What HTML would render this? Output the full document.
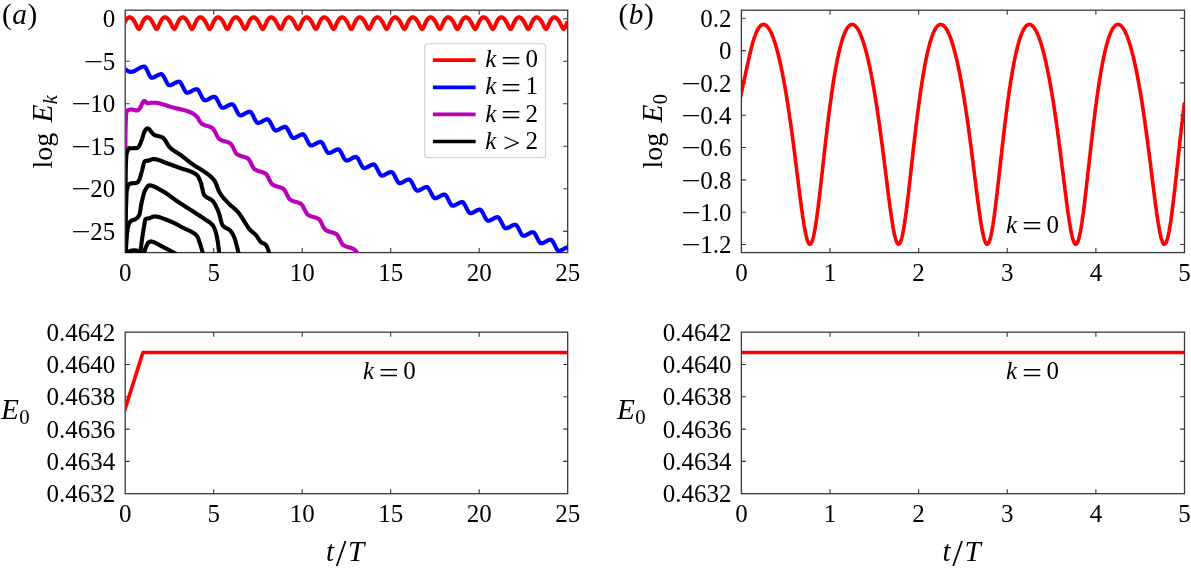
<!DOCTYPE html>
<html lang="en">
<head>
<meta charset="utf-8">
<title>Figure</title>
<style>html,body{margin:0;padding:0;background:#fff;}svg{display:block;}</style>
</head>
<body>
<svg width="1191" height="569" viewBox="0 0 1191 569" font-family="'Liberation Serif', 'Times New Roman', serif" fill="#000" style="will-change:transform">
<rect width="1191" height="569" fill="#fff"/>
<defs>
<clipPath id="cA"><rect x="125.75" y="10.20" width="441.95" height="242.70"/></clipPath>
<clipPath id="cB"><rect x="741.95" y="10.20" width="442.55" height="242.70"/></clipPath>
<clipPath id="cC"><rect x="125.75" y="332.15" width="441.95" height="161.85"/></clipPath>
<clipPath id="cD"><rect x="741.95" y="332.15" width="442.55" height="161.85"/></clipPath>
</defs>
<rect x="125.20" y="10.20" width="442.50" height="242.40" fill="none" stroke="#383838" stroke-width="1.30"/>
<path d="M213.70 252.60v-4.50M213.70 10.20v4.50M302.20 252.60v-4.50M302.20 10.20v4.50M390.70 252.60v-4.50M390.70 10.20v4.50M479.20 252.60v-4.50M479.20 10.20v4.50M125.20 18.71h4.50M567.70 18.71h-4.50M125.20 61.23h4.50M567.70 61.23h-4.50M125.20 103.76h4.50M567.70 103.76h-4.50M125.20 146.28h4.50M567.70 146.28h-4.50M125.20 188.81h4.50M567.70 188.81h-4.50M125.20 231.34h4.50M567.70 231.34h-4.50" fill="none" stroke="#383838" stroke-width="1.10"/>
<text x="125.2" y="280.9" text-anchor="middle" font-size="25.0">0</text>
<text x="213.7" y="280.9" text-anchor="middle" font-size="25.0">5</text>
<text x="302.2" y="280.9" text-anchor="middle" font-size="25.0">10</text>
<text x="390.7" y="280.9" text-anchor="middle" font-size="25.0">15</text>
<text x="479.2" y="280.9" text-anchor="middle" font-size="25.0">20</text>
<text x="567.7" y="280.9" text-anchor="middle" font-size="25.0">25</text>
<text x="115.3" y="27.3" text-anchor="end" font-size="25.0">0</text>
<g><text transform="translate(103.2 69.8) scale(1.38 1)" text-anchor="end" font-size="25.0">−</text><text x="115.3" y="69.8" text-anchor="end" font-size="25.0">5</text></g>
<g><text transform="translate(90.7 112.4) scale(1.38 1)" text-anchor="end" font-size="25.0">−</text><text x="115.3" y="112.4" text-anchor="end" font-size="25.0">10</text></g>
<g><text transform="translate(90.7 154.9) scale(1.38 1)" text-anchor="end" font-size="25.0">−</text><text x="115.3" y="154.9" text-anchor="end" font-size="25.0">15</text></g>
<g><text transform="translate(90.7 197.4) scale(1.38 1)" text-anchor="end" font-size="25.0">−</text><text x="115.3" y="197.4" text-anchor="end" font-size="25.0">20</text></g>
<g><text transform="translate(90.7 239.9) scale(1.38 1)" text-anchor="end" font-size="25.0">−</text><text x="115.3" y="239.9" text-anchor="end" font-size="25.0">25</text></g>
<polyline clip-path="url(#cA)" fill="none" stroke="#ff0000" stroke-width="4.10" stroke-linejoin="round" stroke-linecap="butt" points="123.4,25.6 123.6,25.2 123.8,24.8 123.9,24.4 124.1,24.0 124.3,23.6 124.5,23.2 124.6,22.8 124.8,22.4 125.0,22.1 125.1,21.7 125.3,21.4 125.5,21.1 125.7,20.7 125.8,20.4 126.0,20.2 126.2,19.9 126.3,19.6 126.5,19.4 126.7,19.2 126.8,18.9 127.0,18.7 127.2,18.6 127.4,18.4 127.5,18.2 127.7,18.1 127.9,18.0 128.0,17.8 128.2,17.7 128.4,17.6 128.6,17.6 128.7,17.5 128.9,17.4 129.1,17.4 129.2,17.4 129.4,17.3 129.6,17.3 129.8,17.3 129.9,17.3 130.1,17.4 130.3,17.4 130.4,17.5 130.6,17.5 130.8,17.6 131.0,17.7 131.1,17.8 131.3,17.9 131.5,18.0 131.6,18.1 131.8,18.2 132.0,18.4 132.1,18.5 132.3,18.7 132.5,18.8 132.7,19.0 132.8,19.2 133.0,19.4 133.2,19.6 133.3,19.8 133.5,20.1 133.7,20.3 133.9,20.6 134.0,20.8 134.2,21.1 134.4,21.4 134.5,21.7 134.7,22.0 134.9,22.3 135.1,22.6 135.2,22.9 135.4,23.2 135.6,23.6 135.7,23.9 135.9,24.3 136.1,24.6 136.3,25.0 136.4,25.4 136.6,25.7 136.8,26.1 136.9,26.4 137.1,26.8 137.3,27.1 137.4,27.4 137.6,27.7 137.8,28.0 138.0,28.2 138.1,28.4 138.3,28.6 138.5,28.8 138.6,28.8 138.8,28.9 139.0,28.9 139.2,28.8 139.3,28.7 139.5,28.6 139.7,28.4 139.8,28.2 140.0,27.9 140.2,27.6 140.4,27.3 140.5,27.0 140.7,26.6 140.9,26.2 141.0,25.8 141.2,25.4 141.4,25.0 141.5,24.6 141.7,24.2 141.9,23.8 142.1,23.4 142.2,23.0 142.4,22.6 142.6,22.3 142.7,21.9 142.9,21.6 143.1,21.2 143.3,20.9 143.4,20.6 143.6,20.3 143.8,20.0 143.9,19.8 144.1,19.5 144.3,19.3 144.5,19.1 144.6,18.9 144.8,18.7 145.0,18.5 145.1,18.3 145.3,18.2 145.5,18.0 145.7,17.9 145.8,17.8 146.0,17.7 146.2,17.6 146.3,17.5 146.5,17.5 146.7,17.4 146.8,17.4 147.0,17.3 147.2,17.3 147.4,17.3 147.5,17.3 147.7,17.4 147.9,17.4 148.0,17.4 148.2,17.5 148.4,17.5 148.6,17.6 148.7,17.7 148.9,17.8 149.1,17.9 149.2,18.0 149.4,18.1 149.6,18.3 149.8,18.4 149.9,18.6 150.1,18.7 150.3,18.9 150.4,19.1 150.6,19.3 150.8,19.5 151.0,19.7 151.1,19.9 151.3,20.2 151.5,20.4 151.6,20.7 151.8,20.9 152.0,21.2 152.1,21.5 152.3,21.8 152.5,22.1 152.7,22.4 152.8,22.7 153.0,23.1 153.2,23.4 153.3,23.7 153.5,24.1 153.7,24.5 153.9,24.8 154.0,25.2 154.2,25.5 154.4,25.9 154.5,26.2 154.7,26.6 154.9,26.9 155.1,27.3 155.2,27.6 155.4,27.9 155.6,28.1 155.7,28.3 155.9,28.5 156.1,28.7 156.3,28.8 156.4,28.9 156.6,28.9 156.8,28.9 156.9,28.8 157.1,28.7 157.3,28.5 157.4,28.3 157.6,28.1 157.8,27.8 158.0,27.5 158.1,27.1 158.3,26.8 158.5,26.4 158.6,26.0 158.8,25.6 159.0,25.2 159.2,24.8 159.3,24.4 159.5,24.0 159.7,23.6 159.8,23.2 160.0,22.8 160.2,22.5 160.4,22.1 160.5,21.8 160.7,21.4 160.9,21.1 161.0,20.8 161.2,20.5 161.4,20.2 161.5,19.9 161.7,19.7 161.9,19.4 162.1,19.2 162.2,19.0 162.4,18.8 162.6,18.6 162.7,18.4 162.9,18.2 163.1,18.1 163.3,18.0 163.4,17.8 163.6,17.7 163.8,17.6 163.9,17.6 164.1,17.5 164.3,17.4 164.5,17.4 164.6,17.4 164.8,17.3 165.0,17.3 165.1,17.3 165.3,17.3 165.5,17.4 165.7,17.4 165.8,17.5 166.0,17.5 166.2,17.6 166.3,17.7 166.5,17.7 166.7,17.8 166.8,18.0 167.0,18.1 167.2,18.2 167.4,18.3 167.5,18.5 167.7,18.7 167.9,18.8 168.0,19.0 168.2,19.2 168.4,19.4 168.6,19.6 168.7,19.8 168.9,20.1 169.1,20.3 169.2,20.5 169.4,20.8 169.6,21.1 169.8,21.3 169.9,21.6 170.1,21.9 170.3,22.2 170.4,22.6 170.6,22.9 170.8,23.2 171.0,23.6 171.1,23.9 171.3,24.3 171.5,24.6 171.6,25.0 171.8,25.3 172.0,25.7 172.1,26.1 172.3,26.4 172.5,26.8 172.7,27.1 172.8,27.4 173.0,27.7 173.2,28.0 173.3,28.2 173.5,28.4 173.7,28.6 173.9,28.7 174.0,28.8 174.2,28.9 174.4,28.9 174.5,28.8 174.7,28.8 174.9,28.6 175.1,28.4 175.2,28.2 175.4,27.9 175.6,27.7 175.7,27.3 175.9,27.0 176.1,26.6 176.3,26.2 176.4,25.8 176.6,25.4 176.8,25.0 176.9,24.6 177.1,24.2 177.3,23.8 177.4,23.4 177.6,23.1 177.8,22.7 178.0,22.3 178.1,21.9 178.3,21.6 178.5,21.3 178.6,20.9 178.8,20.6 179.0,20.3 179.2,20.1 179.3,19.8 179.5,19.5 179.7,19.3 179.8,19.1 180.0,18.9 180.2,18.7 180.4,18.5 180.5,18.3 180.7,18.2 180.9,18.0 181.0,17.9 181.2,17.8 181.4,17.7 181.5,17.6 181.7,17.5 181.9,17.5 182.1,17.4 182.2,17.4 182.4,17.3 182.6,17.3 182.7,17.3 182.9,17.3 183.1,17.4 183.3,17.4 183.4,17.4 183.6,17.5 183.8,17.5 183.9,17.6 184.1,17.7 184.3,17.8 184.5,17.9 184.6,18.0 184.8,18.1 185.0,18.3 185.1,18.4 185.3,18.6 185.5,18.7 185.7,18.9 185.8,19.1 186.0,19.3 186.2,19.5 186.3,19.7 186.5,19.9 186.7,20.2 186.8,20.4 187.0,20.7 187.2,20.9 187.4,21.2 187.5,21.5 187.7,21.8 187.9,22.1 188.0,22.4 188.2,22.7 188.4,23.0 188.6,23.4 188.7,23.7 188.9,24.1 189.1,24.4 189.2,24.8 189.4,25.1 189.6,25.5 189.8,25.9 189.9,26.2 190.1,26.6 190.3,26.9 190.4,27.2 190.6,27.5 190.8,27.8 191.0,28.1 191.1,28.3 191.3,28.5 191.5,28.7 191.6,28.8 191.8,28.9 192.0,28.9 192.1,28.9 192.3,28.8 192.5,28.7 192.7,28.5 192.8,28.3 193.0,28.1 193.2,27.8 193.3,27.5 193.5,27.2 193.7,26.8 193.9,26.4 194.0,26.1 194.2,25.7 194.4,25.3 194.5,24.9 194.7,24.5 194.9,24.1 195.1,23.7 195.2,23.3 195.4,22.9 195.6,22.5 195.7,22.1 195.9,21.8 196.1,21.4 196.2,21.1 196.4,20.8 196.6,20.5 196.8,20.2 196.9,19.9 197.1,19.7 197.3,19.4 197.4,19.2 197.6,19.0 197.8,18.8 198.0,18.6 198.1,18.4 198.3,18.3 198.5,18.1 198.6,18.0 198.8,17.9 199.0,17.7 199.2,17.7 199.3,17.6 199.5,17.5 199.7,17.4 199.8,17.4 200.0,17.4 200.2,17.3 200.4,17.3 200.5,17.3 200.7,17.3 200.9,17.4 201.0,17.4 201.2,17.4 201.4,17.5 201.5,17.6 201.7,17.7 201.9,17.7 202.1,17.8 202.2,17.9 202.4,18.1 202.6,18.2 202.7,18.3 202.9,18.5 203.1,18.6 203.3,18.8 203.4,19.0 203.6,19.2 203.8,19.4 203.9,19.6 204.1,19.8 204.3,20.0 204.5,20.3 204.6,20.5 204.8,20.8 205.0,21.0 205.1,21.3 205.3,21.6 205.5,21.9 205.7,22.2 205.8,22.5 206.0,22.9 206.2,23.2 206.3,23.5 206.5,23.9 206.7,24.2 206.8,24.6 207.0,24.9 207.2,25.3 207.4,25.7 207.5,26.0 207.7,26.4 207.9,26.7 208.0,27.1 208.2,27.4 208.4,27.7 208.6,27.9 208.7,28.2 208.9,28.4 209.1,28.6 209.2,28.7 209.4,28.8 209.6,28.9 209.8,28.9 209.9,28.9 210.1,28.8 210.3,28.6 210.4,28.4 210.6,28.2 210.8,28.0 211.0,27.7 211.1,27.4 211.3,27.0 211.5,26.7 211.6,26.3 211.8,25.9 212.0,25.5 212.1,25.1 212.3,24.7 212.5,24.3 212.7,23.9 212.8,23.5 213.0,23.1 213.2,22.7 213.3,22.3 213.5,22.0 213.7,21.6 213.9,21.3 214.0,21.0 214.2,20.7 214.4,20.4 214.5,20.1 214.7,19.8 214.9,19.6 215.1,19.3 215.2,19.1 215.4,18.9 215.6,18.7 215.7,18.5 215.9,18.3 216.1,18.2 216.2,18.0 216.4,17.9 216.6,17.8 216.8,17.7 216.9,17.6 217.1,17.5 217.3,17.5 217.4,17.4 217.6,17.4 217.8,17.3 218.0,17.3 218.1,17.3 218.3,17.3 218.5,17.4 218.6,17.4 218.8,17.4 219.0,17.5 219.2,17.5 219.3,17.6 219.5,17.7 219.7,17.8 219.8,17.9 220.0,18.0 220.2,18.1 220.4,18.3 220.5,18.4 220.7,18.6 220.9,18.7 221.0,18.9 221.2,19.1 221.4,19.3 221.5,19.5 221.7,19.7 221.9,19.9 222.1,20.1 222.2,20.4 222.4,20.6 222.6,20.9 222.7,21.2 222.9,21.5 223.1,21.7 223.3,22.0 223.4,22.4 223.6,22.7 223.8,23.0 223.9,23.3 224.1,23.7 224.3,24.0 224.5,24.4 224.6,24.7 224.8,25.1 225.0,25.5 225.1,25.8 225.3,26.2 225.5,26.5 225.7,26.9 225.8,27.2 226.0,27.5 226.2,27.8 226.3,28.1 226.5,28.3 226.7,28.5 226.8,28.7 227.0,28.8 227.2,28.9 227.4,28.9 227.5,28.9 227.7,28.8 227.9,28.7 228.0,28.6 228.2,28.4 228.4,28.1 228.6,27.8 228.7,27.5 228.9,27.2 229.1,26.9 229.2,26.5 229.4,26.1 229.6,25.7 229.8,25.3 229.9,24.9 230.1,24.5 230.3,24.1 230.4,23.7 230.6,23.3 230.8,22.9 231.0,22.5 231.1,22.2 231.3,21.8 231.5,21.5 231.6,21.1 231.8,20.8 232.0,20.5 232.1,20.2 232.3,20.0 232.5,19.7 232.7,19.5 232.8,19.2 233.0,19.0 233.2,18.8 233.3,18.6 233.5,18.4 233.7,18.3 233.9,18.1 234.0,18.0 234.2,17.9 234.4,17.8 234.5,17.7 234.7,17.6 234.9,17.5 235.1,17.4 235.2,17.4 235.4,17.4 235.6,17.3 235.7,17.3 235.9,17.3 236.1,17.3 236.2,17.4 236.4,17.4 236.6,17.4 236.8,17.5 236.9,17.6 237.1,17.6 237.3,17.7 237.4,17.8 237.6,17.9 237.8,18.1 238.0,18.2 238.1,18.3 238.3,18.5 238.5,18.6 238.6,18.8 238.8,19.0 239.0,19.2 239.2,19.4 239.3,19.6 239.5,19.8 239.7,20.0 239.8,20.2 240.0,20.5 240.2,20.8 240.4,21.0 240.5,21.3 240.7,21.6 240.9,21.9 241.0,22.2 241.2,22.5 241.4,22.8 241.5,23.2 241.7,23.5 241.9,23.8 242.1,24.2 242.2,24.5 242.4,24.9 242.6,25.3 242.7,25.6 242.9,26.0 243.1,26.3 243.3,26.7 243.4,27.0 243.6,27.3 243.8,27.6 243.9,27.9 244.1,28.2 244.3,28.4 244.5,28.6 244.6,28.7 244.8,28.8 245.0,28.9 245.1,28.9 245.3,28.9 245.5,28.8 245.7,28.6 245.8,28.5 246.0,28.3 246.2,28.0 246.3,27.7 246.5,27.4 246.7,27.0 246.8,26.7 247.0,26.3 247.2,25.9 247.4,25.5 247.5,25.1 247.7,24.7 247.9,24.3 248.0,23.9 248.2,23.5 248.4,23.1 248.6,22.7 248.7,22.4 248.9,22.0 249.1,21.7 249.2,21.3 249.4,21.0 249.6,20.7 249.8,20.4 249.9,20.1 250.1,19.8 250.3,19.6 250.4,19.4 250.6,19.1 250.8,18.9 251.0,18.7 251.1,18.5 251.3,18.4 251.5,18.2 251.6,18.1 251.8,17.9 252.0,17.8 252.1,17.7 252.3,17.6 252.5,17.5 252.7,17.5 252.8,17.4 253.0,17.4 253.2,17.4 253.3,17.3 253.5,17.3 253.7,17.3 253.9,17.4 254.0,17.4 254.2,17.4 254.4,17.5 254.5,17.5 254.7,17.6 254.9,17.7 255.1,17.8 255.2,17.9 255.4,18.0 255.6,18.1 255.7,18.2 255.9,18.4 256.1,18.5 256.2,18.7 256.4,18.9 256.6,19.1 256.8,19.2 256.9,19.5 257.1,19.7 257.3,19.9 257.4,20.1 257.6,20.4 257.8,20.6 258.0,20.9 258.1,21.1 258.3,21.4 258.5,21.7 258.6,22.0 258.8,22.3 259.0,22.6 259.2,23.0 259.3,23.3 259.5,23.6 259.7,24.0 259.8,24.4 260.0,24.7 260.2,25.1 260.4,25.4 260.5,25.8 260.7,26.2 260.9,26.5 261.0,26.8 261.2,27.2 261.4,27.5 261.5,27.8 261.7,28.0 261.9,28.3 262.1,28.5 262.2,28.7 262.4,28.8 262.6,28.9 262.7,28.9 262.9,28.9 263.1,28.8 263.3,28.7 263.4,28.6 263.6,28.4 263.8,28.1 263.9,27.9 264.1,27.6 264.3,27.2 264.5,26.9 264.6,26.5 264.8,26.1 265.0,25.7 265.1,25.3 265.3,24.9 265.5,24.5 265.7,24.1 265.8,23.7 266.0,23.3 266.2,22.9 266.3,22.6 266.5,22.2 266.7,21.9 266.8,21.5 267.0,21.2 267.2,20.9 267.4,20.6 267.5,20.3 267.7,20.0 267.9,19.7 268.0,19.5 268.2,19.2 268.4,19.0 268.6,18.8 268.7,18.6 268.9,18.5 269.1,18.3 269.2,18.1 269.4,18.0 269.6,17.9 269.8,17.8 269.9,17.7 270.1,17.6 270.3,17.5 270.4,17.4 270.6,17.4 270.8,17.4 271.0,17.3 271.1,17.3 271.3,17.3 271.5,17.3 271.6,17.4 271.8,17.4 272.0,17.4 272.1,17.5 272.3,17.6 272.5,17.6 272.7,17.7 272.8,17.8 273.0,17.9 273.2,18.0 273.3,18.2 273.5,18.3 273.7,18.5 273.9,18.6 274.0,18.8 274.2,19.0 274.4,19.1 274.5,19.3 274.7,19.5 274.9,19.8 275.1,20.0 275.2,20.2 275.4,20.5 275.6,20.7 275.7,21.0 275.9,21.3 276.1,21.6 276.2,21.9 276.4,22.2 276.6,22.5 276.8,22.8 276.9,23.1 277.1,23.5 277.3,23.8 277.4,24.2 277.6,24.5 277.8,24.9 278.0,25.2 278.1,25.6 278.3,26.0 278.5,26.3 278.6,26.7 278.8,27.0 279.0,27.3 279.2,27.6 279.3,27.9 279.5,28.2 279.7,28.4 279.8,28.6 280.0,28.7 280.2,28.8 280.4,28.9 280.5,28.9 280.7,28.9 280.9,28.8 281.0,28.7 281.2,28.5 281.4,28.3 281.5,28.0 281.7,27.7 281.9,27.4 282.1,27.1 282.2,26.7 282.4,26.3 282.6,26.0 282.7,25.6 282.9,25.2 283.1,24.7 283.3,24.3 283.4,23.9 283.6,23.5 283.8,23.2 283.9,22.8 284.1,22.4 284.3,22.0 284.5,21.7 284.6,21.4 284.8,21.0 285.0,20.7 285.1,20.4 285.3,20.1 285.5,19.9 285.7,19.6 285.8,19.4 286.0,19.1 286.2,18.9 286.3,18.7 286.5,18.5 286.7,18.4 286.8,18.2 287.0,18.1 287.2,17.9 287.4,17.8 287.5,17.7 287.7,17.6 287.9,17.5 288.0,17.5 288.2,17.4 288.4,17.4 288.6,17.4 288.7,17.3 288.9,17.3 289.1,17.3 289.2,17.3 289.4,17.4 289.6,17.4 289.8,17.5 289.9,17.5 290.1,17.6 290.3,17.7 290.4,17.8 290.6,17.9 290.8,18.0 291.0,18.1 291.1,18.2 291.3,18.4 291.5,18.5 291.6,18.7 291.8,18.9 292.0,19.0 292.1,19.2 292.3,19.4 292.5,19.6 292.7,19.9 292.8,20.1 293.0,20.3 293.2,20.6 293.3,20.8 293.5,21.1 293.7,21.4 293.9,21.7 294.0,22.0 294.2,22.3 294.4,22.6 294.5,22.9 294.7,23.3 294.9,23.6 295.1,24.0 295.2,24.3 295.4,24.7 295.6,25.0 295.7,25.4 295.9,25.8 296.1,26.1 296.2,26.5 296.4,26.8 296.6,27.1 296.8,27.5 296.9,27.7 297.1,28.0 297.3,28.3 297.4,28.5 297.6,28.6 297.8,28.8 298.0,28.9 298.1,28.9 298.3,28.9 298.5,28.8 298.6,28.7 298.8,28.6 299.0,28.4 299.2,28.2 299.3,27.9 299.5,27.6 299.7,27.3 299.8,26.9 300.0,26.6 300.2,26.2 300.4,25.8 300.5,25.4 300.7,25.0 300.9,24.6 301.0,24.2 301.2,23.8 301.4,23.4 301.5,23.0 301.7,22.6 301.9,22.2 302.1,21.9 302.2,21.5 302.4,21.2 302.6,20.9 302.7,20.6 302.9,20.3 303.1,20.0 303.3,19.8 303.4,19.5 303.6,19.3 303.8,19.0 303.9,18.8 304.1,18.6 304.3,18.5 304.5,18.3 304.6,18.1 304.8,18.0 305.0,17.9 305.1,17.8 305.3,17.7 305.5,17.6 305.7,17.5 305.8,17.5 306.0,17.4 306.2,17.4 306.3,17.3 306.5,17.3 306.7,17.3 306.8,17.3 307.0,17.4 307.2,17.4 307.4,17.4 307.5,17.5 307.7,17.6 307.9,17.6 308.0,17.7 308.2,17.8 308.4,17.9 308.6,18.0 308.7,18.2 308.9,18.3 309.1,18.4 309.2,18.6 309.4,18.8 309.6,18.9 309.8,19.1 309.9,19.3 310.1,19.5 310.3,19.7 310.4,20.0 310.6,20.2 310.8,20.4 310.9,20.7 311.1,21.0 311.3,21.2 311.5,21.5 311.6,21.8 311.8,22.1 312.0,22.4 312.1,22.8 312.3,23.1 312.5,23.4 312.7,23.8 312.8,24.1 313.0,24.5 313.2,24.8 313.3,25.2 313.5,25.6 313.7,25.9 313.9,26.3 314.0,26.6 314.2,27.0 314.4,27.3 314.5,27.6 314.7,27.9 314.9,28.1 315.1,28.4 315.2,28.5 315.4,28.7 315.6,28.8 315.7,28.9 315.9,28.9 316.1,28.9 316.2,28.8 316.4,28.7 316.6,28.5 316.8,28.3 316.9,28.0 317.1,27.8 317.3,27.5 317.4,27.1 317.6,26.8 317.8,26.4 318.0,26.0 318.1,25.6 318.3,25.2 318.5,24.8 318.6,24.4 318.8,24.0 319.0,23.6 319.2,23.2 319.3,22.8 319.5,22.4 319.7,22.1 319.8,21.7 320.0,21.4 320.2,21.1 320.4,20.7 320.5,20.4 320.7,20.2 320.9,19.9 321.0,19.6 321.2,19.4 321.4,19.2 321.5,18.9 321.7,18.7 321.9,18.6 322.1,18.4 322.2,18.2 322.4,18.1 322.6,18.0 322.7,17.8 322.9,17.7 323.1,17.6 323.3,17.6 323.4,17.5 323.6,17.4 323.8,17.4 323.9,17.4 324.1,17.3 324.3,17.3 324.5,17.3 324.6,17.3 324.8,17.4 325.0,17.4 325.1,17.5 325.3,17.5 325.5,17.6 325.7,17.7 325.8,17.8 326.0,17.9 326.2,18.0 326.3,18.1 326.5,18.2 326.7,18.4 326.8,18.5 327.0,18.7 327.2,18.8 327.4,19.0 327.5,19.2 327.7,19.4 327.9,19.6 328.0,19.8 328.2,20.1 328.4,20.3 328.6,20.6 328.7,20.8 328.9,21.1 329.1,21.4 329.2,21.7 329.4,22.0 329.6,22.3 329.8,22.6 329.9,22.9 330.1,23.2 330.3,23.6 330.4,23.9 330.6,24.3 330.8,24.6 330.9,25.0 331.1,25.4 331.3,25.7 331.5,26.1 331.6,26.4 331.8,26.8 332.0,27.1 332.1,27.4 332.3,27.7 332.5,28.0 332.7,28.2 332.8,28.4 333.0,28.6 333.2,28.8 333.3,28.8 333.5,28.9 333.7,28.9 333.9,28.8 334.0,28.7 334.2,28.6 334.4,28.4 334.5,28.2 334.7,27.9 334.9,27.6 335.1,27.3 335.2,27.0 335.4,26.6 335.6,26.2 335.7,25.8 335.9,25.4 336.1,25.0 336.2,24.6 336.4,24.2 336.6,23.8 336.8,23.4 336.9,23.0 337.1,22.6 337.3,22.3 337.4,21.9 337.6,21.6 337.8,21.2 338.0,20.9 338.1,20.6 338.3,20.3 338.5,20.0 338.6,19.8 338.8,19.5 339.0,19.3 339.2,19.1 339.3,18.9 339.5,18.7 339.7,18.5 339.8,18.3 340.0,18.2 340.2,18.0 340.4,17.9 340.5,17.8 340.7,17.7 340.9,17.6 341.0,17.5 341.2,17.5 341.4,17.4 341.5,17.4 341.7,17.3 341.9,17.3 342.1,17.3 342.2,17.3 342.4,17.4 342.6,17.4 342.7,17.4 342.9,17.5 343.1,17.5 343.3,17.6 343.4,17.7 343.6,17.8 343.8,17.9 343.9,18.0 344.1,18.1 344.3,18.3 344.5,18.4 344.6,18.6 344.8,18.7 345.0,18.9 345.1,19.1 345.3,19.3 345.5,19.5 345.7,19.7 345.8,19.9 346.0,20.2 346.2,20.4 346.3,20.7 346.5,20.9 346.7,21.2 346.8,21.5 347.0,21.8 347.2,22.1 347.4,22.4 347.5,22.7 347.7,23.1 347.9,23.4 348.0,23.7 348.2,24.1 348.4,24.4 348.6,24.8 348.7,25.2 348.9,25.5 349.1,25.9 349.2,26.2 349.4,26.6 349.6,26.9 349.8,27.3 349.9,27.6 350.1,27.8 350.3,28.1 350.4,28.3 350.6,28.5 350.8,28.7 350.9,28.8 351.1,28.9 351.3,28.9 351.5,28.9 351.6,28.8 351.8,28.7 352.0,28.5 352.1,28.3 352.3,28.1 352.5,27.8 352.7,27.5 352.8,27.1 353.0,26.8 353.2,26.4 353.3,26.0 353.5,25.6 353.7,25.2 353.9,24.8 354.0,24.4 354.2,24.0 354.4,23.6 354.5,23.2 354.7,22.8 354.9,22.5 355.1,22.1 355.2,21.8 355.4,21.4 355.6,21.1 355.7,20.8 355.9,20.5 356.1,20.2 356.2,19.9 356.4,19.7 356.6,19.4 356.8,19.2 356.9,19.0 357.1,18.8 357.3,18.6 357.4,18.4 357.6,18.2 357.8,18.1 358.0,18.0 358.1,17.8 358.3,17.7 358.5,17.6 358.6,17.6 358.8,17.5 359.0,17.4 359.2,17.4 359.3,17.4 359.5,17.3 359.7,17.3 359.8,17.3 360.0,17.3 360.2,17.4 360.4,17.4 360.5,17.5 360.7,17.5 360.9,17.6 361.0,17.7 361.2,17.7 361.4,17.8 361.5,18.0 361.7,18.1 361.9,18.2 362.1,18.3 362.2,18.5 362.4,18.7 362.6,18.8 362.7,19.0 362.9,19.2 363.1,19.4 363.3,19.6 363.4,19.8 363.6,20.1 363.8,20.3 363.9,20.5 364.1,20.8 364.3,21.1 364.5,21.3 364.6,21.6 364.8,21.9 365.0,22.2 365.1,22.6 365.3,22.9 365.5,23.2 365.7,23.6 365.8,23.9 366.0,24.3 366.2,24.6 366.3,25.0 366.5,25.3 366.7,25.7 366.8,26.1 367.0,26.4 367.2,26.8 367.4,27.1 367.5,27.4 367.7,27.7 367.9,28.0 368.0,28.2 368.2,28.4 368.4,28.6 368.6,28.7 368.7,28.8 368.9,28.9 369.1,28.9 369.2,28.8 369.4,28.8 369.6,28.6 369.8,28.4 369.9,28.2 370.1,27.9 370.3,27.7 370.4,27.3 370.6,27.0 370.8,26.6 370.9,26.2 371.1,25.8 371.3,25.4 371.5,25.0 371.6,24.6 371.8,24.2 372.0,23.8 372.1,23.4 372.3,23.1 372.5,22.7 372.7,22.3 372.8,21.9 373.0,21.6 373.2,21.3 373.3,20.9 373.5,20.6 373.7,20.3 373.9,20.1 374.0,19.8 374.2,19.5 374.4,19.3 374.5,19.1 374.7,18.9 374.9,18.7 375.1,18.5 375.2,18.3 375.4,18.2 375.6,18.0 375.7,17.9 375.9,17.8 376.1,17.7 376.2,17.6 376.4,17.5 376.6,17.5 376.8,17.4 376.9,17.4 377.1,17.3 377.3,17.3 377.4,17.3 377.6,17.3 377.8,17.4 378.0,17.4 378.1,17.4 378.3,17.5 378.5,17.5 378.6,17.6 378.8,17.7 379.0,17.8 379.2,17.9 379.3,18.0 379.5,18.1 379.7,18.3 379.8,18.4 380.0,18.6 380.2,18.7 380.4,18.9 380.5,19.1 380.7,19.3 380.9,19.5 381.0,19.7 381.2,19.9 381.4,20.2 381.5,20.4 381.7,20.7 381.9,20.9 382.1,21.2 382.2,21.5 382.4,21.8 382.6,22.1 382.7,22.4 382.9,22.7 383.1,23.0 383.3,23.4 383.4,23.7 383.6,24.1 383.8,24.4 383.9,24.8 384.1,25.1 384.3,25.5 384.5,25.9 384.6,26.2 384.8,26.6 385.0,26.9 385.1,27.2 385.3,27.5 385.5,27.8 385.7,28.1 385.8,28.3 386.0,28.5 386.2,28.7 386.3,28.8 386.5,28.9 386.7,28.9 386.8,28.9 387.0,28.8 387.2,28.7 387.4,28.5 387.5,28.3 387.7,28.1 387.9,27.8 388.0,27.5 388.2,27.2 388.4,26.8 388.6,26.4 388.7,26.1 388.9,25.7 389.1,25.3 389.2,24.9 389.4,24.5 389.6,24.1 389.8,23.7 389.9,23.3 390.1,22.9 390.3,22.5 390.4,22.1 390.6,21.8 390.8,21.4 390.9,21.1 391.1,20.8 391.3,20.5 391.5,20.2 391.6,19.9 391.8,19.7 392.0,19.4 392.1,19.2 392.3,19.0 392.5,18.8 392.7,18.6 392.8,18.4 393.0,18.3 393.2,18.1 393.3,18.0 393.5,17.9 393.7,17.7 393.9,17.7 394.0,17.6 394.2,17.5 394.4,17.4 394.5,17.4 394.7,17.4 394.9,17.3 395.1,17.3 395.2,17.3 395.4,17.3 395.6,17.4 395.7,17.4 395.9,17.4 396.1,17.5 396.2,17.6 396.4,17.7 396.6,17.7 396.8,17.8 396.9,17.9 397.1,18.1 397.3,18.2 397.4,18.3 397.6,18.5 397.8,18.6 398.0,18.8 398.1,19.0 398.3,19.2 398.5,19.4 398.6,19.6 398.8,19.8 399.0,20.0 399.2,20.3 399.3,20.5 399.5,20.8 399.7,21.0 399.8,21.3 400.0,21.6 400.2,21.9 400.4,22.2 400.5,22.5 400.7,22.9 400.9,23.2 401.0,23.5 401.2,23.9 401.4,24.2 401.5,24.6 401.7,24.9 401.9,25.3 402.1,25.7 402.2,26.0 402.4,26.4 402.6,26.7 402.7,27.1 402.9,27.4 403.1,27.7 403.3,27.9 403.4,28.2 403.6,28.4 403.8,28.6 403.9,28.7 404.1,28.8 404.3,28.9 404.5,28.9 404.6,28.9 404.8,28.8 405.0,28.6 405.1,28.5 405.3,28.2 405.5,28.0 405.6,27.7 405.8,27.4 406.0,27.0 406.2,26.7 406.3,26.3 406.5,25.9 406.7,25.5 406.8,25.1 407.0,24.7 407.2,24.3 407.4,23.9 407.5,23.5 407.7,23.1 407.9,22.7 408.0,22.3 408.2,22.0 408.4,21.6 408.6,21.3 408.7,21.0 408.9,20.7 409.1,20.4 409.2,20.1 409.4,19.8 409.6,19.6 409.8,19.3 409.9,19.1 410.1,18.9 410.3,18.7 410.4,18.5 410.6,18.3 410.8,18.2 410.9,18.0 411.1,17.9 411.3,17.8 411.5,17.7 411.6,17.6 411.8,17.5 412.0,17.5 412.1,17.4 412.3,17.4 412.5,17.3 412.7,17.3 412.8,17.3 413.0,17.3 413.2,17.4 413.3,17.4 413.5,17.4 413.7,17.5 413.9,17.5 414.0,17.6 414.2,17.7 414.4,17.8 414.5,17.9 414.7,18.0 414.9,18.1 415.1,18.3 415.2,18.4 415.4,18.6 415.6,18.7 415.7,18.9 415.9,19.1 416.1,19.3 416.2,19.5 416.4,19.7 416.6,19.9 416.8,20.1 416.9,20.4 417.1,20.6 417.3,20.9 417.4,21.2 417.6,21.5 417.8,21.7 418.0,22.0 418.1,22.4 418.3,22.7 418.5,23.0 418.6,23.3 418.8,23.7 419.0,24.0 419.2,24.4 419.3,24.7 419.5,25.1 419.7,25.5 419.8,25.8 420.0,26.2 420.2,26.5 420.4,26.9 420.5,27.2 420.7,27.5 420.9,27.8 421.0,28.1 421.2,28.3 421.4,28.5 421.5,28.7 421.7,28.8 421.9,28.9 422.1,28.9 422.2,28.9 422.4,28.8 422.6,28.7 422.7,28.6 422.9,28.4 423.1,28.1 423.3,27.8 423.4,27.5 423.6,27.2 423.8,26.9 423.9,26.5 424.1,26.1 424.3,25.7 424.5,25.3 424.6,24.9 424.8,24.5 425.0,24.1 425.1,23.7 425.3,23.3 425.5,22.9 425.6,22.5 425.8,22.2 426.0,21.8 426.2,21.5 426.3,21.1 426.5,20.8 426.7,20.5 426.8,20.2 427.0,20.0 427.2,19.7 427.4,19.5 427.5,19.2 427.7,19.0 427.9,18.8 428.0,18.6 428.2,18.4 428.4,18.3 428.6,18.1 428.7,18.0 428.9,17.9 429.1,17.8 429.2,17.7 429.4,17.6 429.6,17.5 429.8,17.4 429.9,17.4 430.1,17.4 430.3,17.3 430.4,17.3 430.6,17.3 430.8,17.3 430.9,17.4 431.1,17.4 431.3,17.4 431.5,17.5 431.6,17.6 431.8,17.6 432.0,17.7 432.1,17.8 432.3,17.9 432.5,18.1 432.7,18.2 432.8,18.3 433.0,18.5 433.2,18.6 433.3,18.8 433.5,19.0 433.7,19.2 433.9,19.4 434.0,19.6 434.2,19.8 434.4,20.0 434.5,20.2 434.7,20.5 434.9,20.8 435.1,21.0 435.2,21.3 435.4,21.6 435.6,21.9 435.7,22.2 435.9,22.5 436.1,22.8 436.2,23.2 436.4,23.5 436.6,23.8 436.8,24.2 436.9,24.5 437.1,24.9 437.3,25.3 437.4,25.6 437.6,26.0 437.8,26.3 438.0,26.7 438.1,27.0 438.3,27.3 438.5,27.6 438.6,27.9 438.8,28.2 439.0,28.4 439.2,28.6 439.3,28.7 439.5,28.8 439.7,28.9 439.8,28.9 440.0,28.9 440.2,28.8 440.4,28.6 440.5,28.5 440.7,28.3 440.9,28.0 441.0,27.7 441.2,27.4 441.4,27.1 441.5,26.7 441.7,26.3 441.9,25.9 442.1,25.5 442.2,25.1 442.4,24.7 442.6,24.3 442.7,23.9 442.9,23.5 443.1,23.1 443.3,22.7 443.4,22.4 443.6,22.0 443.8,21.7 443.9,21.3 444.1,21.0 444.3,20.7 444.5,20.4 444.6,20.1 444.8,19.8 445.0,19.6 445.1,19.4 445.3,19.1 445.5,18.9 445.6,18.7 445.8,18.5 446.0,18.4 446.2,18.2 446.3,18.1 446.5,17.9 446.7,17.8 446.8,17.7 447.0,17.6 447.2,17.5 447.4,17.5 447.5,17.4 447.7,17.4 447.9,17.4 448.0,17.3 448.2,17.3 448.4,17.3 448.6,17.4 448.7,17.4 448.9,17.4 449.1,17.5 449.2,17.5 449.4,17.6 449.6,17.7 449.8,17.8 449.9,17.9 450.1,18.0 450.3,18.1 450.4,18.2 450.6,18.4 450.8,18.5 450.9,18.7 451.1,18.9 451.3,19.1 451.5,19.2 451.6,19.5 451.8,19.7 452.0,19.9 452.1,20.1 452.3,20.4 452.5,20.6 452.7,20.9 452.8,21.1 453.0,21.4 453.2,21.7 453.3,22.0 453.5,22.3 453.7,22.6 453.9,23.0 454.0,23.3 454.2,23.6 454.4,24.0 454.5,24.4 454.7,24.7 454.9,25.1 455.1,25.4 455.2,25.8 455.4,26.1 455.6,26.5 455.7,26.8 455.9,27.2 456.1,27.5 456.2,27.8 456.4,28.0 456.6,28.3 456.8,28.5 456.9,28.7 457.1,28.8 457.3,28.9 457.4,28.9 457.6,28.9 457.8,28.8 458.0,28.7 458.1,28.6 458.3,28.4 458.5,28.1 458.6,27.9 458.8,27.6 459.0,27.2 459.2,26.9 459.3,26.5 459.5,26.1 459.7,25.7 459.8,25.3 460.0,24.9 460.2,24.5 460.4,24.1 460.5,23.7 460.7,23.3 460.9,22.9 461.0,22.6 461.2,22.2 461.4,21.9 461.5,21.5 461.7,21.2 461.9,20.9 462.1,20.6 462.2,20.3 462.4,20.0 462.6,19.7 462.7,19.5 462.9,19.2 463.1,19.0 463.3,18.8 463.4,18.6 463.6,18.5 463.8,18.3 463.9,18.1 464.1,18.0 464.3,17.9 464.5,17.8 464.6,17.7 464.8,17.6 465.0,17.5 465.1,17.4 465.3,17.4 465.5,17.4 465.6,17.3 465.8,17.3 466.0,17.3 466.2,17.3 466.3,17.4 466.5,17.4 466.7,17.4 466.8,17.5 467.0,17.6 467.2,17.6 467.4,17.7 467.5,17.8 467.7,17.9 467.9,18.0 468.0,18.2 468.2,18.3 468.4,18.5 468.6,18.6 468.7,18.8 468.9,19.0 469.1,19.1 469.2,19.3 469.4,19.5 469.6,19.8 469.8,20.0 469.9,20.2 470.1,20.5 470.3,20.7 470.4,21.0 470.6,21.3 470.8,21.6 470.9,21.9 471.1,22.2 471.3,22.5 471.5,22.8 471.6,23.1 471.8,23.5 472.0,23.8 472.1,24.2 472.3,24.5 472.5,24.9 472.7,25.2 472.8,25.6 473.0,26.0 473.2,26.3 473.3,26.7 473.5,27.0 473.7,27.3 473.9,27.6 474.0,27.9 474.2,28.2 474.4,28.4 474.5,28.6 474.7,28.7 474.9,28.8 475.1,28.9 475.2,28.9 475.4,28.9 475.6,28.8 475.7,28.7 475.9,28.5 476.1,28.3 476.2,28.0 476.4,27.7 476.6,27.4 476.8,27.1 476.9,26.7 477.1,26.3 477.3,26.0 477.4,25.6 477.6,25.2 477.8,24.7 478.0,24.3 478.1,23.9 478.3,23.5 478.5,23.2 478.6,22.8 478.8,22.4 479.0,22.0 479.2,21.7 479.3,21.4 479.5,21.0 479.7,20.7 479.8,20.4 480.0,20.1 480.2,19.9 480.4,19.6 480.5,19.4 480.7,19.1 480.9,18.9 481.0,18.7 481.2,18.5 481.4,18.4 481.5,18.2 481.7,18.1 481.9,17.9 482.1,17.8 482.2,17.7 482.4,17.6 482.6,17.5 482.7,17.5 482.9,17.4 483.1,17.4 483.3,17.4 483.4,17.3 483.6,17.3 483.8,17.3 483.9,17.3 484.1,17.4 484.3,17.4 484.5,17.5 484.6,17.5 484.8,17.6 485.0,17.7 485.1,17.8 485.3,17.9 485.5,18.0 485.6,18.1 485.8,18.2 486.0,18.4 486.2,18.5 486.3,18.7 486.5,18.9 486.7,19.0 486.8,19.2 487.0,19.4 487.2,19.6 487.4,19.9 487.5,20.1 487.7,20.3 487.9,20.6 488.0,20.8 488.2,21.1 488.4,21.4 488.6,21.7 488.7,22.0 488.9,22.3 489.1,22.6 489.2,22.9 489.4,23.3 489.6,23.6 489.8,24.0 489.9,24.3 490.1,24.7 490.3,25.0 490.4,25.4 490.6,25.8 490.8,26.1 490.9,26.5 491.1,26.8 491.3,27.1 491.5,27.5 491.6,27.7 491.8,28.0 492.0,28.3 492.1,28.5 492.3,28.6 492.5,28.8 492.7,28.9 492.8,28.9 493.0,28.9 493.2,28.8 493.3,28.7 493.5,28.6 493.7,28.4 493.9,28.2 494.0,27.9 494.2,27.6 494.4,27.3 494.5,26.9 494.7,26.6 494.9,26.2 495.1,25.8 495.2,25.4 495.4,25.0 495.6,24.6 495.7,24.2 495.9,23.8 496.1,23.4 496.2,23.0 496.4,22.6 496.6,22.2 496.8,21.9 496.9,21.5 497.1,21.2 497.3,20.9 497.4,20.6 497.6,20.3 497.8,20.0 498.0,19.8 498.1,19.5 498.3,19.3 498.5,19.0 498.6,18.8 498.8,18.6 499.0,18.5 499.2,18.3 499.3,18.1 499.5,18.0 499.7,17.9 499.8,17.8 500.0,17.7 500.2,17.6 500.4,17.5 500.5,17.5 500.7,17.4 500.9,17.4 501.0,17.3 501.2,17.3 501.4,17.3 501.5,17.3 501.7,17.4 501.9,17.4 502.1,17.4 502.2,17.5 502.4,17.6 502.6,17.6 502.7,17.7 502.9,17.8 503.1,17.9 503.3,18.0 503.4,18.2 503.6,18.3 503.8,18.4 503.9,18.6 504.1,18.8 504.3,18.9 504.5,19.1 504.6,19.3 504.8,19.5 505.0,19.7 505.1,20.0 505.3,20.2 505.5,20.4 505.6,20.7 505.8,21.0 506.0,21.2 506.2,21.5 506.3,21.8 506.5,22.1 506.7,22.4 506.8,22.8 507.0,23.1 507.2,23.4 507.4,23.8 507.5,24.1 507.7,24.5 507.9,24.8 508.0,25.2 508.2,25.6 508.4,25.9 508.6,26.3 508.7,26.6 508.9,27.0 509.1,27.3 509.2,27.6 509.4,27.9 509.6,28.1 509.8,28.4 509.9,28.5 510.1,28.7 510.3,28.8 510.4,28.9 510.6,28.9 510.8,28.9 510.9,28.8 511.1,28.7 511.3,28.5 511.5,28.3 511.6,28.0 511.8,27.8 512.0,27.5 512.1,27.1 512.3,26.8 512.5,26.4 512.7,26.0 512.8,25.6 513.0,25.2 513.2,24.8 513.3,24.4 513.5,24.0 513.7,23.6 513.9,23.2 514.0,22.8 514.2,22.4 514.4,22.1 514.5,21.7 514.7,21.4 514.9,21.1 515.1,20.7 515.2,20.5 515.4,20.2 515.6,19.9 515.7,19.6 515.9,19.4 516.1,19.2 516.2,19.0 516.4,18.8 516.6,18.6 516.8,18.4 516.9,18.2 517.1,18.1 517.3,18.0 517.4,17.8 517.6,17.7 517.8,17.6 518.0,17.6 518.1,17.5 518.3,17.4 518.5,17.4 518.6,17.4 518.8,17.3 519.0,17.3 519.2,17.3 519.3,17.3 519.5,17.4 519.7,17.4 519.8,17.5 520.0,17.5 520.2,17.6 520.3,17.7 520.5,17.8 520.7,17.9 520.9,18.0 521.0,18.1 521.2,18.2 521.4,18.4 521.5,18.5 521.7,18.7 521.9,18.8 522.1,19.0 522.2,19.2 522.4,19.4 522.6,19.6 522.7,19.8 522.9,20.1 523.1,20.3 523.3,20.6 523.4,20.8 523.6,21.1 523.8,21.4 523.9,21.7 524.1,22.0 524.3,22.3 524.5,22.6 524.6,22.9 524.8,23.2 525.0,23.6 525.1,23.9 525.3,24.3 525.5,24.6 525.6,25.0 525.8,25.4 526.0,25.7 526.2,26.1 526.3,26.4 526.5,26.8 526.7,27.1 526.8,27.4 527.0,27.7 527.2,28.0 527.4,28.2 527.5,28.4 527.7,28.6 527.9,28.8 528.0,28.8 528.2,28.9 528.4,28.9 528.6,28.8 528.7,28.7 528.9,28.6 529.1,28.4 529.2,28.2 529.4,27.9 529.6,27.6 529.8,27.3 529.9,27.0 530.1,26.6 530.3,26.2 530.4,25.8 530.6,25.4 530.8,25.0 530.9,24.6 531.1,24.2 531.3,23.8 531.5,23.4 531.6,23.0 531.8,22.6 532.0,22.3 532.1,21.9 532.3,21.6 532.5,21.2 532.7,20.9 532.8,20.6 533.0,20.3 533.2,20.0 533.3,19.8 533.5,19.5 533.7,19.3 533.9,19.1 534.0,18.9 534.2,18.7 534.4,18.5 534.5,18.3 534.7,18.2 534.9,18.0 535.1,17.9 535.2,17.8 535.4,17.7 535.6,17.6 535.7,17.5 535.9,17.5 536.1,17.4 536.2,17.4 536.4,17.3 536.6,17.3 536.8,17.3 536.9,17.3 537.1,17.4 537.3,17.4 537.4,17.4 537.6,17.5 537.8,17.5 538.0,17.6 538.1,17.7 538.3,17.8 538.5,17.9 538.6,18.0 538.8,18.1 539.0,18.3 539.2,18.4 539.3,18.6 539.5,18.7 539.7,18.9 539.8,19.1 540.0,19.3 540.2,19.5 540.3,19.7 540.5,19.9 540.7,20.2 540.9,20.4 541.0,20.7 541.2,20.9 541.4,21.2 541.5,21.5 541.7,21.8 541.9,22.1 542.1,22.4 542.2,22.7 542.4,23.1 542.6,23.4 542.7,23.7 542.9,24.1 543.1,24.4 543.3,24.8 543.4,25.2 543.6,25.5 543.8,25.9 543.9,26.2 544.1,26.6 544.3,26.9 544.5,27.3 544.6,27.6 544.8,27.8 545.0,28.1 545.1,28.3 545.3,28.5 545.5,28.7 545.6,28.8 545.8,28.9 546.0,28.9 546.2,28.9 546.3,28.8 546.5,28.7 546.7,28.5 546.8,28.3 547.0,28.1 547.2,27.8 547.4,27.5 547.5,27.1 547.7,26.8 547.9,26.4 548.0,26.0 548.2,25.6 548.4,25.2 548.6,24.8 548.7,24.4 548.9,24.0 549.1,23.6 549.2,23.2 549.4,22.8 549.6,22.5 549.8,22.1 549.9,21.8 550.1,21.4 550.3,21.1 550.4,20.8 550.6,20.5 550.8,20.2 550.9,19.9 551.1,19.7 551.3,19.4 551.5,19.2 551.6,19.0 551.8,18.8 552.0,18.6 552.1,18.4 552.3,18.2 552.5,18.1 552.7,18.0 552.8,17.8 553.0,17.7 553.2,17.6 553.3,17.6 553.5,17.5 553.7,17.4 553.9,17.4 554.0,17.4 554.2,17.3 554.4,17.3 554.5,17.3 554.7,17.3 554.9,17.4 555.1,17.4 555.2,17.5 555.4,17.5 555.6,17.6 555.7,17.7 555.9,17.7 556.1,17.8 556.2,18.0 556.4,18.1 556.6,18.2 556.8,18.3 556.9,18.5 557.1,18.7 557.3,18.8 557.4,19.0 557.6,19.2 557.8,19.4 558.0,19.6 558.1,19.8 558.3,20.1 558.5,20.3 558.6,20.5 558.8,20.8 559.0,21.1 559.2,21.3 559.3,21.6 559.5,21.9 559.7,22.2 559.8,22.6 560.0,22.9 560.2,23.2 560.3,23.6 560.5,23.9 560.7,24.3 560.9,24.6 561.0,25.0 561.2,25.3 561.4,25.7 561.5,26.1 561.7,26.4 561.9,26.7 562.1,27.1 562.2,27.4 562.4,27.7 562.6,28.0 562.7,28.2 562.9,28.4 563.1,28.6 563.3,28.7 563.4,28.8 563.6,28.9 563.8,28.9 563.9,28.8 564.1,28.8 564.3,28.6 564.5,28.4 564.6,28.2 564.8,27.9 565.0,27.7 565.1,27.3 565.3,27.0 565.5,26.6 565.6,26.2 565.8,25.8 566.0,25.4 566.2,25.0 566.3,24.6 566.5,24.2 566.7,23.8 566.8,23.4 567.0,23.1 567.2,22.7 567.4,22.3 567.5,21.9 567.7,21.6"/>
<polyline clip-path="url(#cA)" fill="none" stroke="#0000ff" stroke-width="4.10" stroke-linejoin="round" stroke-linecap="butt" points="125.2,69.3 125.4,69.4 125.6,69.6 125.8,69.7 125.9,69.8 126.1,69.9 126.3,70.1 126.5,70.2 126.7,70.3 126.9,70.4 127.0,70.5 127.2,70.6 127.4,70.7 127.6,70.8 127.8,70.9 128.0,71.0 128.2,71.1 128.3,71.2 128.5,71.3 128.7,71.4 128.9,71.4 129.1,71.5 129.3,71.6 129.4,71.6 129.6,71.7 129.8,71.7 130.0,71.8 130.2,71.8 130.4,71.8 130.5,71.8 130.7,71.9 130.9,71.9 131.1,71.9 131.3,71.9 131.5,71.8 131.7,71.8 131.8,71.8 132.0,71.8 132.2,71.7 132.4,71.7 132.6,71.7 132.8,71.6 132.9,71.6 133.1,71.5 133.3,71.4 133.5,71.4 133.7,71.3 133.9,71.2 134.1,71.2 134.2,71.1 134.4,71.0 134.6,70.9 134.8,70.8 135.0,70.7 135.2,70.6 135.3,70.5 135.5,70.4 135.7,70.3 135.9,70.2 136.1,70.1 136.3,70.0 136.5,69.9 136.6,69.8 136.8,69.7 137.0,69.6 137.2,69.5 137.4,69.4 137.6,69.2 137.7,69.1 137.9,69.0 138.1,68.9 138.3,68.8 138.5,68.7 138.7,68.6 138.8,68.5 139.0,68.4 139.2,68.3 139.4,68.2 139.6,68.1 139.8,68.0 140.0,67.9 140.1,67.8 140.3,67.7 140.5,67.6 140.7,67.5 140.9,67.4 141.1,67.3 141.2,67.2 141.4,67.2 141.6,67.1 141.8,67.0 142.0,67.0 142.2,66.9 142.4,66.9 142.5,66.8 142.7,66.8 142.9,66.7 143.1,66.7 143.3,66.7 143.5,66.6 143.6,66.6 143.8,66.6 144.0,66.6 144.2,66.6 144.4,66.6 144.6,66.7 144.8,66.8 144.9,66.9 145.1,67.1 145.3,67.3 145.5,67.5 145.7,67.8 145.9,68.0 146.0,68.3 146.2,68.6 146.4,69.0 146.6,69.3 146.8,69.7 147.0,70.1 147.1,70.4 147.3,70.8 147.5,71.2 147.7,71.6 147.9,72.0 148.1,72.4 148.3,72.8 148.4,73.2 148.6,73.6 148.8,74.0 149.0,74.4 149.2,74.8 149.4,75.1 149.5,75.5 149.7,75.8 149.9,76.1 150.1,76.4 150.3,76.7 150.5,76.9 150.7,77.1 150.8,77.3 151.0,77.4 151.2,77.6 151.4,77.7 151.6,77.7 151.8,77.7 151.9,77.7 152.1,77.7 152.3,77.7 152.5,77.7 152.7,77.6 152.9,77.6 153.0,77.5 153.2,77.5 153.4,77.4 153.6,77.4 153.8,77.3 154.0,77.2 154.2,77.2 154.3,77.1 154.5,77.0 154.7,76.9 154.9,76.8 155.1,76.7 155.3,76.6 155.4,76.5 155.6,76.4 155.8,76.3 156.0,76.2 156.2,76.1 156.4,76.0 156.6,75.9 156.7,75.8 156.9,75.7 157.1,75.6 157.3,75.5 157.5,75.4 157.7,75.3 157.8,75.2 158.0,75.1 158.2,75.0 158.4,74.9 158.6,74.8 158.8,74.7 159.0,74.7 159.1,74.6 159.3,74.5 159.5,74.5 159.7,74.4 159.9,74.3 160.1,74.3 160.2,74.2 160.4,74.2 160.6,74.2 160.8,74.1 161.0,74.1 161.2,74.1 161.3,74.1 161.5,74.1 161.7,74.2 161.9,74.3 162.1,74.4 162.3,74.5 162.5,74.7 162.6,74.9 162.8,75.1 163.0,75.4 163.2,75.6 163.4,75.9 163.6,76.2 163.7,76.5 163.9,76.8 164.1,77.2 164.3,77.5 164.5,77.9 164.7,78.2 164.9,78.6 165.0,79.0 165.2,79.4 165.4,79.7 165.6,80.1 165.8,80.5 166.0,80.9 166.1,81.2 166.3,81.6 166.5,82.0 166.7,82.3 166.9,82.6 167.1,83.0 167.3,83.3 167.4,83.6 167.6,83.8 167.8,84.1 168.0,84.3 168.2,84.5 168.4,84.7 168.5,84.9 168.7,85.0 168.9,85.1 169.1,85.2 169.3,85.2 169.5,85.3 169.6,85.3 169.8,85.2 170.0,85.2 170.2,85.2 170.4,85.2 170.6,85.1 170.8,85.1 170.9,85.0 171.1,85.0 171.3,84.9 171.5,84.8 171.7,84.8 171.9,84.7 172.0,84.6 172.2,84.5 172.4,84.4 172.6,84.3 172.8,84.2 173.0,84.1 173.2,84.1 173.3,84.0 173.5,83.8 173.7,83.7 173.9,83.6 174.1,83.5 174.3,83.4 174.4,83.3 174.6,83.2 174.8,83.1 175.0,83.0 175.2,82.9 175.4,82.8 175.6,82.7 175.7,82.6 175.9,82.5 176.1,82.4 176.3,82.4 176.5,82.3 176.7,82.2 176.8,82.1 177.0,82.0 177.2,82.0 177.4,81.9 177.6,81.9 177.8,81.8 177.9,81.8 178.1,81.7 178.3,81.7 178.5,81.7 178.7,81.7 178.9,81.6 179.1,81.6 179.2,81.7 179.4,81.7 179.6,81.8 179.8,81.9 180.0,82.1 180.2,82.3 180.3,82.4 180.5,82.7 180.7,82.9 180.9,83.2 181.1,83.4 181.3,83.7 181.5,84.1 181.6,84.4 181.8,84.7 182.0,85.1 182.2,85.4 182.4,85.8 182.6,86.2 182.7,86.5 182.9,86.9 183.1,87.3 183.3,87.7 183.5,88.0 183.7,88.4 183.9,88.8 184.0,89.1 184.2,89.5 184.4,89.8 184.6,90.2 184.8,90.5 185.0,90.8 185.1,91.1 185.3,91.4 185.5,91.6 185.7,91.8 185.9,92.1 186.1,92.2 186.2,92.4 186.4,92.5 186.6,92.6 186.8,92.7 187.0,92.8 187.2,92.8 187.4,92.8 187.5,92.8 187.7,92.7 187.9,92.7 188.1,92.7 188.3,92.6 188.5,92.6 188.6,92.5 188.8,92.5 189.0,92.4 189.2,92.4 189.4,92.3 189.6,92.2 189.8,92.1 189.9,92.0 190.1,92.0 190.3,91.9 190.5,91.8 190.7,91.7 190.9,91.6 191.0,91.5 191.2,91.4 191.4,91.3 191.6,91.2 191.8,91.1 192.0,91.0 192.2,90.9 192.3,90.7 192.5,90.6 192.7,90.5 192.9,90.4 193.1,90.3 193.3,90.2 193.4,90.1 193.6,90.1 193.8,90.0 194.0,89.9 194.2,89.8 194.4,89.7 194.5,89.6 194.7,89.6 194.9,89.5 195.1,89.4 195.3,89.4 195.5,89.3 195.7,89.3 195.8,89.3 196.0,89.2 196.2,89.2 196.4,89.2 196.6,89.2 196.8,89.2 196.9,89.2 197.1,89.3 197.3,89.3 197.5,89.5 197.7,89.6 197.9,89.8 198.1,90.0 198.2,90.2 198.4,90.4 198.6,90.7 198.8,91.0 199.0,91.3 199.2,91.6 199.3,91.9 199.5,92.3 199.7,92.6 199.9,93.0 200.1,93.3 200.3,93.7 200.5,94.1 200.6,94.4 200.8,94.8 201.0,95.2 201.2,95.6 201.4,96.0 201.6,96.3 201.7,96.7 201.9,97.0 202.1,97.4 202.3,97.7 202.5,98.0 202.7,98.3 202.8,98.6 203.0,98.9 203.2,99.1 203.4,99.4 203.6,99.6 203.8,99.8 204.0,99.9 204.1,100.1 204.3,100.2 204.5,100.3 204.7,100.3 204.9,100.3 205.1,100.3 205.2,100.3 205.4,100.3 205.6,100.2 205.8,100.2 206.0,100.2 206.2,100.1 206.4,100.1 206.5,100.0 206.7,100.0 206.9,99.9 207.1,99.8 207.3,99.7 207.5,99.7 207.6,99.6 207.8,99.5 208.0,99.4 208.2,99.3 208.4,99.2 208.6,99.1 208.7,99.0 208.9,98.9 209.1,98.8 209.3,98.7 209.5,98.6 209.7,98.5 209.9,98.4 210.0,98.3 210.2,98.2 210.4,98.1 210.6,98.0 210.8,97.9 211.0,97.8 211.1,97.7 211.3,97.6 211.5,97.5 211.7,97.4 211.9,97.3 212.1,97.2 212.3,97.2 212.4,97.1 212.6,97.0 212.8,97.0 213.0,96.9 213.2,96.9 213.4,96.8 213.5,96.8 213.7,96.8 213.9,96.7 214.1,96.7 214.3,96.7 214.5,96.7 214.7,96.7 214.8,96.8 215.0,96.9 215.2,97.0 215.4,97.1 215.6,97.3 215.8,97.5 215.9,97.7 216.1,98.0 216.3,98.2 216.5,98.5 216.7,98.8 216.9,99.1 217.0,99.5 217.2,99.8 217.4,100.1 217.6,100.5 217.8,100.9 218.0,101.2 218.2,101.6 218.3,102.0 218.5,102.4 218.7,102.7 218.9,103.1 219.1,103.5 219.3,103.9 219.4,104.2 219.6,104.6 219.8,104.9 220.0,105.2 220.2,105.6 220.4,105.9 220.6,106.2 220.7,106.4 220.9,106.7 221.1,106.9 221.3,107.1 221.5,107.3 221.7,107.5 221.8,107.6 222.0,107.7 222.2,107.8 222.4,107.8 222.6,107.8 222.8,107.8 223.0,107.8 223.1,107.8 223.3,107.8 223.5,107.7 223.7,107.7 223.9,107.7 224.1,107.6 224.2,107.5 224.4,107.5 224.6,107.4 224.8,107.3 225.0,107.3 225.2,107.2 225.3,107.1 225.5,107.0 225.7,106.9 225.9,106.8 226.1,106.7 226.3,106.6 226.5,106.5 226.6,106.4 226.8,106.3 227.0,106.2 227.2,106.1 227.4,106.0 227.6,105.9 227.7,105.8 227.9,105.7 228.1,105.6 228.3,105.5 228.5,105.4 228.7,105.3 228.9,105.2 229.0,105.1 229.2,105.0 229.4,104.9 229.6,104.8 229.8,104.8 230.0,104.7 230.1,104.6 230.3,104.6 230.5,104.5 230.7,104.4 230.9,104.4 231.1,104.3 231.3,104.3 231.4,104.3 231.6,104.3 231.8,104.2 232.0,104.2 232.2,104.2 232.4,104.3 232.5,104.3 232.7,104.4 232.9,104.5 233.1,104.7 233.3,104.9 233.5,105.1 233.6,105.3 233.8,105.5 234.0,105.8 234.2,106.1 234.4,106.4 234.6,106.7 234.8,107.0 234.9,107.3 235.1,107.7 235.3,108.0 235.5,108.4 235.7,108.8 235.9,109.1 236.0,109.5 236.2,109.9 236.4,110.3 236.6,110.7 236.8,111.0 237.0,111.4 237.2,111.8 237.3,112.1 237.5,112.5 237.7,112.8 237.9,113.1 238.1,113.4 238.3,113.7 238.4,114.0 238.6,114.2 238.8,114.4 239.0,114.7 239.2,114.8 239.4,115.0 239.6,115.1 239.7,115.2 239.9,115.3 240.1,115.4 240.3,115.4 240.5,115.4 240.7,115.3 240.8,115.3 241.0,115.3 241.2,115.3 241.4,115.2 241.6,115.2 241.8,115.1 241.9,115.1 242.1,115.0 242.3,114.9 242.5,114.9 242.7,114.8 242.9,114.7 243.1,114.6 243.2,114.5 243.4,114.4 243.6,114.3 243.8,114.2 244.0,114.1 244.2,114.0 244.3,113.9 244.5,113.8 244.7,113.7 244.9,113.6 245.1,113.5 245.3,113.4 245.5,113.3 245.6,113.2 245.8,113.1 246.0,113.0 246.2,112.9 246.4,112.8 246.6,112.7 246.7,112.6 246.9,112.5 247.1,112.5 247.3,112.4 247.5,112.3 247.7,112.2 247.9,112.1 248.0,112.1 248.2,112.0 248.4,112.0 248.6,111.9 248.8,111.9 249.0,111.8 249.1,111.8 249.3,111.8 249.5,111.8 249.7,111.8 249.9,111.8 250.1,111.8 250.2,111.8 250.4,111.9 250.6,112.1 250.8,112.2 251.0,112.4 251.2,112.6 251.4,112.8 251.5,113.0 251.7,113.3 251.9,113.6 252.1,113.9 252.3,114.2 252.5,114.5 252.6,114.9 252.8,115.2 253.0,115.6 253.2,115.9 253.4,116.3 253.6,116.7 253.8,117.1 253.9,117.4 254.1,117.8 254.3,118.2 254.5,118.6 254.7,118.9 254.9,119.3 255.0,119.6 255.2,120.0 255.4,120.3 255.6,120.6 255.8,120.9 256.0,121.2 256.2,121.5 256.3,121.8 256.5,122.0 256.7,122.2 256.9,122.4 257.1,122.5 257.3,122.7 257.4,122.8 257.6,122.8 257.8,122.9 258.0,122.9 258.2,122.9 258.4,122.9 258.5,122.9 258.7,122.8 258.9,122.8 259.1,122.8 259.3,122.7 259.5,122.6 259.7,122.6 259.8,122.5 260.0,122.5 260.2,122.4 260.4,122.3 260.6,122.2 260.8,122.1 260.9,122.1 261.1,122.0 261.3,121.9 261.5,121.8 261.7,121.7 261.9,121.6 262.1,121.5 262.2,121.4 262.4,121.3 262.6,121.2 262.8,121.1 263.0,120.9 263.2,120.8 263.3,120.7 263.5,120.6 263.7,120.5 263.9,120.4 264.1,120.3 264.3,120.2 264.4,120.2 264.6,120.1 264.8,120.0 265.0,119.9 265.2,119.8 265.4,119.7 265.6,119.7 265.7,119.6 265.9,119.5 266.1,119.5 266.3,119.4 266.5,119.4 266.7,119.4 266.8,119.3 267.0,119.3 267.2,119.3 267.4,119.3 267.6,119.3 267.8,119.3 268.0,119.4 268.1,119.5 268.3,119.6 268.5,119.7 268.7,119.9 268.9,120.1 269.1,120.3 269.2,120.6 269.4,120.8 269.6,121.1 269.8,121.4 270.0,121.7 270.2,122.1 270.4,122.4 270.5,122.8 270.7,123.1 270.9,123.5 271.1,123.9 271.3,124.2 271.5,124.6 271.6,125.0 271.8,125.4 272.0,125.7 272.2,126.1 272.4,126.5 272.6,126.8 272.7,127.2 272.9,127.5 273.1,127.9 273.3,128.2 273.5,128.5 273.7,128.8 273.9,129.0 274.0,129.3 274.2,129.5 274.4,129.7 274.6,129.9 274.8,130.1 275.0,130.2 275.1,130.3 275.3,130.4 275.5,130.4 275.7,130.4 275.9,130.4 276.1,130.4 276.3,130.4 276.4,130.4 276.6,130.3 276.8,130.3 277.0,130.2 277.2,130.2 277.4,130.1 277.5,130.1 277.7,130.0 277.9,129.9 278.1,129.8 278.3,129.8 278.5,129.7 278.7,129.6 278.8,129.5 279.0,129.4 279.2,129.3 279.4,129.2 279.6,129.1 279.8,129.0 279.9,128.9 280.1,128.8 280.3,128.7 280.5,128.6 280.7,128.5 280.9,128.4 281.0,128.3 281.2,128.2 281.4,128.1 281.6,128.0 281.8,127.9 282.0,127.8 282.2,127.7 282.3,127.6 282.5,127.5 282.7,127.4 282.9,127.3 283.1,127.3 283.3,127.2 283.4,127.1 283.6,127.1 283.8,127.0 284.0,127.0 284.2,126.9 284.4,126.9 284.6,126.9 284.7,126.8 284.9,126.8 285.1,126.8 285.3,126.8 285.5,126.8 285.7,126.9 285.8,127.0 286.0,127.1 286.2,127.3 286.4,127.5 286.6,127.7 286.8,127.9 287.0,128.1 287.1,128.4 287.3,128.7 287.5,129.0 287.7,129.3 287.9,129.6 288.1,129.9 288.2,130.3 288.4,130.7 288.6,131.0 288.8,131.4 289.0,131.8 289.2,132.1 289.3,132.5 289.5,132.9 289.7,133.3 289.9,133.6 290.1,134.0 290.3,134.4 290.5,134.7 290.6,135.1 290.8,135.4 291.0,135.7 291.2,136.0 291.4,136.3 291.6,136.6 291.7,136.8 291.9,137.1 292.1,137.3 292.3,137.4 292.5,137.6 292.7,137.7 292.9,137.8 293.0,137.9 293.2,137.9 293.4,137.9 293.6,137.9 293.8,137.9 294.0,137.9 294.1,137.9 294.3,137.8 294.5,137.8 294.7,137.8 294.9,137.7 295.1,137.6 295.3,137.6 295.4,137.5 295.6,137.4 295.8,137.4 296.0,137.3 296.2,137.2 296.4,137.1 296.5,137.0 296.7,136.9 296.9,136.8 297.1,136.7 297.3,136.6 297.5,136.5 297.6,136.4 297.8,136.3 298.0,136.2 298.2,136.1 298.4,136.0 298.6,135.9 298.8,135.8 298.9,135.7 299.1,135.6 299.3,135.5 299.5,135.4 299.7,135.3 299.9,135.2 300.0,135.1 300.2,135.0 300.4,134.9 300.6,134.9 300.8,134.8 301.0,134.7 301.2,134.7 301.3,134.6 301.5,134.5 301.7,134.5 301.9,134.4 302.1,134.4 302.3,134.4 302.4,134.4 302.6,134.3 302.8,134.3 303.0,134.3 303.2,134.4 303.4,134.4 303.6,134.5 303.7,134.7 303.9,134.8 304.1,135.0 304.3,135.2 304.5,135.4 304.7,135.7 304.8,135.9 305.0,136.2 305.2,136.5 305.4,136.8 305.6,137.1 305.8,137.5 305.9,137.8 306.1,138.2 306.3,138.6 306.5,138.9 306.7,139.3 306.9,139.7 307.1,140.1 307.2,140.4 307.4,140.8 307.6,141.2 307.8,141.6 308.0,141.9 308.2,142.3 308.3,142.6 308.5,142.9 308.7,143.3 308.9,143.6 309.1,143.8 309.3,144.1 309.5,144.4 309.6,144.6 309.8,144.8 310.0,145.0 310.2,145.1 310.4,145.3 310.6,145.4 310.7,145.4 310.9,145.5 311.1,145.5 311.3,145.5 311.5,145.5 311.7,145.4 311.9,145.4 312.0,145.4 312.2,145.3 312.4,145.3 312.6,145.2 312.8,145.2 313.0,145.1 313.1,145.0 313.3,145.0 313.5,144.9 313.7,144.8 313.9,144.7 314.1,144.6 314.2,144.5 314.4,144.4 314.6,144.3 314.8,144.2 315.0,144.1 315.2,144.0 315.4,143.9 315.5,143.8 315.7,143.7 315.9,143.6 316.1,143.5 316.3,143.4 316.5,143.3 316.6,143.2 316.8,143.1 317.0,143.0 317.2,142.9 317.4,142.8 317.6,142.7 317.8,142.6 317.9,142.6 318.1,142.5 318.3,142.4 318.5,142.3 318.7,142.2 318.9,142.2 319.0,142.1 319.2,142.1 319.4,142.0 319.6,142.0 319.8,141.9 320.0,141.9 320.1,141.9 320.3,141.9 320.5,141.9 320.7,141.9 320.9,141.9 321.1,142.0 321.3,142.1 321.4,142.2 321.6,142.3 321.8,142.5 322.0,142.7 322.2,142.9 322.4,143.2 322.5,143.5 322.7,143.7 322.9,144.0 323.1,144.4 323.3,144.7 323.5,145.0 323.7,145.4 323.8,145.7 324.0,146.1 324.2,146.5 324.4,146.8 324.6,147.2 324.8,147.6 324.9,148.0 325.1,148.4 325.3,148.7 325.5,149.1 325.7,149.5 325.9,149.8 326.1,150.1 326.2,150.5 326.4,150.8 326.6,151.1 326.8,151.4 327.0,151.6 327.2,151.9 327.3,152.1 327.5,152.3 327.7,152.5 327.9,152.7 328.1,152.8 328.3,152.9 328.4,153.0 328.6,153.0 328.8,153.0 329.0,153.0 329.2,153.0 329.4,153.0 329.6,152.9 329.7,152.9 329.9,152.9 330.1,152.8 330.3,152.8 330.5,152.7 330.7,152.6 330.8,152.6 331.0,152.5 331.2,152.4 331.4,152.3 331.6,152.2 331.8,152.1 332.0,152.1 332.1,152.0 332.3,151.9 332.5,151.8 332.7,151.7 332.9,151.6 333.1,151.5 333.2,151.4 333.4,151.3 333.6,151.1 333.8,151.0 334.0,150.9 334.2,150.8 334.4,150.7 334.5,150.6 334.7,150.5 334.9,150.4 335.1,150.3 335.3,150.3 335.5,150.2 335.6,150.1 335.8,150.0 336.0,149.9 336.2,149.8 336.4,149.8 336.6,149.7 336.7,149.6 336.9,149.6 337.1,149.5 337.3,149.5 337.5,149.5 337.7,149.4 337.9,149.4 338.0,149.4 338.2,149.4 338.4,149.4 338.6,149.4 338.8,149.5 339.0,149.6 339.1,149.7 339.3,149.9 339.5,150.1 339.7,150.3 339.9,150.5 340.1,150.7 340.3,151.0 340.4,151.3 340.6,151.6 340.8,151.9 341.0,152.2 341.2,152.6 341.4,152.9 341.5,153.3 341.7,153.6 341.9,154.0 342.1,154.4 342.3,154.8 342.5,155.1 342.7,155.5 342.8,155.9 343.0,156.3 343.2,156.6 343.4,157.0 343.6,157.3 343.8,157.7 343.9,158.0 344.1,158.3 344.3,158.6 344.5,158.9 344.7,159.2 344.9,159.4 345.0,159.7 345.2,159.9 345.4,160.0 345.6,160.2 345.8,160.3 346.0,160.4 346.2,160.5 346.3,160.5 346.5,160.5 346.7,160.5 346.9,160.5 347.1,160.5 347.3,160.5 347.4,160.4 347.6,160.4 347.8,160.3 348.0,160.3 348.2,160.2 348.4,160.2 348.6,160.1 348.7,160.0 348.9,159.9 349.1,159.8 349.3,159.8 349.5,159.7 349.7,159.6 349.8,159.5 350.0,159.4 350.2,159.3 350.4,159.2 350.6,159.1 350.8,159.0 351.0,158.9 351.1,158.8 351.3,158.7 351.5,158.6 351.7,158.5 351.9,158.4 352.1,158.3 352.2,158.2 352.4,158.1 352.6,158.0 352.8,157.9 353.0,157.8 353.2,157.7 353.3,157.6 353.5,157.5 353.7,157.4 353.9,157.4 354.1,157.3 354.3,157.2 354.5,157.2 354.6,157.1 354.8,157.1 355.0,157.0 355.2,157.0 355.4,157.0 355.6,156.9 355.7,156.9 355.9,156.9 356.1,156.9 356.3,157.0 356.5,157.0 356.7,157.1 356.9,157.3 357.0,157.4 357.2,157.6 357.4,157.8 357.6,158.0 357.8,158.3 358.0,158.5 358.1,158.8 358.3,159.1 358.5,159.4 358.7,159.8 358.9,160.1 359.1,160.5 359.3,160.8 359.4,161.2 359.6,161.5 359.8,161.9 360.0,162.3 360.2,162.7 360.4,163.1 360.5,163.4 360.7,163.8 360.9,164.2 361.1,164.5 361.3,164.9 361.5,165.2 361.6,165.5 361.8,165.9 362.0,166.2 362.2,166.4 362.4,166.7 362.6,167.0 362.8,167.2 362.9,167.4 363.1,167.6 363.3,167.7 363.5,167.9 363.7,167.9 363.9,168.0 364.0,168.1 364.2,168.1 364.4,168.0 364.6,168.0 364.8,168.0 365.0,168.0 365.2,167.9 365.3,167.9 365.5,167.9 365.7,167.8 365.9,167.7 366.1,167.7 366.3,167.6 366.4,167.5 366.6,167.5 366.8,167.4 367.0,167.3 367.2,167.2 367.4,167.1 367.6,167.0 367.7,166.9 367.9,166.8 368.1,166.7 368.3,166.6 368.5,166.5 368.7,166.4 368.8,166.3 369.0,166.2 369.2,166.1 369.4,166.0 369.6,165.9 369.8,165.8 369.9,165.7 370.1,165.6 370.3,165.5 370.5,165.4 370.7,165.3 370.9,165.2 371.1,165.1 371.2,165.0 371.4,165.0 371.6,164.9 371.8,164.8 372.0,164.8 372.2,164.7 372.3,164.6 372.5,164.6 372.7,164.6 372.9,164.5 373.1,164.5 373.3,164.5 373.5,164.5 373.6,164.4 373.8,164.4 374.0,164.5 374.2,164.6 374.4,164.7 374.6,164.8 374.7,164.9 374.9,165.1 375.1,165.3 375.3,165.5 375.5,165.8 375.7,166.1 375.8,166.4 376.0,166.7 376.2,167.0 376.4,167.3 376.6,167.6 376.8,168.0 377.0,168.3 377.1,168.7 377.3,169.1 377.5,169.5 377.7,169.8 377.9,170.2 378.1,170.6 378.2,171.0 378.4,171.3 378.6,171.7 378.8,172.1 379.0,172.4 379.2,172.8 379.4,173.1 379.5,173.4 379.7,173.7 379.9,174.0 380.1,174.3 380.3,174.5 380.5,174.7 380.6,174.9 380.8,175.1 381.0,175.3 381.2,175.4 381.4,175.5 381.6,175.5 381.8,175.6 381.9,175.6 382.1,175.6 382.3,175.6 382.5,175.5 382.7,175.5 382.9,175.5 383.0,175.4 383.2,175.4 383.4,175.3 383.6,175.3 383.8,175.2 384.0,175.1 384.1,175.1 384.3,175.0 384.5,174.9 384.7,174.8 384.9,174.7 385.1,174.6 385.3,174.5 385.4,174.4 385.6,174.3 385.8,174.2 386.0,174.1 386.2,174.0 386.4,173.9 386.5,173.8 386.7,173.7 386.9,173.6 387.1,173.5 387.3,173.4 387.5,173.3 387.7,173.2 387.8,173.1 388.0,173.0 388.2,172.9 388.4,172.8 388.6,172.7 388.8,172.6 388.9,172.6 389.1,172.5 389.3,172.4 389.5,172.3 389.7,172.3 389.9,172.2 390.1,172.2 390.2,172.1 390.4,172.1 390.6,172.0 390.8,172.0 391.0,172.0 391.2,172.0 391.3,172.0 391.5,172.0 391.7,172.0 391.9,172.1 392.1,172.2 392.3,172.3 392.4,172.5 392.6,172.7 392.8,172.9 393.0,173.1 393.2,173.3 393.4,173.6 393.6,173.9 393.7,174.2 393.9,174.5 394.1,174.8 394.3,175.2 394.5,175.5 394.7,175.9 394.8,176.3 395.0,176.6 395.2,177.0 395.4,177.4 395.6,177.8 395.8,178.1 396.0,178.5 396.1,178.9 396.3,179.2 396.5,179.6 396.7,180.0 396.9,180.3 397.1,180.6 397.2,180.9 397.4,181.2 397.6,181.5 397.8,181.8 398.0,182.0 398.2,182.3 398.4,182.5 398.5,182.6 398.7,182.8 398.9,182.9 399.1,183.0 399.3,183.1 399.5,183.1 399.6,183.1 399.8,183.1 400.0,183.1 400.2,183.1 400.4,183.0 400.6,183.0 400.7,183.0 400.9,182.9 401.1,182.9 401.3,182.8 401.5,182.7 401.7,182.7 401.9,182.6 402.0,182.5 402.2,182.4 402.4,182.3 402.6,182.2 402.8,182.2 403.0,182.1 403.1,182.0 403.3,181.9 403.5,181.8 403.7,181.7 403.9,181.6 404.1,181.5 404.3,181.3 404.4,181.2 404.6,181.1 404.8,181.0 405.0,180.9 405.2,180.8 405.4,180.7 405.5,180.6 405.7,180.5 405.9,180.4 406.1,180.3 406.3,180.3 406.5,180.2 406.7,180.1 406.8,180.0 407.0,179.9 407.2,179.9 407.4,179.8 407.6,179.7 407.8,179.7 407.9,179.6 408.1,179.6 408.3,179.6 408.5,179.5 408.7,179.5 408.9,179.5 409.0,179.5 409.2,179.5 409.4,179.5 409.6,179.6 409.8,179.7 410.0,179.8 410.2,180.0 410.3,180.2 410.5,180.4 410.7,180.6 410.9,180.9 411.1,181.1 411.3,181.4 411.4,181.7 411.6,182.0 411.8,182.4 412.0,182.7 412.2,183.1 412.4,183.4 412.6,183.8 412.7,184.2 412.9,184.5 413.1,184.9 413.3,185.3 413.5,185.7 413.7,186.0 413.8,186.4 414.0,186.8 414.2,187.1 414.4,187.5 414.6,187.8 414.8,188.2 415.0,188.5 415.1,188.8 415.3,189.1 415.5,189.3 415.7,189.6 415.9,189.8 416.1,190.0 416.2,190.2 416.4,190.3 416.6,190.4 416.8,190.5 417.0,190.6 417.2,190.6 417.3,190.6 417.5,190.6 417.7,190.6 417.9,190.6 418.1,190.6 418.3,190.5 418.5,190.5 418.6,190.4 418.8,190.4 419.0,190.3 419.2,190.3 419.4,190.2 419.6,190.1 419.7,190.0 419.9,189.9 420.1,189.9 420.3,189.8 420.5,189.7 420.7,189.6 420.9,189.5 421.0,189.4 421.2,189.3 421.4,189.2 421.6,189.1 421.8,189.0 422.0,188.9 422.1,188.8 422.3,188.7 422.5,188.6 422.7,188.5 422.9,188.4 423.1,188.3 423.3,188.2 423.4,188.1 423.6,188.0 423.8,187.9 424.0,187.8 424.2,187.7 424.4,187.6 424.5,187.5 424.7,187.5 424.9,187.4 425.1,187.3 425.3,187.3 425.5,187.2 425.6,187.2 425.8,187.1 426.0,187.1 426.2,187.1 426.4,187.0 426.6,187.0 426.8,187.0 426.9,187.0 427.1,187.1 427.3,187.1 427.5,187.2 427.7,187.4 427.9,187.5 428.0,187.7 428.2,187.9 428.4,188.2 428.6,188.4 428.8,188.7 429.0,189.0 429.2,189.3 429.3,189.6 429.5,189.9 429.7,190.3 429.9,190.6 430.1,191.0 430.3,191.3 430.4,191.7 430.6,192.1 430.8,192.5 431.0,192.8 431.2,193.2 431.4,193.6 431.5,194.0 431.7,194.3 431.9,194.7 432.1,195.0 432.3,195.4 432.5,195.7 432.7,196.0 432.8,196.3 433.0,196.6 433.2,196.9 433.4,197.1 433.6,197.3 433.8,197.5 433.9,197.7 434.1,197.9 434.3,198.0 434.5,198.1 434.7,198.1 434.9,198.2 435.1,198.2 435.2,198.2 435.4,198.1 435.6,198.1 435.8,198.1 436.0,198.1 436.2,198.0 436.3,198.0 436.5,197.9 436.7,197.8 436.9,197.8 437.1,197.7 437.3,197.6 437.5,197.6 437.6,197.5 437.8,197.4 438.0,197.3 438.2,197.2 438.4,197.1 438.6,197.0 438.7,196.9 438.9,196.8 439.1,196.7 439.3,196.6 439.5,196.5 439.7,196.4 439.8,196.3 440.0,196.2 440.2,196.1 440.4,196.0 440.6,195.9 440.8,195.8 441.0,195.7 441.1,195.6 441.3,195.5 441.5,195.4 441.7,195.3 441.9,195.2 442.1,195.1 442.2,195.1 442.4,195.0 442.6,194.9 442.8,194.9 443.0,194.8 443.2,194.7 443.4,194.7 443.5,194.7 443.7,194.6 443.9,194.6 444.1,194.6 444.3,194.6 444.5,194.6 444.6,194.6 444.8,194.6 445.0,194.7 445.2,194.8 445.4,194.9 445.6,195.1 445.8,195.3 445.9,195.5 446.1,195.7 446.3,195.9 446.5,196.2 446.7,196.5 446.9,196.8 447.0,197.1 447.2,197.4 447.4,197.8 447.6,198.1 447.8,198.5 448.0,198.9 448.1,199.2 448.3,199.6 448.5,200.0 448.7,200.4 448.9,200.8 449.1,201.1 449.3,201.5 449.4,201.9 449.6,202.2 449.8,202.6 450.0,202.9 450.2,203.2 450.4,203.5 450.5,203.8 450.7,204.1 450.9,204.4 451.1,204.6 451.3,204.9 451.5,205.1 451.7,205.2 451.8,205.4 452.0,205.5 452.2,205.6 452.4,205.7 452.6,205.7 452.8,205.7 452.9,205.7 453.1,205.7 453.3,205.6 453.5,205.6 453.7,205.6 453.9,205.5 454.1,205.5 454.2,205.4 454.4,205.4 454.6,205.3 454.8,205.2 455.0,205.2 455.2,205.1 455.3,205.0 455.5,204.9 455.7,204.8 455.9,204.7 456.1,204.6 456.3,204.5 456.4,204.4 456.6,204.3 456.8,204.2 457.0,204.1 457.2,204.0 457.4,203.9 457.6,203.8 457.7,203.7 457.9,203.6 458.1,203.5 458.3,203.4 458.5,203.3 458.7,203.2 458.8,203.1 459.0,203.0 459.2,202.9 459.4,202.8 459.6,202.7 459.8,202.7 460.0,202.6 460.1,202.5 460.3,202.4 460.5,202.4 460.7,202.3 460.9,202.3 461.1,202.2 461.2,202.2 461.4,202.1 461.6,202.1 461.8,202.1 462.0,202.1 462.2,202.1 462.4,202.1 462.5,202.1 462.7,202.2 462.9,202.3 463.1,202.4 463.3,202.6 463.5,202.8 463.6,203.0 463.8,203.2 464.0,203.5 464.2,203.7 464.4,204.0 464.6,204.3 464.7,204.7 464.9,205.0 465.1,205.3 465.3,205.7 465.5,206.0 465.7,206.4 465.9,206.8 466.0,207.2 466.2,207.5 466.4,207.9 466.6,208.3 466.8,208.7 467.0,209.0 467.1,209.4 467.3,209.8 467.5,210.1 467.7,210.4 467.9,210.8 468.1,211.1 468.3,211.4 468.4,211.7 468.6,211.9 468.8,212.2 469.0,212.4 469.2,212.6 469.4,212.8 469.5,212.9 469.7,213.0 469.9,213.1 470.1,213.2 470.3,213.2 470.5,213.2 470.7,213.2 470.8,213.2 471.0,213.2 471.2,213.1 471.4,213.1 471.6,213.1 471.8,213.0 471.9,213.0 472.1,212.9 472.3,212.8 472.5,212.8 472.7,212.7 472.9,212.6 473.0,212.5 473.2,212.4 473.4,212.3 473.6,212.3 473.8,212.2 474.0,212.1 474.2,212.0 474.3,211.9 474.5,211.8 474.7,211.7 474.9,211.5 475.1,211.4 475.3,211.3 475.4,211.2 475.6,211.1 475.8,211.0 476.0,210.9 476.2,210.8 476.4,210.7 476.6,210.6 476.7,210.5 476.9,210.4 477.1,210.4 477.3,210.3 477.5,210.2 477.7,210.1 477.8,210.0 478.0,210.0 478.2,209.9 478.4,209.8 478.6,209.8 478.8,209.7 479.0,209.7 479.1,209.7 479.3,209.6 479.5,209.6 479.7,209.6 479.9,209.6 480.1,209.6 480.2,209.7 480.4,209.7 480.6,209.8 480.8,210.0 481.0,210.1 481.2,210.3 481.3,210.5 481.5,210.8 481.7,211.0 481.9,211.3 482.1,211.6 482.3,211.9 482.5,212.2 482.6,212.5 482.8,212.9 483.0,213.2 483.2,213.6 483.4,213.9 483.6,214.3 483.7,214.7 483.9,215.1 484.1,215.5 484.3,215.8 484.5,216.2 484.7,216.6 484.9,216.9 485.0,217.3 485.2,217.6 485.4,218.0 485.6,218.3 485.8,218.6 486.0,218.9 486.1,219.2 486.3,219.5 486.5,219.7 486.7,219.9 486.9,220.1 487.1,220.3 487.2,220.4 487.4,220.6 487.6,220.7 487.8,220.7 488.0,220.7 488.2,220.7 488.4,220.7 488.5,220.7 488.7,220.7 488.9,220.7 489.1,220.6 489.3,220.6 489.5,220.5 489.6,220.5 489.8,220.4 490.0,220.4 490.2,220.3 490.4,220.2 490.6,220.1 490.8,220.0 490.9,220.0 491.1,219.9 491.3,219.8 491.5,219.7 491.7,219.6 491.9,219.5 492.0,219.4 492.2,219.3 492.4,219.2 492.6,219.1 492.8,219.0 493.0,218.9 493.2,218.8 493.3,218.7 493.5,218.6 493.7,218.4 493.9,218.3 494.1,218.3 494.3,218.2 494.4,218.1 494.6,218.0 494.8,217.9 495.0,217.8 495.2,217.7 495.4,217.6 495.5,217.6 495.7,217.5 495.9,217.4 496.1,217.4 496.3,217.3 496.5,217.3 496.7,217.2 496.8,217.2 497.0,217.2 497.2,217.2 497.4,217.1 497.6,217.1 497.8,217.1 497.9,217.2 498.1,217.3 498.3,217.4 498.5,217.5 498.7,217.7 498.9,217.9 499.1,218.1 499.2,218.3 499.4,218.5 499.6,218.8 499.8,219.1 500.0,219.4 500.2,219.7 500.3,220.1 500.5,220.4 500.7,220.8 500.9,221.1 501.1,221.5 501.3,221.9 501.5,222.2 501.6,222.6 501.8,223.0 502.0,223.4 502.2,223.7 502.4,224.1 502.6,224.5 502.7,224.8 502.9,225.2 503.1,225.5 503.3,225.8 503.5,226.2 503.7,226.5 503.8,226.7 504.0,227.0 504.2,227.2 504.4,227.5 504.6,227.7 504.8,227.8 505.0,228.0 505.1,228.1 505.3,228.2 505.5,228.2 505.7,228.3 505.9,228.3 506.1,228.3 506.2,228.2 506.4,228.2 506.6,228.2 506.8,228.2 507.0,228.1 507.2,228.1 507.4,228.0 507.5,227.9 507.7,227.9 507.9,227.8 508.1,227.7 508.3,227.7 508.5,227.6 508.6,227.5 508.8,227.4 509.0,227.3 509.2,227.2 509.4,227.1 509.6,227.0 509.8,226.9 509.9,226.8 510.1,226.7 510.3,226.6 510.5,226.5 510.7,226.4 510.9,226.3 511.0,226.2 511.2,226.1 511.4,226.0 511.6,225.9 511.8,225.8 512.0,225.7 512.1,225.6 512.3,225.5 512.5,225.4 512.7,225.3 512.9,225.2 513.1,225.2 513.3,225.1 513.4,225.0 513.6,225.0 513.8,224.9 514.0,224.8 514.2,224.8 514.4,224.8 514.5,224.7 514.7,224.7 514.9,224.7 515.1,224.7 515.3,224.7 515.5,224.7 515.7,224.7 515.8,224.8 516.0,224.9 516.2,225.0 516.4,225.2 516.6,225.4 516.8,225.6 516.9,225.8 517.1,226.1 517.3,226.4 517.5,226.6 517.7,226.9 517.9,227.3 518.1,227.6 518.2,227.9 518.4,228.3 518.6,228.7 518.8,229.0 519.0,229.4 519.2,229.8 519.3,230.2 519.5,230.5 519.7,230.9 519.9,231.3 520.1,231.7 520.3,232.0 520.4,232.4 520.6,232.7 520.8,233.1 521.0,233.4 521.2,233.7 521.4,234.0 521.6,234.3 521.7,234.5 521.9,234.8 522.1,235.0 522.3,235.2 522.5,235.4 522.7,235.5 522.8,235.6 523.0,235.7 523.2,235.8 523.4,235.8 523.6,235.8 523.8,235.8 524.0,235.8 524.1,235.7 524.3,235.7 524.5,235.7 524.7,235.6 524.9,235.6 525.1,235.5 525.2,235.5 525.4,235.4 525.6,235.3 525.8,235.3 526.0,235.2 526.2,235.1 526.4,235.0 526.5,234.9 526.7,234.8 526.9,234.7 527.1,234.6 527.3,234.5 527.5,234.4 527.6,234.3 527.8,234.2 528.0,234.1 528.2,234.0 528.4,233.9 528.6,233.8 528.7,233.7 528.9,233.6 529.1,233.5 529.3,233.4 529.5,233.3 529.7,233.2 529.9,233.1 530.0,233.0 530.2,232.9 530.4,232.8 530.6,232.8 530.8,232.7 531.0,232.6 531.1,232.5 531.3,232.5 531.5,232.4 531.7,232.4 531.9,232.3 532.1,232.3 532.3,232.3 532.4,232.2 532.6,232.2 532.8,232.2 533.0,232.2 533.2,232.2 533.4,232.2 533.5,232.3 533.7,232.4 533.9,232.6 534.1,232.7 534.3,232.9 534.5,233.1 534.7,233.4 534.8,233.6 535.0,233.9 535.2,234.2 535.4,234.5 535.6,234.8 535.8,235.1 535.9,235.5 536.1,235.8 536.3,236.2 536.5,236.6 536.7,236.9 536.9,237.3 537.0,237.7 537.2,238.1 537.4,238.4 537.6,238.8 537.8,239.2 538.0,239.6 538.2,239.9 538.3,240.3 538.5,240.6 538.7,240.9 538.9,241.2 539.1,241.5 539.3,241.8 539.4,242.1 539.6,242.3 539.8,242.5 540.0,242.7 540.2,242.9 540.4,243.0 540.6,243.2 540.7,243.2 540.9,243.3 541.1,243.3 541.3,243.3 541.5,243.3 541.7,243.3 541.8,243.3 542.0,243.2 542.2,243.2 542.4,243.2 542.6,243.1 542.8,243.1 542.9,243.0 543.1,242.9 543.3,242.9 543.5,242.8 543.7,242.7 543.9,242.6 544.1,242.5 544.2,242.4 544.4,242.3 544.6,242.3 544.8,242.2 545.0,242.1 545.2,242.0 545.3,241.9 545.5,241.7 545.7,241.6 545.9,241.5 546.1,241.4 546.3,241.3 546.5,241.2 546.6,241.1 546.8,241.0 547.0,240.9 547.2,240.8 547.4,240.7 547.6,240.6 547.7,240.5 547.9,240.5 548.1,240.4 548.3,240.3 548.5,240.2 548.7,240.1 548.9,240.1 549.0,240.0 549.2,239.9 549.4,239.9 549.6,239.9 549.8,239.8 550.0,239.8 550.1,239.8 550.3,239.7 550.5,239.7 550.7,239.7 550.9,239.7 551.1,239.8 551.2,239.9 551.4,240.0 551.6,240.1 551.8,240.3 552.0,240.5 552.2,240.7 552.4,240.9 552.5,241.2 552.7,241.4 552.9,241.7 553.1,242.0 553.3,242.3 553.5,242.7 553.6,243.0 553.8,243.4 554.0,243.7 554.2,244.1 554.4,244.5 554.6,244.9 554.8,245.2 554.9,245.6 555.1,246.0 555.3,246.4 555.5,246.7 555.7,247.1 555.9,247.5 556.0,247.8 556.2,248.1 556.4,248.5 556.6,248.8 556.8,249.1 557.0,249.3 557.2,249.6 557.3,249.8 557.5,250.1 557.7,250.3 557.9,250.4 558.1,250.6 558.3,250.7 558.4,250.8 558.6,250.8 558.8,250.9 559.0,250.9 559.2,250.8 559.4,250.8 559.5,250.8 559.7,250.8 559.9,250.7 560.1,250.7 560.3,250.6 560.5,250.6 560.7,250.5 560.8,250.5 561.0,250.4 561.2,250.3 561.4,250.2 561.6,250.1 561.8,250.1 561.9,250.0 562.1,249.9 562.3,249.8 562.5,249.7 562.7,249.6 562.9,249.5 563.1,249.4 563.2,249.3 563.4,249.2 563.6,249.1 563.8,249.0 564.0,248.9 564.2,248.7 564.3,248.6 564.5,248.5 564.7,248.4 564.9,248.3 565.1,248.3 565.3,248.2 565.5,248.1 565.6,248.0 565.8,247.9 566.0,247.8 566.2,247.7 566.4,247.7 566.6,247.6 566.7,247.5 566.9,247.5 567.1,247.4 567.3,247.4 567.5,247.3 567.7,247.3 567.8,247.3 568.0,247.3 568.2,247.2 568.4,247.2 568.6,247.3 568.8,247.3 569.0,247.4 569.1,247.5 569.3,247.6 569.5,247.8 569.7,248.0 569.9,248.2 570.1,248.4 570.2,248.7 570.4,249.0 570.6,249.3 570.8,249.6 571.0,249.9 571.2,250.2 571.4,250.6 571.5,250.9 571.7,251.3 571.9,251.6 572.1,252.0 572.3,252.4 572.5,252.8 572.6,253.2 572.8,253.5 573.0,253.9 573.2,254.3 573.4,254.6 573.6,255.0 573.8,255.3 573.9,255.7 574.1,256.0 574.3,256.3 574.5,256.6 574.7,256.9 574.9,257.1 575.0,257.4 575.2,257.6 575.4,257.8 575.6,258.0 575.8,258.1 576.0,258.2 576.1,258.3 576.3,258.4 576.5,258.4 576.7,258.4 576.9,258.4 577.1,258.4 577.3,258.4 577.4,258.4 577.6,258.4 577.8,258.4 578.0,258.4 578.2,258.4 578.4,258.4 578.5,258.4 578.7,258.3 578.9,258.3 579.1,258.3 579.3,258.3 579.5,258.3 579.7,258.3 579.8,258.2 580.0,258.2 580.2,258.2 580.4,258.1 580.6,258.1 580.8,258.1 580.9,258.0 581.1,258.0 581.3,257.9 581.5,257.9 581.7,257.8 581.9,257.8 582.1,257.7 582.2,257.6 582.4,257.5 582.6,257.5 582.8,257.4 583.0,257.3 583.2,257.2 583.3,257.1 583.5,257.0 583.7,256.9 583.9,256.7 584.1,256.6 584.3,256.5 584.4,256.3 584.6,256.2 584.8,256.0 585.0,255.9 585.2,255.7 585.4,255.5 585.6,255.4 585.7,255.2 585.9,255.0 586.1,254.8"/>
<polyline clip-path="url(#cA)" fill="none" stroke="#ba00ba" stroke-width="4.10" stroke-linejoin="round" stroke-linecap="butt" points="125.2,157.3 125.4,139.1 125.6,127.7 125.8,120.6 126.0,116.0 126.2,114.2 126.4,113.0 126.6,112.1 126.8,111.4 127.0,110.9 127.2,110.6 127.4,110.5 127.6,110.4 127.8,110.3 128.0,110.2 128.1,110.1 128.3,110.0 128.5,109.9 128.7,109.9 128.9,109.8 129.1,109.8 129.3,109.7 129.5,109.7 129.7,109.6 129.9,109.6 130.1,109.6 130.3,109.5 130.5,109.5 130.7,109.5 130.9,109.5 131.1,109.5 131.3,109.5 131.5,109.5 131.7,109.5 131.9,109.5 132.1,109.5 132.3,109.5 132.5,109.5 132.7,109.6 132.9,109.6 133.1,109.7 133.3,109.7 133.5,109.8 133.7,109.8 133.9,109.9 134.0,109.9 134.2,110.0 134.4,110.0 134.6,110.1 134.8,110.1 135.0,110.2 135.2,110.2 135.4,110.3 135.6,110.3 135.8,110.4 136.0,110.4 136.2,110.4 136.4,110.5 136.6,110.5 136.8,110.5 137.0,110.5 137.2,110.4 137.4,110.4 137.6,110.3 137.8,110.2 138.0,110.0 138.2,109.9 138.4,109.7 138.6,109.6 138.8,109.4 139.0,109.2 139.2,109.0 139.4,108.9 139.6,108.7 139.8,108.4 139.9,108.2 140.1,107.8 140.3,107.5 140.5,107.1 140.7,106.7 140.9,106.3 141.1,105.9 141.3,105.5 141.5,105.1 141.7,104.6 141.9,104.2 142.1,103.8 142.3,103.4 142.5,103.0 142.7,102.6 142.9,102.3 143.1,102.0 143.3,101.7 143.5,101.4 143.7,101.2 143.9,101.1 144.1,101.0 144.3,101.0 144.5,101.0 144.7,101.0 144.9,101.1 145.1,101.3 145.3,101.4 145.5,101.6 145.6,101.8 145.8,102.0 146.0,102.2 146.2,102.4 146.4,102.6 146.6,102.8 146.8,102.9 147.0,103.0 147.2,103.1 147.4,103.1 147.6,103.1 147.8,103.1 148.0,103.1 148.2,103.1 148.4,103.0 148.6,103.0 148.8,103.0 149.0,103.0 149.2,103.0 149.4,103.0 149.6,103.0 149.8,102.9 150.0,102.9 150.2,102.9 150.4,102.9 150.6,102.9 150.8,102.8 151.0,102.8 151.2,102.8 151.4,102.8 151.5,102.8 151.7,102.7 151.9,102.7 152.1,102.7 152.3,102.7 152.5,102.7 152.7,102.7 152.9,102.7 153.1,102.7 153.3,102.7 153.5,102.7 153.7,102.7 153.9,102.7 154.1,102.7 154.3,102.7 154.5,102.7 154.7,102.7 154.9,102.7 155.1,102.7 155.3,102.7 155.5,102.7 155.7,102.7 155.9,102.8 156.1,102.8 156.3,102.8 156.5,102.8 156.7,102.9 156.9,102.9 157.1,102.9 157.3,102.9 157.4,103.0 157.6,103.0 157.8,103.0 158.0,103.1 158.2,103.1 158.4,103.1 158.6,103.2 158.8,103.2 159.0,103.3 159.2,103.3 159.4,103.4 159.6,103.4 159.8,103.4 160.0,103.5 160.2,103.5 160.4,103.6 160.6,103.6 160.8,103.7 161.0,103.7 161.2,103.8 161.4,103.8 161.6,103.9 161.8,104.0 162.0,104.0 162.2,104.1 162.4,104.1 162.6,104.2 162.8,104.2 163.0,104.3 163.2,104.4 163.3,104.4 163.5,104.5 163.7,104.5 163.9,104.6 164.1,104.7 164.3,104.7 164.5,104.8 164.7,104.9 164.9,104.9 165.1,105.0 165.3,105.0 165.5,105.1 165.7,105.2 165.9,105.2 166.1,105.3 166.3,105.4 166.5,105.4 166.7,105.5 166.9,105.6 167.1,105.6 167.3,105.7 167.5,105.8 167.7,105.8 167.9,105.9 168.1,105.9 168.3,106.0 168.5,106.1 168.7,106.1 168.9,106.2 169.0,106.3 169.2,106.3 169.4,106.4 169.6,106.5 169.8,106.5 170.0,106.6 170.2,106.6 170.4,106.7 170.6,106.8 170.8,106.8 171.0,106.9 171.2,106.9 171.4,107.0 171.6,107.0 171.8,107.1 172.0,107.2 172.2,107.2 172.4,107.3 172.6,107.3 172.8,107.4 173.0,107.4 173.2,107.5 173.4,107.5 173.6,107.6 173.8,107.6 174.0,107.7 174.2,107.7 174.4,107.8 174.6,107.8 174.8,107.9 174.9,107.9 175.1,108.0 175.3,108.0 175.5,108.1 175.7,108.1 175.9,108.1 176.1,108.2 176.3,108.2 176.5,108.3 176.7,108.3 176.9,108.4 177.1,108.4 177.3,108.5 177.5,108.5 177.7,108.6 177.9,108.6 178.1,108.6 178.3,108.7 178.5,108.7 178.7,108.8 178.9,108.8 179.1,108.9 179.3,108.9 179.5,109.0 179.7,109.0 179.9,109.1 180.1,109.1 180.3,109.1 180.5,109.2 180.7,109.2 180.8,109.3 181.0,109.3 181.2,109.4 181.4,109.4 181.6,109.5 181.8,109.5 182.0,109.6 182.2,109.6 182.4,109.7 182.6,109.7 182.8,109.8 183.0,109.8 183.2,109.9 183.4,109.9 183.6,110.0 183.8,110.0 184.0,110.1 184.2,110.1 184.4,110.2 184.6,110.3 184.8,110.3 185.0,110.4 185.2,110.4 185.4,110.5 185.6,110.5 185.8,110.6 186.0,110.7 186.2,110.7 186.4,110.8 186.5,110.8 186.7,110.9 186.9,111.0 187.1,111.0 187.3,111.1 187.5,111.2 187.7,111.2 187.9,111.3 188.1,111.4 188.3,111.4 188.5,111.5 188.7,111.6 188.9,111.7 189.1,111.7 189.3,111.8 189.5,111.9 189.7,112.0 189.9,112.0 190.1,112.1 190.3,112.2 190.5,112.3 190.7,112.4 190.9,112.5 191.1,112.5 191.3,112.6 191.5,112.7 191.7,112.8 191.9,112.9 192.1,113.0 192.3,113.1 192.4,113.2 192.6,113.3 192.8,113.5 193.0,113.6 193.2,113.7 193.4,113.8 193.6,114.0 193.8,114.1 194.0,114.3 194.2,114.4 194.4,114.6 194.6,114.7 194.8,114.9 195.0,115.0 195.2,115.2 195.4,115.4 195.6,115.5 195.8,115.7 196.0,115.9 196.2,116.1 196.4,116.3 196.6,116.5 196.8,116.7 197.0,116.8 197.2,117.1 197.4,117.3 197.6,117.5 197.8,117.8 198.0,118.1 198.2,118.4 198.3,118.8 198.5,119.1 198.7,119.5 198.9,119.8 199.1,120.2 199.3,120.5 199.5,120.9 199.7,121.2 199.9,121.6 200.1,121.9 200.3,122.2 200.5,122.5 200.7,122.7 200.9,122.9 201.1,123.1 201.3,123.3 201.5,123.5 201.7,123.6 201.9,123.7 202.1,123.9 202.3,124.0 202.5,124.1 202.7,124.2 202.9,124.3 203.1,124.4 203.3,124.5 203.5,124.6 203.7,124.7 203.9,124.8 204.1,124.9 204.2,124.9 204.4,125.0 204.6,125.1 204.8,125.2 205.0,125.2 205.2,125.3 205.4,125.4 205.6,125.4 205.8,125.5 206.0,125.6 206.2,125.6 206.4,125.7 206.6,125.7 206.8,125.8 207.0,125.9 207.2,125.9 207.4,126.0 207.6,126.0 207.8,126.1 208.0,126.2 208.2,126.2 208.4,126.3 208.6,126.3 208.8,126.4 209.0,126.5 209.2,126.5 209.4,126.6 209.6,126.7 209.8,126.8 209.9,126.8 210.1,126.9 210.3,127.0 210.5,127.1 210.7,127.2 210.9,127.3 211.1,127.4 211.3,127.5 211.5,127.6 211.7,127.7 211.9,127.9 212.1,128.0 212.3,128.1 212.5,128.2 212.7,128.4 212.9,128.6 213.1,128.7 213.3,129.0 213.5,129.2 213.7,129.5 213.9,129.8 214.1,130.1 214.3,130.4 214.5,130.8 214.7,131.1 214.9,131.5 215.1,131.9 215.3,132.2 215.5,132.6 215.7,133.0 215.8,133.4 216.0,133.8 216.2,134.2 216.4,134.6 216.6,135.0 216.8,135.4 217.0,135.8 217.2,136.2 217.4,136.5 217.6,136.9 217.8,137.2 218.0,137.5 218.2,137.8 218.4,138.1 218.6,138.3 218.8,138.6 219.0,138.8 219.2,138.9 219.4,139.1 219.6,139.2 219.8,139.3 220.0,139.4 220.2,139.6 220.4,139.7 220.6,139.8 220.8,139.9 221.0,140.0 221.2,140.1 221.4,140.1 221.6,140.2 221.7,140.3 221.9,140.4 222.1,140.5 222.3,140.5 222.5,140.6 222.7,140.7 222.9,140.7 223.1,140.8 223.3,140.8 223.5,140.9 223.7,141.0 223.9,141.0 224.1,141.1 224.3,141.1 224.5,141.2 224.7,141.2 224.9,141.3 225.1,141.3 225.3,141.4 225.5,141.4 225.7,141.5 225.9,141.5 226.1,141.6 226.3,141.7 226.5,141.7 226.7,141.8 226.9,141.8 227.1,141.9 227.3,142.0 227.4,142.0 227.6,142.1 227.8,142.2 228.0,142.3 228.2,142.3 228.4,142.4 228.6,142.5 228.8,142.6 229.0,142.7 229.2,142.8 229.4,142.9 229.6,143.0 229.8,143.1 230.0,143.3 230.2,143.4 230.4,143.5 230.6,143.7 230.8,143.9 231.0,144.1 231.2,144.3 231.4,144.6 231.6,144.9 231.8,145.2 232.0,145.5 232.2,145.8 232.4,146.2 232.6,146.6 232.8,146.9 233.0,147.3 233.2,147.7 233.3,148.1 233.5,148.5 233.7,148.9 233.9,149.3 234.1,149.7 234.3,150.1 234.5,150.5 234.7,150.9 234.9,151.3 235.1,151.6 235.3,152.0 235.5,152.3 235.7,152.6 235.9,152.9 236.1,153.2 236.3,153.5 236.5,153.7 236.7,153.9 236.9,154.1 237.1,154.2 237.3,154.3 237.5,154.5 237.7,154.6 237.9,154.7 238.1,154.8 238.3,154.9 238.5,155.0 238.7,155.1 238.9,155.2 239.1,155.3 239.2,155.4 239.4,155.4 239.6,155.5 239.8,155.6 240.0,155.7 240.2,155.7 240.4,155.8 240.6,155.9 240.8,155.9 241.0,156.0 241.2,156.0 241.4,156.1 241.6,156.1 241.8,156.2 242.0,156.3 242.2,156.3 242.4,156.4 242.6,156.4 242.8,156.5 243.0,156.5 243.2,156.6 243.4,156.6 243.6,156.7 243.8,156.7 244.0,156.8 244.2,156.9 244.4,156.9 244.6,157.0 244.8,157.0 245.0,157.1 245.1,157.2 245.3,157.2 245.5,157.3 245.7,157.4 245.9,157.5 246.1,157.6 246.3,157.7 246.5,157.7 246.7,157.8 246.9,157.9 247.1,158.1 247.3,158.2 247.5,158.3 247.7,158.4 247.9,158.5 248.1,158.7 248.3,158.8 248.5,159.0 248.7,159.2 248.9,159.5 249.1,159.7 249.3,160.0 249.5,160.3 249.7,160.6 249.9,161.0 250.1,161.3 250.3,161.7 250.5,162.1 250.7,162.5 250.8,162.8 251.0,163.2 251.2,163.6 251.4,164.1 251.6,164.5 251.8,164.9 252.0,165.3 252.2,165.6 252.4,166.0 252.6,166.4 252.8,166.8 253.0,167.1 253.2,167.4 253.4,167.8 253.6,168.1 253.8,168.3 254.0,168.6 254.2,168.8 254.4,169.0 254.6,169.2 254.8,169.3 255.0,169.5 255.2,169.6 255.4,169.7 255.6,169.8 255.8,169.9 256.0,170.0 256.2,170.1 256.4,170.2 256.6,170.3 256.7,170.4 256.9,170.5 257.1,170.6 257.3,170.7 257.5,170.7 257.7,170.8 257.9,170.9 258.1,170.9 258.3,171.0 258.5,171.1 258.7,171.1 258.9,171.2 259.1,171.2 259.3,171.3 259.5,171.3 259.7,171.4 259.9,171.4 260.1,171.5 260.3,171.6 260.5,171.6 260.7,171.7 260.9,171.7 261.1,171.8 261.3,171.8 261.5,171.9 261.7,171.9 261.9,172.0 262.1,172.1 262.3,172.1 262.5,172.2 262.6,172.2 262.8,172.3 263.0,172.4 263.2,172.5 263.4,172.5 263.6,172.6 263.8,172.7 264.0,172.8 264.2,172.9 264.4,173.0 264.6,173.1 264.8,173.2 265.0,173.3 265.2,173.4 265.4,173.5 265.6,173.7 265.8,173.8 266.0,174.0 266.2,174.1 266.4,174.4 266.6,174.6 266.8,174.9 267.0,175.1 267.2,175.4 267.4,175.8 267.6,176.1 267.8,176.5 268.0,176.8 268.2,177.2 268.3,177.6 268.5,178.0 268.7,178.4 268.9,178.8 269.1,179.2 269.3,179.6 269.5,180.0 269.7,180.4 269.9,180.8 270.1,181.2 270.3,181.5 270.5,181.9 270.7,182.2 270.9,182.6 271.1,182.9 271.3,183.2 271.5,183.5 271.7,183.7 271.9,184.0 272.1,184.2 272.3,184.3 272.5,184.5 272.7,184.6 272.9,184.7 273.1,184.9 273.3,185.0 273.5,185.1 273.7,185.2 273.9,185.3 274.1,185.4 274.2,185.5 274.4,185.6 274.6,185.6 274.8,185.7 275.0,185.8 275.2,185.9 275.4,185.9 275.6,186.0 275.8,186.1 276.0,186.1 276.2,186.2 276.4,186.3 276.6,186.3 276.8,186.4 277.0,186.4 277.2,186.5 277.4,186.5 277.6,186.6 277.8,186.6 278.0,186.7 278.2,186.7 278.4,186.8 278.6,186.9 278.8,186.9 279.0,187.0 279.2,187.0 279.4,187.1 279.6,187.1 279.8,187.2 280.0,187.3 280.1,187.3 280.3,187.4 280.5,187.5 280.7,187.5 280.9,187.6 281.1,187.7 281.3,187.8 281.5,187.8 281.7,187.9 281.9,188.0 282.1,188.1 282.3,188.2 282.5,188.3 282.7,188.4 282.9,188.6 283.1,188.7 283.3,188.8 283.5,188.9 283.7,189.1 283.9,189.3 284.1,189.5 284.3,189.7 284.5,190.0 284.7,190.3 284.9,190.6 285.1,190.9 285.3,191.2 285.5,191.6 285.7,192.0 285.8,192.3 286.0,192.7 286.2,193.1 286.4,193.5 286.6,193.9 286.8,194.3 287.0,194.7 287.2,195.1 287.4,195.5 287.6,195.9 287.8,196.3 288.0,196.7 288.2,197.0 288.4,197.4 288.6,197.7 288.8,198.0 289.0,198.3 289.2,198.6 289.4,198.9 289.6,199.1 289.8,199.3 290.0,199.5 290.2,199.6 290.4,199.7 290.6,199.9 290.8,200.0 291.0,200.1 291.2,200.2 291.4,200.3 291.6,200.4 291.7,200.5 291.9,200.6 292.1,200.7 292.3,200.8 292.5,200.9 292.7,200.9 292.9,201.0 293.1,201.1 293.3,201.1 293.5,201.2 293.7,201.3 293.9,201.3 294.1,201.4 294.3,201.5 294.5,201.5 294.7,201.6 294.9,201.6 295.1,201.7 295.3,201.7 295.5,201.8 295.7,201.8 295.9,201.9 296.1,201.9 296.3,202.0 296.5,202.0 296.7,202.1 296.9,202.2 297.1,202.2 297.3,202.3 297.5,202.3 297.6,202.4 297.8,202.5 298.0,202.5 298.2,202.6 298.4,202.7 298.6,202.7 298.8,202.8 299.0,202.9 299.2,203.0 299.4,203.1 299.6,203.2 299.8,203.3 300.0,203.4 300.2,203.5 300.4,203.6 300.6,203.7 300.8,203.8 301.0,203.9 301.2,204.1 301.4,204.2 301.6,204.4 301.8,204.6 302.0,204.9 302.2,205.1 302.4,205.4 302.6,205.7 302.8,206.0 303.0,206.4 303.2,206.7 303.4,207.1 303.5,207.5 303.7,207.9 303.9,208.2 304.1,208.6 304.3,209.0 304.5,209.5 304.7,209.9 304.9,210.3 305.1,210.7 305.3,211.0 305.5,211.4 305.7,211.8 305.9,212.2 306.1,212.5 306.3,212.8 306.5,213.2 306.7,213.5 306.9,213.7 307.1,214.0 307.3,214.2 307.5,214.4 307.7,214.6 307.9,214.8 308.1,214.9 308.3,215.0 308.5,215.1 308.7,215.2 308.9,215.4 309.1,215.5 309.2,215.6 309.4,215.7 309.6,215.7 309.8,215.8 310.0,215.9 310.2,216.0 310.4,216.1 310.6,216.1 310.8,216.2 311.0,216.3 311.2,216.3 311.4,216.4 311.6,216.5 311.8,216.5 312.0,216.6 312.2,216.6 312.4,216.7 312.6,216.8 312.8,216.8 313.0,216.9 313.2,216.9 313.4,217.0 313.6,217.0 313.8,217.1 314.0,217.1 314.2,217.2 314.4,217.2 314.6,217.3 314.8,217.4 315.0,217.4 315.1,217.5 315.3,217.5 315.5,217.6 315.7,217.7 315.9,217.7 316.1,217.8 316.3,217.9 316.5,218.0 316.7,218.0 316.9,218.1 317.1,218.2 317.3,218.3 317.5,218.4 317.7,218.5 317.9,218.6 318.1,218.7 318.3,218.8 318.5,218.9 318.7,219.1 318.9,219.2 319.1,219.4 319.3,219.5 319.5,219.8 319.7,220.0 319.9,220.3 320.1,220.5 320.3,220.8 320.5,221.2 320.7,221.5 320.9,221.9 321.0,222.2 321.2,222.6 321.4,223.0 321.6,223.4 321.8,223.8 322.0,224.2 322.2,224.6 322.4,225.0 322.6,225.4 322.8,225.8 323.0,226.2 323.2,226.6 323.4,226.9 323.6,227.3 323.8,227.6 324.0,228.0 324.2,228.3 324.4,228.6 324.6,228.9 324.8,229.1 325.0,229.4 325.2,229.6 325.4,229.7 325.6,229.9 325.8,230.0 326.0,230.1 326.2,230.3 326.4,230.4 326.6,230.5 326.7,230.6 326.9,230.7 327.1,230.8 327.3,230.9 327.5,231.0 327.7,231.1 327.9,231.1 328.1,231.2 328.3,231.3 328.5,231.4 328.7,231.4 328.9,231.5 329.1,231.6 329.3,231.6 329.5,231.7 329.7,231.7 329.9,231.8 330.1,231.8 330.3,231.9 330.5,232.0 330.7,232.0 330.9,232.1 331.1,232.1 331.3,232.2 331.5,232.2 331.7,232.3 331.9,232.3 332.1,232.4 332.3,232.4 332.5,232.5 332.6,232.5 332.8,232.6 333.0,232.7 333.2,232.7 333.4,232.8 333.6,232.9 333.8,232.9 334.0,233.0 334.2,233.1 334.4,233.2 334.6,233.3 334.8,233.3 335.0,233.4 335.2,233.5 335.4,233.6 335.6,233.7 335.8,233.9 336.0,234.0 336.2,234.1 336.4,234.2 336.6,234.3 336.8,234.5 337.0,234.7 337.2,234.9 337.4,235.1 337.6,235.4 337.8,235.7 338.0,236.0 338.2,236.3 338.4,236.6 338.5,237.0 338.7,237.4 338.9,237.7 339.1,238.1 339.3,238.5 339.5,238.9 339.7,239.3 339.9,239.7 340.1,240.1 340.3,240.5 340.5,240.9 340.7,241.3 340.9,241.7 341.1,242.1 341.3,242.4 341.5,242.8 341.7,243.1 341.9,243.4 342.1,243.7 342.3,244.0 342.5,244.3 342.7,244.5 342.9,244.7 343.1,244.9 343.3,245.0 343.5,245.2 343.7,245.3 343.9,245.4 344.1,245.5 344.3,245.6 344.4,245.7 344.6,245.8 344.8,245.9 345.0,246.0 345.2,246.1 345.4,246.2 345.6,246.3 345.8,246.3 346.0,246.4 346.2,246.5 346.4,246.6 346.6,246.6 346.8,246.7 347.0,246.8 347.2,246.8 347.4,246.9 347.6,246.9 347.8,247.0 348.0,247.0 348.2,247.1 348.4,247.1 348.6,247.2 348.8,247.2 349.0,247.3 349.2,247.4 349.4,247.4 349.6,247.5 349.8,247.5 350.0,247.6 350.1,247.6 350.3,247.7 350.5,247.7 350.7,247.8 350.9,247.9 351.1,247.9 351.3,248.0 351.5,248.1 351.7,248.2 351.9,248.2 352.1,248.3 352.3,248.4 352.5,248.5 352.7,248.6 352.9,248.7 353.1,248.8 353.3,248.9 353.5,249.0 353.7,249.1 353.9,249.2 354.1,249.3 354.3,249.5 354.5,249.6 354.7,249.8 354.9,250.0 355.1,250.1 355.3,250.3 355.5,250.6 355.7,250.8 355.9,251.0 356.0,251.3 356.2,251.6 356.4,251.8 356.6,252.1 356.8,252.4 357.0,252.7 357.2,253.0 357.4,253.4 357.6,253.7 357.8,254.0 358.0,254.4 358.2,254.7 358.4,255.1 358.6,255.5 358.8,255.8 359.0,256.2 359.2,256.6 359.4,257.0 359.6,257.4 359.8,257.8 360.0,258.2 360.2,258.6 360.4,259.0 360.6,259.4 360.8,259.8 361.0,260.2"/>
<polyline clip-path="url(#cA)" fill="none" stroke="#000000" stroke-width="4.10" stroke-linejoin="round" stroke-linecap="butt" points="143.8,258.6 143.8,257.8 143.9,257.1 143.9,256.4 144.0,255.7 144.1,255.0 144.1,254.3 144.2,253.8 144.2,253.3 144.3,252.8 144.3,252.5 144.4,252.2 144.4,252.0 144.5,251.7 144.6,251.4 144.6,251.2 144.7,250.9 144.7,250.7 144.8,250.5 144.8,250.3 144.9,250.1 144.9,249.9 145.0,249.7 145.0,249.5 145.1,249.3 145.2,249.2 145.2,249.0 145.3,248.8 145.3,248.7 145.4,248.5 145.4,248.4 145.5,248.3 145.5,248.1 145.6,248.0 145.6,247.9 145.7,247.7 145.8,247.6 145.8,247.5 145.9,247.4 145.9,247.3 146.0,247.1 146.0,247.0 146.1,246.9 146.1,246.8 146.2,246.7 146.2,246.6 146.3,246.4 146.4,246.3 146.4,246.2 146.5,246.1 146.5,246.0 146.6,245.8 146.6,245.7 146.7,245.6 146.7,245.5 146.8,245.3 146.8,245.2 146.9,245.1 147.0,245.0 147.0,244.9 147.1,244.7 147.1,244.6 147.2,244.5 147.2,244.4 147.3,244.3 147.3,244.2 147.4,244.1 147.4,244.0 147.5,243.8 147.6,243.7 147.6,243.6 147.7,243.5 147.7,243.4 147.8,243.4 147.8,243.3 147.9,243.2 147.9,243.1 148.0,243.0 148.0,242.9 148.1,242.9 148.2,242.8 148.2,242.7 148.3,242.7 148.3,242.6 148.4,242.5 148.4,242.5 148.5,242.4 148.5,242.4 148.6,242.4 148.7,242.3 148.7,242.3 148.8,242.3 148.8,242.2 148.9,242.2 148.9,242.2 149.0,242.1 149.0,242.1 149.1,242.1 149.1,242.0 149.2,242.0 149.3,242.0 149.3,241.9 149.4,241.9 149.4,241.9 149.5,241.9 149.5,241.8 149.6,241.8 149.6,241.8 149.7,241.8 149.7,241.7 149.8,241.7 149.9,241.7 149.9,241.7 150.0,241.7 150.0,241.6 150.1,241.6 150.1,241.6 150.2,241.6 150.2,241.6 150.3,241.6 150.3,241.6 150.4,241.6 150.5,241.6 150.5,241.6 150.6,241.5 150.6,241.5 150.7,241.5 150.7,241.5 150.8,241.5 150.8,241.5 150.9,241.5 150.9,241.5 151.0,241.5 151.1,241.6 151.1,241.6 151.2,241.6 151.2,241.6 151.3,241.6 151.3,241.6 151.4,241.6 151.4,241.6 151.5,241.6 151.5,241.6 151.6,241.6 151.7,241.6 151.7,241.6 151.8,241.6 151.8,241.6 151.9,241.6 151.9,241.6 152.0,241.7 152.0,241.7 152.1,241.7 152.1,241.7 152.2,241.7 152.3,241.7 152.3,241.7 152.4,241.7 152.4,241.7 152.5,241.7 152.5,241.8 152.6,241.8 152.6,241.8 152.7,241.8 152.8,241.8 152.8,241.8 152.9,241.8 152.9,241.9 153.0,241.9 153.0,241.9 153.1,241.9 153.1,241.9 153.2,241.9 153.2,242.0 153.3,242.0 153.4,242.0 153.4,242.0 153.5,242.0 153.5,242.0 153.6,242.1 153.6,242.1 153.7,242.1 153.7,242.1 153.8,242.1 153.8,242.1 153.9,242.2 154.0,242.2 154.0,242.2 154.1,242.2 154.1,242.2 154.2,242.3 154.2,242.3 154.3,242.3 154.3,242.3 154.4,242.4 154.4,242.4 154.5,242.4 154.6,242.4 154.6,242.4 154.7,242.5 154.7,242.5 154.8,242.5 154.8,242.5 154.9,242.6 154.9,242.6 155.0,242.6 155.0,242.6 155.1,242.7 155.2,242.7 155.2,242.7 155.3,242.7 155.3,242.8 155.4,242.8 155.4,242.8 155.5,242.8 155.5,242.9 155.6,242.9 155.6,242.9 155.7,242.9 155.8,243.0 155.8,243.0 155.9,243.0 155.9,243.1 156.0,243.1 156.0,243.1 156.1,243.1 156.1,243.2 156.2,243.2 156.2,243.2 156.3,243.2 156.4,243.3 156.4,243.3 156.5,243.3 156.5,243.4 156.6,243.4 156.6,243.4 156.7,243.4 156.7,243.5 156.8,243.5 156.9,243.5 156.9,243.6 157.0,243.6 157.0,243.6 157.1,243.7 157.1,243.7 157.2,243.7 157.2,243.7 157.3,243.8 157.3,243.8 157.4,243.8 157.5,243.9 157.5,243.9 157.6,243.9 157.6,244.0 157.7,244.0 157.7,244.0 157.8,244.1 157.8,244.1 157.9,244.1 157.9,244.1 158.0,244.2 158.1,244.2 158.1,244.2 158.2,244.3 158.2,244.3 158.3,244.3 158.3,244.4 158.4,244.4 158.4,244.4 158.5,244.5 158.5,244.5 158.6,244.5 158.7,244.6 158.7,244.6 158.8,244.6 158.8,244.7 158.9,244.7 158.9,244.7 159.0,244.8 159.0,244.8 159.1,244.8 159.1,244.8 159.2,244.9 159.3,244.9 159.3,244.9 159.4,245.0 159.4,245.0 159.5,245.0 159.5,245.1 159.6,245.1 159.6,245.1 159.7,245.2 159.7,245.2 159.8,245.2 159.9,245.3 159.9,245.3 160.0,245.3 160.0,245.4 160.1,245.4 160.1,245.4 160.2,245.5 160.2,245.5 160.3,245.5 160.3,245.5 160.4,245.6 160.5,245.6 160.5,245.6 160.6,245.7 160.6,245.7 160.7,245.7 160.7,245.8 160.8,245.8 160.8,245.8 160.9,245.9 161.0,245.9 161.0,245.9 161.1,245.9 161.1,246.0 161.2,246.0 161.2,246.0 161.3,246.1 161.3,246.1 161.4,246.1 161.4,246.2 161.5,246.2 161.6,246.2 161.6,246.2 161.7,246.3 161.7,246.3 161.8,246.3 161.8,246.4 161.9,246.4 161.9,246.4 162.0,246.4 162.0,246.5 162.1,246.5 162.2,246.5 162.2,246.6 162.3,246.6 162.3,246.6 162.4,246.6 162.4,246.7 162.5,246.7 162.5,246.7 162.6,246.8 162.6,246.8 162.7,246.8 162.8,246.8 162.8,246.9 162.9,246.9 162.9,246.9 163.0,246.9 163.0,247.0 163.1,247.0 163.1,247.0 163.2,247.0 163.2,247.1 163.3,247.1 163.4,247.1 163.4,247.1 163.5,247.2 163.5,247.2 163.6,247.2 163.6,247.3 163.7,247.3 163.7,247.3 163.8,247.3 163.8,247.4 163.9,247.4 164.0,247.4 164.0,247.4 164.1,247.5 164.1,247.5 164.2,247.5 164.2,247.5 164.3,247.6 164.3,247.6 164.4,247.6 164.4,247.7 164.5,247.7 164.6,247.7 164.6,247.7 164.7,247.8 164.7,247.8 164.8,247.8 164.8,247.8 164.9,247.9 164.9,247.9 165.0,247.9 165.1,248.0 165.1,248.0 165.2,248.0 165.2,248.0 165.3,248.1 165.3,248.1 165.4,248.1 165.4,248.1 165.5,248.2 165.5,248.2 165.6,248.2 165.7,248.3 165.7,248.3 165.8,248.3 165.8,248.3 165.9,248.4 165.9,248.4 166.0,248.4 166.0,248.5 166.1,248.5 166.1,248.5 166.2,248.5 166.3,248.6 166.3,248.6 166.4,248.6 166.4,248.7 166.5,248.7 166.5,248.7 166.6,248.7 166.6,248.8 166.7,248.8 166.7,248.8 166.8,248.8 166.9,248.9 166.9,248.9 167.0,248.9 167.0,249.0 167.1,249.0 167.1,249.0 167.2,249.0 167.2,249.1 167.3,249.1 167.3,249.1 167.4,249.2 167.5,249.2 167.5,249.2 167.6,249.2 167.6,249.3 167.7,249.3 167.7,249.3 167.8,249.4 167.8,249.4 167.9,249.4 167.9,249.4 168.0,249.5 168.1,249.5 168.1,249.5 168.2,249.6 168.2,249.6 168.3,249.6 168.3,249.6 168.4,249.7 168.4,249.7 168.5,249.7 168.5,249.8 168.6,249.8 168.7,249.8 168.7,249.9 168.8,249.9 168.8,249.9 168.9,249.9 168.9,250.0 169.0,250.0 169.0,250.0 169.1,250.1 169.2,250.1 169.2,250.1 169.3,250.1 169.3,250.2 169.4,250.2 169.4,250.2 169.5,250.3 169.5,250.3 169.6,250.3 169.6,250.3 169.7,250.4 169.8,250.4 169.8,250.4 169.9,250.5 169.9,250.5 170.0,250.5 170.0,250.6 170.1,250.6 170.1,250.6 170.2,250.6 170.2,250.7 170.3,250.7 170.4,250.7 170.4,250.8 170.5,250.8 170.5,250.8 170.6,250.9 170.6,250.9 170.7,250.9 170.7,250.9 170.8,251.0 170.8,251.0 170.9,251.0 171.0,251.1 171.0,251.1 171.1,251.1 171.1,251.2 171.2,251.2 171.2,251.2 171.3,251.2 171.3,251.3 171.4,251.3 171.4,251.3 171.5,251.4 171.6,251.4 171.6,251.4 171.7,251.5 171.7,251.5 171.8,251.5 171.8,251.5 171.9,251.6 171.9,251.6 172.0,251.6 172.0,251.7 172.1,251.7 172.2,251.7 172.2,251.8 172.3,251.8 172.3,251.8 172.4,251.9 172.4,251.9 172.5,251.9 172.5,251.9 172.6,252.0 172.6,252.0 172.7,252.0 172.8,252.1 172.8,252.1 172.9,252.1 172.9,252.2 173.0,252.2 173.0,252.2 173.1,252.3 173.1,252.3 173.2,252.3 173.3,252.3 173.3,252.4 173.4,252.4 173.4,252.4 173.5,252.5 173.5,252.5 173.6,252.5 173.6,252.6 173.7,252.6 173.7,252.6 173.8,252.7 173.9,252.7 173.9,252.7 174.0,252.8 174.0,252.8 174.1,252.8 174.1,252.8 174.2,252.9 174.2,252.9 174.3,252.9 174.3,253.0 174.4,253.0 174.5,253.0 174.5,253.1 174.6,253.1 174.6,253.1 174.7,253.2 174.7,253.2 174.8,253.2 174.8,253.3 174.9,253.3 174.9,253.3 175.0,253.4 175.1,253.4 175.1,253.4 175.2,253.5 175.2,253.5 175.3,253.5 175.3,253.6 175.4,253.6 175.4,253.6 175.5,253.7 175.5,253.7 175.6,253.7 175.7,253.8 175.7,253.8 175.8,253.8 175.8,253.9 175.9,253.9 175.9,253.9 176.0,254.0 176.0,254.0 176.1,254.0 176.1,254.1 176.2,254.1 176.3,254.1 176.3,254.2 176.4,254.2 176.4,254.2 176.5,254.3 176.5,254.3"/>
<polyline clip-path="url(#cA)" fill="none" stroke="#000000" stroke-width="4.10" stroke-linejoin="round" stroke-linecap="butt" points="125.2,261.1 125.3,260.5 125.5,259.9 125.6,259.2 125.7,258.6 125.9,258.0 126.0,257.5 126.1,256.9 126.3,256.4 126.4,255.9 126.5,255.4 126.7,255.0 126.8,254.6 126.9,254.2 127.1,253.9 127.2,253.7 127.3,253.4 127.5,253.3 127.6,253.1 127.7,252.9 127.9,252.8 128.0,252.6 128.1,252.5 128.3,252.3 128.4,252.2 128.5,252.1 128.7,251.9 128.8,251.8 128.9,251.7 129.1,251.6 129.2,251.5 129.3,251.4 129.5,251.3 129.6,251.3 129.7,251.2 129.9,251.1 130.0,251.1 130.1,251.0 130.3,251.0 130.4,250.9 130.5,250.9 130.7,250.9 130.8,250.8 130.9,250.8 131.1,250.8 131.2,250.7 131.3,250.7 131.4,250.7 131.6,250.7 131.7,250.6 131.8,250.6 132.0,250.6 132.1,250.6 132.2,250.6 132.4,250.5 132.5,250.5 132.6,250.5 132.8,250.5 132.9,250.5 133.0,250.4 133.2,250.4 133.3,250.4 133.4,250.4 133.6,250.4 133.7,250.4 133.8,250.4 134.0,250.4 134.1,250.4 134.2,250.4 134.4,250.4 134.5,250.4 134.6,250.4 134.8,250.4 134.9,250.4 135.0,250.4 135.2,250.4 135.3,250.5 135.4,250.5 135.6,250.5 135.7,250.5 135.8,250.5 136.0,250.5 136.1,250.6 136.2,250.6 136.4,250.6 136.5,250.6 136.6,250.7 136.8,250.7 136.9,250.7 137.0,250.8 137.2,250.8 137.3,250.8 137.4,250.9 137.6,250.9 137.7,250.9 137.8,251.0 138.0,251.1 138.1,251.2 138.2,251.3 138.4,251.4 138.5,251.5 138.6,251.6 138.8,251.8 138.9,251.9 139.0,252.0 139.2,252.1 139.3,252.2 139.4,252.3 139.6,252.4 139.7,252.5 139.8,252.6 140.0,252.6 140.1,252.6 140.2,252.4 140.4,251.9 140.5,251.2 140.6,250.3 140.8,249.3 140.9,248.1 141.0,247.0 141.2,245.8 141.3,244.7 141.4,243.7 141.6,242.8 141.7,241.9 141.8,240.9 142.0,240.0 142.1,239.1 142.2,238.1 142.4,237.2 142.5,236.2 142.6,235.3 142.8,234.4 142.9,233.4 143.0,232.6 143.2,231.7 143.3,230.9 143.4,230.1 143.6,229.3 143.7,228.5 143.8,227.8 143.9,227.0 144.1,226.1 144.2,225.3 144.3,224.5 144.5,223.7 144.6,222.9 144.7,222.2 144.9,221.5 145.0,220.9 145.1,220.4 145.3,219.9 145.4,219.5 145.5,219.2 145.7,219.0 145.8,219.0 145.9,218.9 146.1,218.9 146.2,218.8 146.3,218.8 146.5,218.7 146.6,218.7 146.7,218.7 146.9,218.6 147.0,218.6 147.1,218.6 147.3,218.6 147.4,218.6 147.5,218.5 147.7,218.5 147.8,218.5 147.9,218.5 148.1,218.5 148.2,218.4 148.3,218.4 148.5,218.4 148.6,218.4 148.7,218.4 148.9,218.3 149.0,218.3 149.1,218.3 149.3,218.2 149.4,218.2 149.5,218.2 149.7,218.1 149.8,218.1 149.9,218.0 150.1,218.0 150.2,217.9 150.3,217.9 150.5,217.8 150.6,217.7 150.7,217.7 150.9,217.6 151.0,217.5 151.1,217.5 151.3,217.4 151.4,217.4 151.5,217.3 151.7,217.2 151.8,217.2 151.9,217.1 152.1,217.0 152.2,217.0 152.3,216.9 152.5,216.9 152.6,216.8 152.7,216.8 152.9,216.7 153.0,216.7 153.1,216.6 153.3,216.6 153.4,216.6 153.5,216.5 153.7,216.5 153.8,216.5 153.9,216.5 154.1,216.5 154.2,216.5 154.3,216.5 154.5,216.5 154.6,216.5 154.7,216.5 154.9,216.5 155.0,216.5 155.1,216.5 155.3,216.5 155.4,216.5 155.5,216.5 155.7,216.5 155.8,216.5 155.9,216.5 156.0,216.6 156.2,216.6 156.3,216.6 156.4,216.6 156.6,216.6 156.7,216.6 156.8,216.7 157.0,216.7 157.1,216.7 157.2,216.7 157.4,216.7 157.5,216.8 157.6,216.8 157.8,216.8 157.9,216.9 158.0,216.9 158.2,216.9 158.3,216.9 158.4,217.0 158.6,217.0 158.7,217.0 158.8,217.1 159.0,217.1 159.1,217.1 159.2,217.2 159.4,217.2 159.5,217.2 159.6,217.3 159.8,217.3 159.9,217.3 160.0,217.4 160.2,217.4 160.3,217.5 160.4,217.5 160.6,217.5 160.7,217.6 160.8,217.6 161.0,217.7 161.1,217.7 161.2,217.8 161.4,217.8 161.5,217.8 161.6,217.9 161.8,217.9 161.9,218.0 162.0,218.0 162.2,218.1 162.3,218.1 162.4,218.2 162.6,218.2 162.7,218.3 162.8,218.3 163.0,218.4 163.1,218.4 163.2,218.5 163.4,218.5 163.5,218.6 163.6,218.6 163.8,218.7 163.9,218.7 164.0,218.8 164.2,218.8 164.3,218.9 164.4,218.9 164.6,219.0 164.7,219.0 164.8,219.1 165.0,219.1 165.1,219.2 165.2,219.2 165.4,219.3 165.5,219.3 165.6,219.4 165.8,219.5 165.9,219.5 166.0,219.6 166.2,219.6 166.3,219.7 166.4,219.7 166.6,219.8 166.7,219.8 166.8,219.9 167.0,219.9 167.1,220.0 167.2,220.0 167.4,220.1 167.5,220.2 167.6,220.2 167.8,220.3 167.9,220.3 168.0,220.4 168.1,220.4 168.3,220.5 168.4,220.5 168.5,220.6 168.7,220.6 168.8,220.7 168.9,220.7 169.1,220.8 169.2,220.8 169.3,220.9 169.5,220.9 169.6,221.0 169.7,221.0 169.9,221.1 170.0,221.1 170.1,221.2 170.3,221.2 170.4,221.3 170.5,221.3 170.7,221.4 170.8,221.5 170.9,221.5 171.1,221.6 171.2,221.6 171.3,221.7 171.5,221.7 171.6,221.8 171.7,221.8 171.9,221.9 172.0,222.0 172.1,222.0 172.3,222.1 172.4,222.1 172.5,222.2 172.7,222.3 172.8,222.3 172.9,222.4 173.1,222.4 173.2,222.5 173.3,222.6 173.5,222.6 173.6,222.7 173.7,222.8 173.9,222.8 174.0,222.9 174.1,223.0 174.3,223.0 174.4,223.1 174.5,223.2 174.7,223.2 174.8,223.3 174.9,223.4 175.1,223.4 175.2,223.5 175.3,223.6 175.5,223.6 175.6,223.7 175.7,223.8 175.9,223.8 176.0,223.9 176.1,224.0 176.3,224.1 176.4,224.1 176.5,224.2 176.7,224.3 176.8,224.3 176.9,224.4 177.1,224.5 177.2,224.6 177.3,224.6 177.5,224.7 177.6,224.8 177.7,224.8 177.9,224.9 178.0,225.0 178.1,225.1 178.3,225.1 178.4,225.2 178.5,225.3 178.7,225.4 178.8,225.4 178.9,225.5 179.1,225.6 179.2,225.6 179.3,225.7 179.5,225.8 179.6,225.9 179.7,225.9 179.9,226.0 180.0,226.1 180.1,226.2 180.3,226.2 180.4,226.3 180.5,226.4 180.6,226.4 180.8,226.5 180.9,226.6 181.0,226.7 181.2,226.7 181.3,226.8 181.4,226.9 181.6,226.9 181.7,227.0 181.8,227.1 182.0,227.2 182.1,227.2 182.2,227.3 182.4,227.4 182.5,227.4 182.6,227.5 182.8,227.6 182.9,227.6 183.0,227.7 183.2,227.8 183.3,227.9 183.4,227.9 183.6,228.0 183.7,228.1 183.8,228.1 184.0,228.2 184.1,228.3 184.2,228.3 184.4,228.4 184.5,228.5 184.6,228.5 184.8,228.6 184.9,228.6 185.0,228.7 185.2,228.8 185.3,228.8 185.4,228.9 185.6,229.0 185.7,229.0 185.8,229.1 186.0,229.1 186.1,229.2 186.2,229.3 186.4,229.3 186.5,229.4 186.6,229.4 186.8,229.5 186.9,229.5 187.0,229.6 187.2,229.7 187.3,229.7 187.4,229.8 187.6,229.8 187.7,229.9 187.8,230.0 188.0,230.0 188.1,230.1 188.2,230.1 188.4,230.2 188.5,230.3 188.6,230.3 188.8,230.4 188.9,230.4 189.0,230.5 189.2,230.6 189.3,230.6 189.4,230.7 189.6,230.7 189.7,230.8 189.8,230.9 190.0,230.9 190.1,231.0 190.2,231.1 190.4,231.1 190.5,231.2 190.6,231.3 190.8,231.3 190.9,231.4 191.0,231.5 191.2,231.6 191.3,231.6 191.4,231.7 191.6,231.8 191.7,231.8 191.8,231.9 192.0,232.0 192.1,232.1 192.2,232.2 192.4,232.2 192.5,232.3 192.6,232.4 192.7,232.5 192.9,232.6 193.0,232.7 193.1,232.7 193.3,232.8 193.4,232.9 193.5,233.0 193.7,233.1 193.8,233.2 193.9,233.3 194.1,233.3 194.2,233.4 194.3,233.5 194.5,233.6 194.6,233.7 194.7,233.8 194.9,233.9 195.0,234.0 195.1,234.1 195.3,234.2 195.4,234.3 195.5,234.5 195.7,234.6 195.8,234.7 195.9,234.8 196.1,235.0 196.2,235.1 196.3,235.2 196.5,235.4 196.6,235.5 196.7,235.7 196.9,235.9 197.0,236.0 197.1,236.2 197.3,236.4 197.4,236.6 197.5,236.9 197.7,237.1 197.8,237.4 197.9,237.7 198.1,238.1 198.2,238.4 198.3,238.7 198.5,239.1 198.6,239.5 198.7,239.8 198.9,240.2 199.0,240.6 199.1,241.0 199.3,241.4 199.4,241.8 199.5,242.2 199.7,242.6 199.8,243.0 199.9,243.3 200.1,243.7 200.2,244.1 200.3,244.5 200.5,244.9 200.6,245.4 200.7,245.8 200.9,246.2 201.0,246.7 201.1,247.1 201.3,247.5 201.4,248.0 201.5,248.4 201.7,248.9 201.8,249.4 201.9,249.8 202.1,250.3 202.2,250.7 202.3,251.2 202.5,251.7 202.6,252.1 202.7,252.6 202.9,253.0 203.0,253.5 203.1,254.0 203.3,254.4 203.4,254.9 203.5,255.4 203.7,255.9 203.8,256.3 203.9,256.8 204.1,257.3 204.2,257.8 204.3,258.3 204.5,258.8 204.6,259.3 204.7,259.8 204.9,260.3"/>
<polyline clip-path="url(#cA)" fill="none" stroke="#000000" stroke-width="4.10" stroke-linejoin="round" stroke-linecap="butt" points="125.2,265.4 125.4,261.6 125.5,258.0 125.7,254.6 125.8,251.4 126.0,248.4 126.2,245.8 126.3,243.4 126.5,241.3 126.6,239.1 126.8,237.1 126.9,235.1 127.1,233.3 127.3,231.7 127.4,230.3 127.6,229.0 127.7,228.1 127.9,227.4 128.1,226.8 128.2,226.2 128.4,225.7 128.5,225.2 128.7,224.7 128.8,224.2 129.0,223.8 129.2,223.4 129.3,223.1 129.5,222.8 129.6,222.5 129.8,222.2 130.0,222.0 130.1,221.7 130.3,221.5 130.4,221.4 130.6,221.2 130.7,221.1 130.9,221.0 131.1,220.9 131.2,220.8 131.4,220.7 131.5,220.6 131.7,220.5 131.9,220.4 132.0,220.4 132.2,220.3 132.3,220.3 132.5,220.2 132.6,220.1 132.8,220.1 133.0,220.0 133.1,220.0 133.3,220.0 133.4,219.9 133.6,219.9 133.8,219.8 133.9,219.8 134.1,219.7 134.2,219.7 134.4,219.6 134.5,219.6 134.7,219.5 134.9,219.4 135.0,219.3 135.2,219.3 135.3,219.2 135.5,219.1 135.7,219.0 135.8,218.9 136.0,218.8 136.1,218.7 136.3,218.6 136.4,218.5 136.6,218.3 136.8,218.2 136.9,218.1 137.1,217.9 137.2,217.8 137.4,217.6 137.6,217.5 137.7,217.3 137.9,217.1 138.0,216.9 138.2,216.7 138.3,216.5 138.5,216.2 138.7,216.0 138.8,215.7 139.0,215.5 139.1,215.2 139.3,214.9 139.5,214.5 139.6,214.0 139.8,213.4 139.9,212.6 140.1,211.7 140.2,210.8 140.4,209.8 140.6,208.7 140.7,207.7 140.9,206.6 141.0,205.6 141.2,204.7 141.4,203.9 141.5,203.1 141.7,202.4 141.8,201.7 142.0,201.0 142.1,200.4 142.3,199.7 142.5,199.0 142.6,198.3 142.8,197.6 142.9,197.0 143.1,196.4 143.3,195.7 143.4,195.1 143.6,194.6 143.7,194.0 143.9,193.5 144.0,193.0 144.2,192.5 144.4,192.0 144.5,191.6 144.7,191.2 144.8,190.9 145.0,190.6 145.2,190.3 145.3,190.0 145.5,189.7 145.6,189.4 145.8,189.1 145.9,188.9 146.1,188.6 146.3,188.3 146.4,188.1 146.6,187.8 146.7,187.6 146.9,187.3 147.1,187.1 147.2,186.9 147.4,186.7 147.5,186.5 147.7,186.3 147.8,186.2 148.0,186.0 148.2,185.9 148.3,185.8 148.5,185.7 148.6,185.6 148.8,185.5 149.0,185.4 149.1,185.4 149.3,185.4 149.4,185.4 149.6,185.4 149.7,185.4 149.9,185.4 150.1,185.4 150.2,185.5 150.4,185.5 150.5,185.5 150.7,185.5 150.9,185.5 151.0,185.6 151.2,185.6 151.3,185.6 151.5,185.7 151.7,185.7 151.8,185.7 152.0,185.8 152.1,185.8 152.3,185.9 152.4,185.9 152.6,186.0 152.8,186.0 152.9,186.1 153.1,186.1 153.2,186.2 153.4,186.2 153.6,186.3 153.7,186.4 153.9,186.4 154.0,186.5 154.2,186.6 154.3,186.6 154.5,186.7 154.7,186.8 154.8,186.8 155.0,186.9 155.1,187.0 155.3,187.1 155.5,187.1 155.6,187.2 155.8,187.3 155.9,187.4 156.1,187.5 156.2,187.5 156.4,187.6 156.6,187.7 156.7,187.8 156.9,187.9 157.0,188.0 157.2,188.0 157.4,188.1 157.5,188.2 157.7,188.3 157.8,188.4 158.0,188.5 158.1,188.6 158.3,188.7 158.5,188.8 158.6,188.9 158.8,188.9 158.9,189.0 159.1,189.1 159.3,189.2 159.4,189.3 159.6,189.4 159.7,189.5 159.9,189.6 160.0,189.7 160.2,189.8 160.4,189.9 160.5,190.0 160.7,190.1 160.8,190.1 161.0,190.2 161.2,190.3 161.3,190.4 161.5,190.5 161.6,190.6 161.8,190.7 161.9,190.8 162.1,190.9 162.3,190.9 162.4,191.0 162.6,191.1 162.7,191.2 162.9,191.3 163.1,191.4 163.2,191.5 163.4,191.5 163.5,191.6 163.7,191.7 163.8,191.8 164.0,191.9 164.2,192.0 164.3,192.1 164.5,192.2 164.6,192.3 164.8,192.4 165.0,192.5 165.1,192.6 165.3,192.7 165.4,192.8 165.6,192.9 165.7,193.0 165.9,193.1 166.1,193.2 166.2,193.3 166.4,193.4 166.5,193.5 166.7,193.6 166.9,193.7 167.0,193.8 167.2,194.0 167.3,194.1 167.5,194.2 167.6,194.3 167.8,194.4 168.0,194.5 168.1,194.6 168.3,194.7 168.4,194.9 168.6,195.0 168.8,195.1 168.9,195.2 169.1,195.3 169.2,195.4 169.4,195.5 169.5,195.7 169.7,195.8 169.9,195.9 170.0,196.0 170.2,196.1 170.3,196.2 170.5,196.4 170.7,196.5 170.8,196.6 171.0,196.7 171.1,196.8 171.3,197.0 171.4,197.1 171.6,197.2 171.8,197.3 171.9,197.4 172.1,197.6 172.2,197.7 172.4,197.8 172.6,197.9 172.7,198.0 172.9,198.1 173.0,198.3 173.2,198.4 173.3,198.5 173.5,198.6 173.7,198.7 173.8,198.9 174.0,199.0 174.1,199.1 174.3,199.2 174.5,199.3 174.6,199.4 174.8,199.5 174.9,199.7 175.1,199.8 175.2,199.9 175.4,200.0 175.6,200.1 175.7,200.2 175.9,200.3 176.0,200.4 176.2,200.6 176.4,200.7 176.5,200.8 176.7,200.9 176.8,201.0 177.0,201.1 177.1,201.2 177.3,201.3 177.5,201.4 177.6,201.5 177.8,201.6 177.9,201.7 178.1,201.8 178.3,201.9 178.4,202.0 178.6,202.1 178.7,202.3 178.9,202.4 179.1,202.5 179.2,202.6 179.4,202.7 179.5,202.8 179.7,202.9 179.8,203.0 180.0,203.1 180.2,203.2 180.3,203.3 180.5,203.4 180.6,203.5 180.8,203.6 181.0,203.7 181.1,203.8 181.3,203.9 181.4,204.0 181.6,204.1 181.7,204.2 181.9,204.3 182.1,204.4 182.2,204.5 182.4,204.6 182.5,204.7 182.7,204.8 182.9,204.9 183.0,205.0 183.2,205.1 183.3,205.2 183.5,205.3 183.6,205.4 183.8,205.5 184.0,205.6 184.1,205.7 184.3,205.8 184.4,205.9 184.6,206.0 184.8,206.1 184.9,206.2 185.1,206.3 185.2,206.5 185.4,206.6 185.5,206.7 185.7,206.8 185.9,206.9 186.0,207.0 186.2,207.1 186.3,207.2 186.5,207.3 186.7,207.4 186.8,207.5 187.0,207.6 187.1,207.7 187.3,207.8 187.4,207.9 187.6,208.0 187.8,208.1 187.9,208.2 188.1,208.3 188.2,208.4 188.4,208.5 188.6,208.6 188.7,208.7 188.9,208.8 189.0,208.9 189.2,209.0 189.3,209.1 189.5,209.2 189.7,209.3 189.8,209.4 190.0,209.5 190.1,209.6 190.3,209.7 190.5,209.8 190.6,209.9 190.8,210.0 190.9,210.1 191.1,210.2 191.2,210.3 191.4,210.4 191.6,210.5 191.7,210.6 191.9,210.7 192.0,210.8 192.2,210.9 192.4,211.0 192.5,211.1 192.7,211.2 192.8,211.3 193.0,211.4 193.1,211.5 193.3,211.6 193.5,211.7 193.6,211.8 193.8,211.9 193.9,212.0 194.1,212.1 194.3,212.2 194.4,212.3 194.6,212.4 194.7,212.5 194.9,212.6 195.0,212.7 195.2,212.8 195.4,212.9 195.5,213.0 195.7,213.1 195.8,213.2 196.0,213.3 196.2,213.5 196.3,213.6 196.5,213.7 196.6,213.8 196.8,213.9 196.9,214.0 197.1,214.1 197.3,214.2 197.4,214.3 197.6,214.4 197.7,214.5 197.9,214.6 198.1,214.7 198.2,214.8 198.4,214.9 198.5,215.0 198.7,215.1 198.8,215.2 199.0,215.3 199.2,215.4 199.3,215.5 199.5,215.6 199.6,215.7 199.8,215.8 200.0,215.9 200.1,216.0 200.3,216.1 200.4,216.2 200.6,216.3 200.7,216.4 200.9,216.5 201.1,216.6 201.2,216.7 201.4,216.8 201.5,216.9 201.7,217.0 201.9,217.1 202.0,217.2 202.2,217.3 202.3,217.4 202.5,217.5 202.6,217.7 202.8,217.8 203.0,217.9 203.1,218.0 203.3,218.1 203.4,218.2 203.6,218.3 203.8,218.4 203.9,218.5 204.1,218.6 204.2,218.7 204.4,218.9 204.6,219.0 204.7,219.1 204.9,219.2 205.0,219.3 205.2,219.4 205.3,219.5 205.5,219.6 205.7,219.8 205.8,219.9 206.0,220.0 206.1,220.1 206.3,220.2 206.5,220.3 206.6,220.4 206.8,220.5 206.9,220.6 207.1,220.7 207.2,220.8 207.4,220.9 207.6,221.0 207.7,221.1 207.9,221.2 208.0,221.3 208.2,221.4 208.4,221.5 208.5,221.6 208.7,221.7 208.8,221.8 209.0,221.9 209.1,222.0 209.3,222.1 209.5,222.2 209.6,222.3 209.8,222.5 209.9,222.6 210.1,222.7 210.3,222.8 210.4,223.0 210.6,223.1 210.7,223.2 210.9,223.4 211.0,223.5 211.2,223.6 211.4,223.8 211.5,223.9 211.7,224.1 211.8,224.3 212.0,224.4 212.2,224.6 212.3,224.8 212.5,225.0 212.6,225.2 212.8,225.3 212.9,225.6 213.1,225.8 213.3,226.0 213.4,226.3 213.6,226.6 213.7,226.9 213.9,227.2 214.1,227.6 214.2,227.9 214.4,228.3 214.5,228.7 214.7,229.1 214.8,229.5 215.0,229.9 215.2,230.4 215.3,230.9 215.5,231.3 215.6,231.8 215.8,232.3 216.0,232.9 216.1,233.5 216.3,234.1 216.4,234.8 216.6,235.5 216.7,236.3 216.9,237.0 217.1,237.9 217.2,238.7 217.4,239.6 217.5,240.4 217.7,241.4 217.9,242.3 218.0,243.4 218.2,244.5 218.3,245.7 218.5,247.0 218.6,248.3 218.8,249.5 219.0,250.8 219.1,252.1 219.3,253.3 219.4,254.5 219.6,255.7 219.8,257.0 219.9,258.2 220.1,259.4"/>
<polyline clip-path="url(#cA)" fill="none" stroke="#000000" stroke-width="4.10" stroke-linejoin="round" stroke-linecap="butt" points="125.2,265.4 125.4,246.3 125.6,229.1 125.8,215.8 126.0,208.2 126.2,202.9 126.4,198.3 126.5,194.4 126.7,191.4 126.9,189.3 127.1,188.1 127.3,187.5 127.5,186.9 127.7,186.5 127.9,186.0 128.1,185.6 128.3,185.3 128.5,185.0 128.7,184.7 128.8,184.5 129.0,184.3 129.2,184.1 129.4,184.0 129.6,183.9 129.8,183.8 130.0,183.7 130.2,183.6 130.4,183.6 130.6,183.5 130.8,183.5 131.0,183.5 131.2,183.4 131.3,183.4 131.5,183.4 131.7,183.3 131.9,183.3 132.1,183.3 132.3,183.3 132.5,183.2 132.7,183.2 132.9,183.2 133.1,183.2 133.3,183.2 133.5,183.2 133.7,183.1 133.8,183.1 134.0,183.1 134.2,183.1 134.4,183.1 134.6,183.1 134.8,183.0 135.0,183.0 135.2,183.0 135.4,183.0 135.6,182.9 135.8,182.9 136.0,182.9 136.1,182.8 136.3,182.8 136.5,182.8 136.7,182.7 136.9,182.6 137.1,182.6 137.3,182.5 137.5,182.4 137.7,182.2 137.9,182.0 138.1,181.7 138.3,181.5 138.5,181.2 138.6,180.9 138.8,180.6 139.0,180.3 139.2,179.9 139.4,179.4 139.6,178.9 139.8,178.4 140.0,177.8 140.2,177.1 140.4,176.4 140.6,175.8 140.8,175.1 140.9,174.4 141.1,173.7 141.3,173.1 141.5,172.4 141.7,171.8 141.9,171.1 142.1,170.3 142.3,169.6 142.5,168.8 142.7,168.0 142.9,167.2 143.1,166.4 143.3,165.6 143.4,164.9 143.6,164.2 143.8,163.5 144.0,162.9 144.2,162.4 144.4,162.0 144.6,161.6 144.8,161.3 145.0,161.2 145.2,161.1 145.4,161.1 145.6,161.0 145.8,161.0 145.9,160.9 146.1,160.9 146.3,160.8 146.5,160.8 146.7,160.8 146.9,160.8 147.1,160.7 147.3,160.7 147.5,160.7 147.7,160.6 147.9,160.6 148.1,160.6 148.2,160.6 148.4,160.5 148.6,160.5 148.8,160.4 149.0,160.4 149.2,160.3 149.4,160.2 149.6,160.2 149.8,160.1 150.0,160.0 150.2,160.0 150.4,159.9 150.6,159.8 150.7,159.7 150.9,159.7 151.1,159.6 151.3,159.5 151.5,159.5 151.7,159.4 151.9,159.3 152.1,159.3 152.3,159.2 152.5,159.2 152.7,159.1 152.9,159.1 153.1,159.1 153.2,159.1 153.4,159.0 153.6,159.0 153.8,159.0 154.0,159.1 154.2,159.1 154.4,159.1 154.6,159.1 154.8,159.1 155.0,159.1 155.2,159.2 155.4,159.2 155.5,159.2 155.7,159.2 155.9,159.3 156.1,159.3 156.3,159.4 156.5,159.4 156.7,159.4 156.9,159.5 157.1,159.5 157.3,159.6 157.5,159.6 157.7,159.7 157.9,159.7 158.0,159.8 158.2,159.9 158.4,159.9 158.6,160.0 158.8,160.0 159.0,160.1 159.2,160.2 159.4,160.2 159.6,160.3 159.8,160.4 160.0,160.5 160.2,160.5 160.3,160.6 160.5,160.7 160.7,160.8 160.9,160.8 161.1,160.9 161.3,161.0 161.5,161.1 161.7,161.1 161.9,161.2 162.1,161.3 162.3,161.4 162.5,161.5 162.7,161.5 162.8,161.6 163.0,161.7 163.2,161.8 163.4,161.9 163.6,161.9 163.8,162.0 164.0,162.1 164.2,162.2 164.4,162.3 164.6,162.3 164.8,162.4 165.0,162.5 165.2,162.6 165.3,162.6 165.5,162.7 165.7,162.8 165.9,162.9 166.1,162.9 166.3,163.0 166.5,163.1 166.7,163.1 166.9,163.2 167.1,163.3 167.3,163.3 167.5,163.4 167.6,163.5 167.8,163.5 168.0,163.6 168.2,163.7 168.4,163.7 168.6,163.8 168.8,163.9 169.0,163.9 169.2,164.0 169.4,164.1 169.6,164.1 169.8,164.2 170.0,164.3 170.1,164.3 170.3,164.4 170.5,164.5 170.7,164.5 170.9,164.6 171.1,164.7 171.3,164.7 171.5,164.8 171.7,164.9 171.9,165.0 172.1,165.0 172.3,165.1 172.4,165.2 172.6,165.2 172.8,165.3 173.0,165.4 173.2,165.4 173.4,165.5 173.6,165.6 173.8,165.7 174.0,165.7 174.2,165.8 174.4,165.9 174.6,165.9 174.8,166.0 174.9,166.1 175.1,166.2 175.3,166.2 175.5,166.3 175.7,166.4 175.9,166.4 176.1,166.5 176.3,166.6 176.5,166.7 176.7,166.7 176.9,166.8 177.1,166.9 177.3,166.9 177.4,167.0 177.6,167.1 177.8,167.2 178.0,167.2 178.2,167.3 178.4,167.4 178.6,167.4 178.8,167.5 179.0,167.6 179.2,167.6 179.4,167.7 179.6,167.8 179.7,167.8 179.9,167.9 180.1,168.0 180.3,168.1 180.5,168.1 180.7,168.2 180.9,168.3 181.1,168.3 181.3,168.4 181.5,168.5 181.7,168.5 181.9,168.6 182.1,168.7 182.2,168.7 182.4,168.8 182.6,168.8 182.8,168.9 183.0,169.0 183.2,169.0 183.4,169.1 183.6,169.1 183.8,169.2 184.0,169.3 184.2,169.3 184.4,169.4 184.5,169.4 184.7,169.5 184.9,169.5 185.1,169.6 185.3,169.7 185.5,169.7 185.7,169.8 185.9,169.8 186.1,169.9 186.3,170.0 186.5,170.0 186.7,170.1 186.9,170.1 187.0,170.2 187.2,170.3 187.4,170.3 187.6,170.4 187.8,170.4 188.0,170.5 188.2,170.6 188.4,170.6 188.6,170.7 188.8,170.8 189.0,170.8 189.2,170.9 189.4,171.0 189.5,171.0 189.7,171.1 189.9,171.2 190.1,171.3 190.3,171.3 190.5,171.4 190.7,171.5 190.9,171.6 191.1,171.7 191.3,171.7 191.5,171.8 191.7,171.9 191.8,172.0 192.0,172.1 192.2,172.2 192.4,172.3 192.6,172.3 192.8,172.4 193.0,172.5 193.2,172.6 193.4,172.7 193.6,172.8 193.8,172.9 194.0,173.0 194.2,173.1 194.3,173.2 194.5,173.3 194.7,173.4 194.9,173.5 195.1,173.7 195.3,173.8 195.5,173.9 195.7,174.1 195.9,174.2 196.1,174.3 196.3,174.5 196.5,174.7 196.7,174.8 196.8,175.0 197.0,175.2 197.2,175.4 197.4,175.6 197.6,175.8 197.8,176.1 198.0,176.4 198.2,176.7 198.4,177.1 198.6,177.4 198.8,177.8 199.0,178.2 199.1,178.6 199.3,179.0 199.5,179.4 199.7,179.9 199.9,180.3 200.1,180.8 200.3,181.3 200.5,181.7 200.7,182.2 200.9,182.8 201.1,183.4 201.3,184.1 201.5,184.9 201.6,185.7 201.8,186.5 202.0,187.4 202.2,188.2 202.4,189.1 202.6,189.9 202.8,190.7 203.0,191.5 203.2,192.2 203.4,192.9 203.6,193.5 203.8,194.0 203.9,194.4 204.1,194.8 204.3,195.0 204.5,195.3 204.7,195.5 204.9,195.7 205.1,195.9 205.3,196.1 205.5,196.3 205.7,196.4 205.9,196.6 206.1,196.8 206.3,196.9 206.4,197.1 206.6,197.2 206.8,197.3 207.0,197.4 207.2,197.6 207.4,197.7 207.6,197.8 207.8,197.9 208.0,198.0 208.2,198.1 208.4,198.2 208.6,198.3 208.8,198.4 208.9,198.5 209.1,198.6 209.3,198.6 209.5,198.7 209.7,198.8 209.9,198.9 210.1,199.0 210.3,199.2 210.5,199.3 210.7,199.4 210.9,199.5 211.1,199.6 211.2,199.8 211.4,199.9 211.6,200.0 211.8,200.2 212.0,200.4 212.2,200.5 212.4,200.7 212.6,200.9 212.8,201.1 213.0,201.3 213.2,201.6 213.4,201.8 213.6,202.0 213.7,202.3 213.9,202.6 214.1,202.9 214.3,203.2 214.5,203.5 214.7,203.8 214.9,204.1 215.1,204.5 215.3,204.8 215.5,205.2 215.7,205.6 215.9,205.9 216.0,206.3 216.2,206.7 216.4,207.1 216.6,207.5 216.8,208.0 217.0,208.4 217.2,208.8 217.4,209.2 217.6,209.7 217.8,210.1 218.0,210.6 218.2,211.0 218.4,211.5 218.5,211.9 218.7,212.4 218.9,213.0 219.1,213.6 219.3,214.3 219.5,215.0 219.7,215.7 219.9,216.4 220.1,217.1 220.3,217.9 220.5,218.7 220.7,219.4 220.9,220.1 221.0,220.9 221.2,221.6 221.4,222.2 221.6,222.8 221.8,223.4 222.0,224.0 222.2,224.4 222.4,224.8 222.6,225.2 222.8,225.4 223.0,225.7 223.2,225.9 223.3,226.1 223.5,226.3 223.7,226.5 223.9,226.6 224.1,226.8 224.3,227.0 224.5,227.1 224.7,227.3 224.9,227.4 225.1,227.5 225.3,227.6 225.5,227.7 225.7,227.9 225.8,228.0 226.0,228.1 226.2,228.2 226.4,228.3 226.6,228.4 226.8,228.5 227.0,228.5 227.2,228.6 227.4,228.7 227.6,228.8 227.8,228.9 228.0,229.0 228.1,229.1 228.3,229.2 228.5,229.4 228.7,229.5 228.9,229.6 229.1,229.7 229.3,229.9 229.5,230.0 229.7,230.1 229.9,230.3 230.1,230.5 230.3,230.6 230.5,230.8 230.6,231.0 230.8,231.2 231.0,231.5 231.2,231.7 231.4,232.0 231.6,232.2 231.8,232.5 232.0,232.8 232.2,233.1 232.4,233.5 232.6,233.8 232.8,234.2 233.0,234.5 233.1,234.9 233.3,235.3 233.5,235.7 233.7,236.1 233.9,236.6 234.1,237.0 234.3,237.4 234.5,237.9 234.7,238.4 234.9,239.0 235.1,239.6 235.3,240.2 235.4,240.9 235.6,241.5 235.8,242.2 236.0,242.9 236.2,243.7 236.4,244.4 236.6,245.2 236.8,245.9 237.0,246.7 237.2,247.5 237.4,248.2 237.6,249.0 237.8,249.8 237.9,250.5 238.1,251.3 238.3,252.0 238.5,252.8 238.7,253.5 238.9,254.2 239.1,254.9 239.3,255.7 239.5,256.4 239.7,257.2 239.9,257.9 240.1,258.7 240.3,259.4"/>
<polyline clip-path="url(#cA)" fill="none" stroke="#000000" stroke-width="4.10" stroke-linejoin="round" stroke-linecap="butt" points="125.2,265.4 125.4,210.0 125.7,174.6 125.9,164.4 126.2,158.2 126.4,155.0 126.7,153.6 126.9,152.5 127.1,151.6 127.4,151.0 127.6,150.5 127.9,150.1 128.1,149.8 128.3,149.5 128.6,149.2 128.8,149.0 129.1,148.7 129.3,148.6 129.6,148.4 129.8,148.4 130.0,148.3 130.3,148.3 130.5,148.3 130.8,148.3 131.0,148.2 131.3,148.2 131.5,148.2 131.7,148.2 132.0,148.2 132.2,148.2 132.5,148.2 132.7,148.2 133.0,148.2 133.2,148.2 133.4,148.2 133.7,148.2 133.9,148.1 134.2,148.1 134.4,148.1 134.6,148.1 134.9,148.1 135.1,148.1 135.4,148.1 135.6,148.1 135.9,148.1 136.1,148.1 136.3,148.1 136.6,148.0 136.8,148.0 137.1,148.0 137.3,147.9 137.6,147.8 137.8,147.6 138.0,147.4 138.3,147.2 138.5,146.9 138.8,146.6 139.0,146.3 139.3,145.9 139.5,145.5 139.7,145.0 140.0,144.4 140.2,143.9 140.5,143.2 140.7,142.6 140.9,141.9 141.2,141.3 141.4,140.6 141.7,140.0 141.9,139.3 142.2,138.6 142.4,137.8 142.6,137.0 142.9,136.2 143.1,135.4 143.4,134.6 143.6,133.8 143.9,133.1 144.1,132.4 144.3,131.8 144.6,131.2 144.8,130.8 145.1,130.4 145.3,130.1 145.6,129.8 145.8,129.4 146.0,129.2 146.3,128.9 146.5,128.7 146.8,128.5 147.0,128.4 147.2,128.3 147.5,128.3 147.7,128.4 148.0,128.5 148.2,128.6 148.5,128.7 148.7,128.9 148.9,129.1 149.2,129.3 149.4,129.6 149.7,129.8 149.9,130.1 150.2,130.4 150.4,130.7 150.6,131.0 150.9,131.3 151.1,131.6 151.4,131.9 151.6,132.2 151.9,132.5 152.1,132.8 152.3,133.1 152.6,133.4 152.8,133.7 153.1,133.9 153.3,134.1 153.5,134.4 153.8,134.5 154.0,134.7 154.3,134.8 154.5,134.9 154.8,135.0 155.0,135.2 155.2,135.2 155.5,135.3 155.7,135.4 156.0,135.5 156.2,135.6 156.5,135.6 156.7,135.7 156.9,135.8 157.2,135.8 157.4,135.9 157.7,136.0 157.9,136.0 158.2,136.1 158.4,136.1 158.6,136.2 158.9,136.3 159.1,136.3 159.4,136.4 159.6,136.4 159.8,136.5 160.1,136.6 160.3,136.6 160.6,136.7 160.8,136.8 161.1,136.9 161.3,137.0 161.5,137.1 161.8,137.2 162.0,137.3 162.3,137.4 162.5,137.5 162.8,137.6 163.0,137.8 163.2,138.0 163.5,138.2 163.7,138.4 164.0,138.7 164.2,139.0 164.5,139.3 164.7,139.6 164.9,140.0 165.2,140.3 165.4,140.7 165.7,141.1 165.9,141.5 166.1,141.9 166.4,142.3 166.6,142.7 166.9,143.1 167.1,143.5 167.4,143.9 167.6,144.3 167.8,144.7 168.1,145.1 168.3,145.5 168.6,145.8 168.8,146.2 169.1,146.5 169.3,146.8 169.5,147.1 169.8,147.4 170.0,147.6 170.3,147.8 170.5,148.0 170.8,148.3 171.0,148.5 171.2,148.7 171.5,148.9 171.7,149.1 172.0,149.3 172.2,149.5 172.4,149.6 172.7,149.8 172.9,150.0 173.2,150.2 173.4,150.4 173.7,150.5 173.9,150.7 174.1,150.9 174.4,151.0 174.6,151.2 174.9,151.3 175.1,151.5 175.4,151.6 175.6,151.8 175.8,151.9 176.1,152.1 176.3,152.2 176.6,152.4 176.8,152.5 177.1,152.7 177.3,152.8 177.5,153.0 177.8,153.1 178.0,153.3 178.3,153.4 178.5,153.6 178.7,153.7 179.0,153.9 179.2,154.1 179.5,154.2 179.7,154.4 180.0,154.5 180.2,154.7 180.4,154.9 180.7,155.0 180.9,155.2 181.2,155.4 181.4,155.5 181.7,155.7 181.9,155.9 182.1,156.1 182.4,156.3 182.6,156.5 182.9,156.6 183.1,156.8 183.4,157.0 183.6,157.2 183.8,157.4 184.1,157.6 184.3,157.8 184.6,158.0 184.8,158.1 185.0,158.3 185.3,158.5 185.5,158.7 185.8,158.9 186.0,159.1 186.3,159.3 186.5,159.5 186.7,159.7 187.0,159.9 187.2,160.1 187.5,160.3 187.7,160.5 188.0,160.7 188.2,160.9 188.4,161.0 188.7,161.2 188.9,161.4 189.2,161.6 189.4,161.8 189.7,162.0 189.9,162.2 190.1,162.4 190.4,162.6 190.6,162.8 190.9,162.9 191.1,163.1 191.3,163.3 191.6,163.5 191.8,163.7 192.1,163.9 192.3,164.0 192.6,164.2 192.8,164.4 193.0,164.6 193.3,164.8 193.5,164.9 193.8,165.1 194.0,165.3 194.3,165.4 194.5,165.6 194.7,165.8 195.0,165.9 195.2,166.1 195.5,166.2 195.7,166.4 196.0,166.6 196.2,166.7 196.4,166.9 196.7,167.0 196.9,167.2 197.2,167.3 197.4,167.5 197.6,167.6 197.9,167.7 198.1,167.9 198.4,168.0 198.6,168.2 198.9,168.3 199.1,168.5 199.3,168.6 199.6,168.7 199.8,168.9 200.1,169.0 200.3,169.2 200.6,169.3 200.8,169.5 201.0,169.6 201.3,169.7 201.5,169.9 201.8,170.0 202.0,170.2 202.3,170.3 202.5,170.5 202.7,170.6 203.0,170.8 203.2,170.9 203.5,171.1 203.7,171.3 203.9,171.4 204.2,171.6 204.4,171.8 204.7,171.9 204.9,172.1 205.2,172.3 205.4,172.5 205.6,172.6 205.9,172.8 206.1,173.0 206.4,173.2 206.6,173.3 206.9,173.5 207.1,173.7 207.3,173.9 207.6,174.0 207.8,174.2 208.1,174.4 208.3,174.6 208.6,174.8 208.8,174.9 209.0,175.1 209.3,175.3 209.5,175.5 209.8,175.7 210.0,175.9 210.2,176.1 210.5,176.3 210.7,176.5 211.0,176.7 211.2,177.0 211.5,177.2 211.7,177.4 211.9,177.7 212.2,177.9 212.4,178.2 212.7,178.4 212.9,178.7 213.2,179.0 213.4,179.3 213.6,179.6 213.9,179.9 214.1,180.2 214.4,180.5 214.6,180.9 214.9,181.3 215.1,181.7 215.3,182.2 215.6,182.8 215.8,183.3 216.1,183.9 216.3,184.5 216.5,185.1 216.8,185.8 217.0,186.4 217.3,187.1 217.5,187.7 217.8,188.3 218.0,189.0 218.2,189.6 218.5,190.2 218.7,190.8 219.0,191.3 219.2,191.8 219.5,192.3 219.7,192.7 219.9,193.1 220.2,193.5 220.4,193.9 220.7,194.2 220.9,194.6 221.2,194.9 221.4,195.3 221.6,195.6 221.9,195.9 222.1,196.2 222.4,196.5 222.6,196.8 222.8,197.1 223.1,197.4 223.3,197.7 223.6,198.0 223.8,198.3 224.1,198.6 224.3,198.8 224.5,199.1 224.8,199.3 225.0,199.6 225.3,199.9 225.5,200.1 225.8,200.4 226.0,200.6 226.2,200.9 226.5,201.1 226.7,201.4 227.0,201.6 227.2,201.9 227.5,202.1 227.7,202.4 227.9,202.6 228.2,202.9 228.4,203.1 228.7,203.4 228.9,203.6 229.1,203.9 229.4,204.1 229.6,204.3 229.9,204.6 230.1,204.8 230.4,205.0 230.6,205.2 230.8,205.5 231.1,205.7 231.3,205.9 231.6,206.1 231.8,206.3 232.1,206.5 232.3,206.7 232.5,206.9 232.8,207.1 233.0,207.4 233.3,207.6 233.5,207.8 233.8,208.0 234.0,208.2 234.2,208.4 234.5,208.6 234.7,208.8 235.0,209.0 235.2,209.3 235.4,209.5 235.7,209.7 235.9,209.9 236.2,210.2 236.4,210.4 236.7,210.6 236.9,210.9 237.1,211.1 237.4,211.4 237.6,211.7 237.9,211.9 238.1,212.2 238.4,212.5 238.6,212.8 238.8,213.1 239.1,213.4 239.3,213.7 239.6,214.0 239.8,214.4 240.1,214.7 240.3,215.1 240.5,215.4 240.8,215.8 241.0,216.2 241.3,216.6 241.5,217.0 241.7,217.3 242.0,217.7 242.2,218.1 242.5,218.5 242.7,218.9 243.0,219.3 243.2,219.7 243.4,220.1 243.7,220.4 243.9,220.8 244.2,221.2 244.4,221.5 244.7,221.9 244.9,222.3 245.1,222.7 245.4,223.1 245.6,223.5 245.9,223.9 246.1,224.3 246.4,224.7 246.6,225.0 246.8,225.4 247.1,225.8 247.3,226.2 247.6,226.6 247.8,227.0 248.0,227.3 248.3,227.7 248.5,228.0 248.8,228.4 249.0,228.7 249.3,229.0 249.5,229.3 249.7,229.6 250.0,229.8 250.2,230.1 250.5,230.3 250.7,230.6 251.0,230.8 251.2,231.0 251.4,231.2 251.7,231.4 251.9,231.6 252.2,231.8 252.4,232.0 252.7,232.2 252.9,232.3 253.1,232.5 253.4,232.7 253.6,232.9 253.9,233.1 254.1,233.3 254.3,233.5 254.6,233.7 254.8,233.9 255.1,234.2 255.3,234.4 255.6,234.6 255.8,234.9 256.0,235.2 256.3,235.5 256.5,235.8 256.8,236.2 257.0,236.5 257.3,236.9 257.5,237.2 257.7,237.6 258.0,238.0 258.2,238.4 258.5,238.8 258.7,239.2 259.0,239.5 259.2,239.9 259.4,240.3 259.7,240.6 259.9,240.9 260.2,241.2 260.4,241.5 260.6,241.8 260.9,242.0 261.1,242.3 261.4,242.4 261.6,242.6 261.9,242.7 262.1,242.9 262.3,243.0 262.6,243.1 262.8,243.2 263.1,243.3 263.3,243.4 263.6,243.5 263.8,243.6 264.0,243.7 264.3,243.8 264.5,243.9 264.8,244.0 265.0,244.2 265.3,244.4 265.5,244.5 265.7,244.8 266.0,245.1 266.2,245.4 266.5,245.8 266.7,246.2 266.9,246.7 267.2,247.2 267.4,247.8 267.7,248.4 267.9,249.0 268.2,249.7 268.4,250.4 268.6,251.1 268.9,251.9 269.1,252.7 269.4,253.6 269.6,254.7 269.9,255.9 270.1,257.2 270.3,258.6"/>
<rect x="741.40" y="10.20" width="443.10" height="242.40" fill="none" stroke="#383838" stroke-width="1.30"/>
<path d="M830.02 252.60v-4.50M830.02 10.20v4.50M918.64 252.60v-4.50M918.64 10.20v4.50M1007.26 252.60v-4.50M1007.26 10.20v4.50M1095.88 252.60v-4.50M1095.88 10.20v4.50M741.40 18.28h4.50M1184.50 18.28h-4.50M741.40 50.60h4.50M1184.50 50.60h-4.50M741.40 82.92h4.50M1184.50 82.92h-4.50M741.40 115.24h4.50M1184.50 115.24h-4.50M741.40 147.56h4.50M1184.50 147.56h-4.50M741.40 179.88h4.50M1184.50 179.88h-4.50M741.40 212.20h4.50M1184.50 212.20h-4.50M741.40 244.52h4.50M1184.50 244.52h-4.50" fill="none" stroke="#383838" stroke-width="1.10"/>
<text x="741.4" y="280.9" text-anchor="middle" font-size="25.0">0</text>
<text x="830.0" y="280.9" text-anchor="middle" font-size="25.0">1</text>
<text x="918.6" y="280.9" text-anchor="middle" font-size="25.0">2</text>
<text x="1007.3" y="280.9" text-anchor="middle" font-size="25.0">3</text>
<text x="1095.9" y="280.9" text-anchor="middle" font-size="25.0">4</text>
<text x="1184.5" y="280.9" text-anchor="middle" font-size="25.0">5</text>
<text x="731.5" y="26.9" text-anchor="end" font-size="25.0">0.2</text>
<text x="731.5" y="59.2" text-anchor="end" font-size="25.0">0</text>
<g><text transform="translate(700.6 91.5) scale(1.38 1)" text-anchor="end" font-size="25.0">−</text><text x="731.5" y="91.5" text-anchor="end" font-size="25.0">0.2</text></g>
<g><text transform="translate(700.6 123.8) scale(1.38 1)" text-anchor="end" font-size="25.0">−</text><text x="731.5" y="123.8" text-anchor="end" font-size="25.0">0.4</text></g>
<g><text transform="translate(700.6 156.2) scale(1.38 1)" text-anchor="end" font-size="25.0">−</text><text x="731.5" y="156.2" text-anchor="end" font-size="25.0">0.6</text></g>
<g><text transform="translate(700.6 188.5) scale(1.38 1)" text-anchor="end" font-size="25.0">−</text><text x="731.5" y="188.5" text-anchor="end" font-size="25.0">0.8</text></g>
<g><text transform="translate(700.6 220.8) scale(1.38 1)" text-anchor="end" font-size="25.0">−</text><text x="731.5" y="220.8" text-anchor="end" font-size="25.0">1.0</text></g>
<g><text transform="translate(700.6 253.1) scale(1.38 1)" text-anchor="end" font-size="25.0">−</text><text x="731.5" y="253.1" text-anchor="end" font-size="25.0">1.2</text></g>
<polyline clip-path="url(#cB)" fill="none" stroke="#ff0000" stroke-width="3.60" stroke-linejoin="round" stroke-linecap="butt" points="736.1,116.6 736.4,115.4 736.6,114.2 736.9,113.0 737.2,111.8 737.5,110.5 737.8,109.3 738.0,108.1 738.3,106.8 738.6,105.5 738.9,104.3 739.2,103.0 739.4,101.7 739.7,100.4 740.0,99.1 740.3,97.8 740.6,96.5 740.9,95.2 741.1,94.0 741.4,92.7 741.7,91.4 742.0,90.1 742.3,88.8 742.5,87.5 742.8,86.2 743.1,84.9 743.4,83.6 743.7,82.3 743.9,81.0 744.2,79.7 744.5,78.4 744.8,77.1 745.1,75.8 745.3,74.6 745.6,73.3 745.9,72.0 746.2,70.7 746.5,69.5 746.7,68.2 747.0,66.9 747.3,65.7 747.6,64.4 747.9,63.1 748.1,61.9 748.4,60.6 748.7,59.4 749.0,58.1 749.3,56.9 749.5,55.7 749.8,54.4 750.1,53.2 750.4,52.0 750.7,50.8 750.9,49.6 751.2,48.4 751.5,47.3 751.8,46.2 752.1,45.2 752.3,44.1 752.6,43.1 752.9,42.1 753.2,41.2 753.5,40.3 753.8,39.4 754.0,38.5 754.3,37.7 754.6,36.8 754.9,36.1 755.2,35.3 755.4,34.6 755.7,33.9 756.0,33.2 756.3,32.5 756.6,31.9 756.8,31.3 757.1,30.7 757.4,30.2 757.7,29.6 758.0,29.2 758.2,28.7 758.5,28.2 758.8,27.8 759.1,27.4 759.4,27.0 759.6,26.7 759.9,26.4 760.2,26.1 760.5,25.8 760.8,25.6 761.0,25.4 761.3,25.2 761.6,25.0 761.9,24.8 762.2,24.7 762.4,24.6 762.7,24.5 763.0,24.5 763.3,24.5 763.6,24.4 763.8,24.5 764.1,24.5 764.4,24.6 764.7,24.7 765.0,24.8 765.2,24.9 765.5,25.0 765.8,25.2 766.1,25.4 766.4,25.6 766.7,25.9 766.9,26.2 767.2,26.4 767.5,26.8 767.8,27.1 768.1,27.4 768.3,27.8 768.6,28.2 768.9,28.6 769.2,29.1 769.5,29.5 769.7,30.0 770.0,30.5 770.3,31.1 770.6,31.6 770.9,32.2 771.1,32.8 771.4,33.4 771.7,34.0 772.0,34.7 772.3,35.3 772.5,36.0 772.8,36.7 773.1,37.5 773.4,38.2 773.7,39.0 773.9,39.8 774.2,40.6 774.5,41.5 774.8,42.3 775.1,43.2 775.3,44.1 775.6,45.0 775.9,45.9 776.2,46.9 776.5,47.9 776.7,48.9 777.0,49.9 777.3,50.9 777.6,52.0 777.9,53.1 778.1,54.2 778.4,55.3 778.7,56.5 779.0,57.6 779.3,58.8 779.6,60.0 779.8,61.2 780.1,62.5 780.4,63.7 780.7,65.0 781.0,66.3 781.2,67.6 781.5,69.0 781.8,70.3 782.1,71.7 782.4,73.1 782.6,74.6 782.9,76.0 783.2,77.5 783.5,79.0 783.8,80.5 784.0,82.0 784.3,83.5 784.6,85.1 784.9,86.7 785.2,88.3 785.4,89.9 785.7,91.6 786.0,93.2 786.3,94.9 786.6,96.6 786.8,98.4 787.1,100.1 787.4,101.9 787.7,103.7 788.0,105.5 788.2,107.3 788.5,109.2 788.8,111.0 789.1,112.9 789.4,114.8 789.6,116.7 789.9,118.7 790.2,120.6 790.5,122.6 790.8,124.6 791.0,126.6 791.3,128.6 791.6,130.7 791.9,132.7 792.2,134.8 792.5,136.9 792.7,139.0 793.0,141.1 793.3,143.3 793.6,145.4 793.9,147.6 794.1,149.8 794.4,152.0 794.7,154.2 795.0,156.4 795.3,158.6 795.5,160.8 795.8,163.0 796.1,165.3 796.4,167.5 796.7,169.8 796.9,172.0 797.2,174.3 797.5,176.5 797.8,178.8 798.1,181.0 798.3,183.3 798.6,185.5 798.9,187.7 799.2,190.0 799.5,192.2 799.7,194.4 800.0,196.6 800.3,198.7 800.6,200.9 800.9,203.0 801.1,205.1 801.4,207.2 801.7,209.2 802.0,211.2 802.3,213.2 802.5,215.2 802.8,217.1 803.1,219.0 803.4,220.8 803.7,222.6 803.9,224.3 804.2,226.0 804.5,227.6 804.8,229.1 805.1,230.6 805.4,232.1 805.6,233.4 805.9,234.7 806.2,236.0 806.5,237.1 806.8,238.2 807.0,239.2 807.3,240.1 807.6,240.9 807.9,241.7 808.2,242.3 808.4,242.9 808.7,243.3 809.0,243.7 809.3,244.0 809.6,244.2 809.8,244.3 810.1,244.2 810.4,244.1 810.7,243.9 811.0,243.6 811.2,243.2 811.5,242.7 811.8,242.1 812.1,241.5 812.4,240.7 812.6,239.8 812.9,238.8 813.2,237.8 813.5,236.6 813.8,235.4 814.0,234.1 814.3,232.7 814.6,231.2 814.9,229.7 815.2,228.1 815.4,226.4 815.7,224.6 816.0,222.8 816.3,220.9 816.6,219.0 816.8,217.0 817.1,214.9 817.4,212.8 817.7,210.7 818.0,208.5 818.3,206.3 818.5,204.0 818.8,201.7 819.1,199.4 819.4,197.0 819.7,194.6 819.9,192.2 820.2,189.8 820.5,187.3 820.8,184.8 821.1,182.4 821.3,179.9 821.6,177.4 821.9,174.8 822.2,172.3 822.5,169.8 822.7,167.3 823.0,164.8 823.3,162.2 823.6,159.7 823.9,157.2 824.1,154.7 824.4,152.2 824.7,149.7 825.0,147.2 825.3,144.8 825.5,142.3 825.8,139.9 826.1,137.4 826.4,135.0 826.7,132.6 826.9,130.3 827.2,127.9 827.5,125.6 827.8,123.3 828.1,121.0 828.3,118.7 828.6,116.5 828.9,114.2 829.2,112.0 829.5,109.8 829.7,107.7 830.0,105.6 830.3,103.5 830.6,101.4 830.9,99.3 831.2,97.3 831.4,95.3 831.7,93.3 832.0,91.4 832.3,89.5 832.6,87.6 832.8,85.7 833.1,83.9 833.4,82.1 833.7,80.3 834.0,78.6 834.2,76.8 834.5,75.1 834.8,73.5 835.1,71.8 835.4,70.2 835.6,68.7 835.9,67.1 836.2,65.6 836.5,64.1 836.8,62.6 837.0,61.2 837.3,59.8 837.6,58.4 837.9,57.1 838.2,55.8 838.4,54.5 838.7,53.2 839.0,52.0 839.3,50.8 839.6,49.6 839.8,48.4 840.1,47.3 840.4,46.2 840.7,45.2 841.0,44.1 841.2,43.1 841.5,42.2 841.8,41.2 842.1,40.3 842.4,39.4 842.6,38.5 842.9,37.7 843.2,36.9 843.5,36.1 843.8,35.3 844.1,34.6 844.3,33.9 844.6,33.2 844.9,32.5 845.2,31.9 845.5,31.3 845.7,30.7 846.0,30.2 846.3,29.7 846.6,29.2 846.9,28.7 847.1,28.2 847.4,27.8 847.7,27.4 848.0,27.1 848.3,26.7 848.5,26.4 848.8,26.1 849.1,25.8 849.4,25.6 849.7,25.4 849.9,25.2 850.2,25.0 850.5,24.8 850.8,24.7 851.1,24.6 851.3,24.5 851.6,24.5 851.9,24.5 852.2,24.4 852.5,24.5 852.7,24.5 853.0,24.6 853.3,24.7 853.6,24.8 853.9,24.9 854.1,25.0 854.4,25.2 854.7,25.4 855.0,25.6 855.3,25.9 855.5,26.2 855.8,26.4 856.1,26.8 856.4,27.1 856.7,27.4 857.0,27.8 857.2,28.2 857.5,28.6 857.8,29.1 858.1,29.5 858.4,30.0 858.6,30.5 858.9,31.1 859.2,31.6 859.5,32.2 859.8,32.8 860.0,33.4 860.3,34.0 860.6,34.7 860.9,35.3 861.2,36.0 861.4,36.7 861.7,37.5 862.0,38.2 862.3,39.0 862.6,39.8 862.8,40.6 863.1,41.4 863.4,42.3 863.7,43.2 864.0,44.1 864.2,45.0 864.5,45.9 864.8,46.9 865.1,47.9 865.4,48.9 865.6,49.9 865.9,50.9 866.2,52.0 866.5,53.1 866.8,54.2 867.0,55.3 867.3,56.4 867.6,57.6 867.9,58.8 868.2,60.0 868.4,61.2 868.7,62.5 869.0,63.7 869.3,65.0 869.6,66.3 869.9,67.6 870.1,69.0 870.4,70.3 870.7,71.7 871.0,73.1 871.3,74.6 871.5,76.0 871.8,77.5 872.1,78.9 872.4,80.5 872.7,82.0 872.9,83.5 873.2,85.1 873.5,86.7 873.8,88.3 874.1,89.9 874.3,91.6 874.6,93.2 874.9,94.9 875.2,96.6 875.5,98.4 875.7,100.1 876.0,101.9 876.3,103.7 876.6,105.5 876.9,107.3 877.1,109.1 877.4,111.0 877.7,112.9 878.0,114.8 878.3,116.7 878.5,118.6 878.8,120.6 879.1,122.6 879.4,124.6 879.7,126.6 879.9,128.6 880.2,130.7 880.5,132.7 880.8,134.8 881.1,136.9 881.3,139.0 881.6,141.1 881.9,143.3 882.2,145.4 882.5,147.6 882.8,149.8 883.0,151.9 883.3,154.1 883.6,156.3 883.9,158.6 884.2,160.8 884.4,163.0 884.7,165.3 885.0,167.5 885.3,169.7 885.6,172.0 885.8,174.2 886.1,176.5 886.4,178.8 886.7,181.0 887.0,183.2 887.2,185.5 887.5,187.7 887.8,189.9 888.1,192.2 888.4,194.4 888.6,196.5 888.9,198.7 889.2,200.8 889.5,203.0 889.8,205.1 890.0,207.2 890.3,209.2 890.6,211.2 890.9,213.2 891.2,215.2 891.4,217.1 891.7,218.9 892.0,220.8 892.3,222.5 892.6,224.3 892.8,225.9 893.1,227.6 893.4,229.1 893.7,230.6 894.0,232.1 894.2,233.4 894.5,234.7 894.8,236.0 895.1,237.1 895.4,238.2 895.7,239.2 895.9,240.1 896.2,240.9 896.5,241.6 896.8,242.3 897.1,242.9 897.3,243.3 897.6,243.7 897.9,244.0 898.2,244.2 898.5,244.3 898.7,244.2 899.0,244.1 899.3,243.9 899.6,243.6 899.9,243.2 900.1,242.7 900.4,242.1 900.7,241.5 901.0,240.7 901.3,239.8 901.5,238.8 901.8,237.8 902.1,236.6 902.4,235.4 902.7,234.1 902.9,232.7 903.2,231.2 903.5,229.7 903.8,228.1 904.1,226.4 904.3,224.6 904.6,222.8 904.9,220.9 905.2,219.0 905.5,217.0 905.7,215.0 906.0,212.9 906.3,210.7 906.6,208.5 906.9,206.3 907.1,204.0 907.4,201.7 907.7,199.4 908.0,197.0 908.3,194.6 908.6,192.2 908.8,189.8 909.1,187.3 909.4,184.9 909.7,182.4 910.0,179.9 910.2,177.4 910.5,174.9 910.8,172.3 911.1,169.8 911.4,167.3 911.6,164.8 911.9,162.3 912.2,159.7 912.5,157.2 912.8,154.7 913.0,152.2 913.3,149.7 913.6,147.2 913.9,144.8 914.2,142.3 914.4,139.9 914.7,137.5 915.0,135.1 915.3,132.7 915.6,130.3 915.8,127.9 916.1,125.6 916.4,123.3 916.7,121.0 917.0,118.7 917.2,116.5 917.5,114.2 917.8,112.0 918.1,109.9 918.4,107.7 918.6,105.6 918.9,103.5 919.2,101.4 919.5,99.4 919.8,97.3 920.0,95.3 920.3,93.4 920.6,91.4 920.9,89.5 921.2,87.6 921.5,85.7 921.7,83.9 922.0,82.1 922.3,80.3 922.6,78.6 922.9,76.9 923.1,75.2 923.4,73.5 923.7,71.9 924.0,70.3 924.3,68.7 924.5,67.1 924.8,65.6 925.1,64.1 925.4,62.7 925.7,61.2 925.9,59.8 926.2,58.4 926.5,57.1 926.8,55.8 927.1,54.5 927.3,53.2 927.6,52.0 927.9,50.8 928.2,49.6 928.5,48.5 928.7,47.3 929.0,46.2 929.3,45.2 929.6,44.1 929.9,43.1 930.1,42.2 930.4,41.2 930.7,40.3 931.0,39.4 931.3,38.5 931.5,37.7 931.8,36.9 932.1,36.1 932.4,35.3 932.7,34.6 932.9,33.9 933.2,33.2 933.5,32.5 933.8,31.9 934.1,31.3 934.4,30.7 934.6,30.2 934.9,29.7 935.2,29.2 935.5,28.7 935.8,28.2 936.0,27.8 936.3,27.4 936.6,27.1 936.9,26.7 937.2,26.4 937.4,26.1 937.7,25.8 938.0,25.6 938.3,25.4 938.6,25.2 938.8,25.0 939.1,24.8 939.4,24.7 939.7,24.6 940.0,24.5 940.2,24.5 940.5,24.5 940.8,24.4 941.1,24.5 941.4,24.5 941.6,24.6 941.9,24.7 942.2,24.8 942.5,24.9 942.8,25.0 943.0,25.2 943.3,25.4 943.6,25.6 943.9,25.9 944.2,26.2 944.4,26.4 944.7,26.8 945.0,27.1 945.3,27.4 945.6,27.8 945.8,28.2 946.1,28.6 946.4,29.1 946.7,29.5 947.0,30.0 947.3,30.5 947.5,31.0 947.8,31.6 948.1,32.2 948.4,32.8 948.7,33.4 948.9,34.0 949.2,34.6 949.5,35.3 949.8,36.0 950.1,36.7 950.3,37.5 950.6,38.2 950.9,39.0 951.2,39.8 951.5,40.6 951.7,41.4 952.0,42.3 952.3,43.2 952.6,44.1 952.9,45.0 953.1,45.9 953.4,46.9 953.7,47.9 954.0,48.9 954.3,49.9 954.5,50.9 954.8,52.0 955.1,53.1 955.4,54.2 955.7,55.3 955.9,56.4 956.2,57.6 956.5,58.8 956.8,60.0 957.1,61.2 957.3,62.4 957.6,63.7 957.9,65.0 958.2,66.3 958.5,67.6 958.7,69.0 959.0,70.3 959.3,71.7 959.6,73.1 959.9,74.5 960.2,76.0 960.4,77.5 960.7,78.9 961.0,80.4 961.3,82.0 961.6,83.5 961.8,85.1 962.1,86.7 962.4,88.3 962.7,89.9 963.0,91.6 963.2,93.2 963.5,94.9 963.8,96.6 964.1,98.3 964.4,100.1 964.6,101.9 964.9,103.6 965.2,105.5 965.5,107.3 965.8,109.1 966.0,111.0 966.3,112.9 966.6,114.8 966.9,116.7 967.2,118.6 967.4,120.6 967.7,122.6 968.0,124.6 968.3,126.6 968.6,128.6 968.8,130.6 969.1,132.7 969.4,134.8 969.7,136.9 970.0,139.0 970.2,141.1 970.5,143.2 970.8,145.4 971.1,147.6 971.4,149.7 971.6,151.9 971.9,154.1 972.2,156.3 972.5,158.5 972.8,160.8 973.1,163.0 973.3,165.2 973.6,167.5 973.9,169.7 974.2,172.0 974.5,174.2 974.7,176.5 975.0,178.7 975.3,181.0 975.6,183.2 975.9,185.5 976.1,187.7 976.4,189.9 976.7,192.1 977.0,194.3 977.3,196.5 977.5,198.7 977.8,200.8 978.1,203.0 978.4,205.1 978.7,207.1 978.9,209.2 979.2,211.2 979.5,213.2 979.8,215.1 980.1,217.1 980.3,218.9 980.6,220.7 980.9,222.5 981.2,224.3 981.5,225.9 981.7,227.5 982.0,229.1 982.3,230.6 982.6,232.0 982.9,233.4 983.1,234.7 983.4,235.9 983.7,237.1 984.0,238.2 984.3,239.2 984.5,240.1 984.8,240.9 985.1,241.6 985.4,242.3 985.7,242.9 986.0,243.3 986.2,243.7 986.5,244.0 986.8,244.2 987.1,244.3 987.4,244.2 987.6,244.1 987.9,243.9 988.2,243.6 988.5,243.2 988.8,242.7 989.0,242.2 989.3,241.5 989.6,240.7 989.9,239.8 990.2,238.8 990.4,237.8 990.7,236.7 991.0,235.4 991.3,234.1 991.6,232.7 991.8,231.3 992.1,229.7 992.4,228.1 992.7,226.4 993.0,224.7 993.2,222.8 993.5,221.0 993.8,219.0 994.1,217.0 994.4,215.0 994.6,212.9 994.9,210.7 995.2,208.5 995.5,206.3 995.8,204.0 996.0,201.7 996.3,199.4 996.6,197.0 996.9,194.7 997.2,192.2 997.4,189.8 997.7,187.4 998.0,184.9 998.3,182.4 998.6,179.9 998.9,177.4 999.1,174.9 999.4,172.4 999.7,169.8 1000.0,167.3 1000.3,164.8 1000.5,162.3 1000.8,159.8 1001.1,157.2 1001.4,154.7 1001.7,152.2 1001.9,149.7 1002.2,147.3 1002.5,144.8 1002.8,142.3 1003.1,139.9 1003.3,137.5 1003.6,135.1 1003.9,132.7 1004.2,130.3 1004.5,128.0 1004.7,125.6 1005.0,123.3 1005.3,121.0 1005.6,118.7 1005.9,116.5 1006.1,114.3 1006.4,112.1 1006.7,109.9 1007.0,107.7 1007.3,105.6 1007.5,103.5 1007.8,101.4 1008.1,99.4 1008.4,97.3 1008.7,95.3 1008.9,93.4 1009.2,91.4 1009.5,89.5 1009.8,87.6 1010.1,85.8 1010.3,83.9 1010.6,82.1 1010.9,80.3 1011.2,78.6 1011.5,76.9 1011.8,75.2 1012.0,73.5 1012.3,71.9 1012.6,70.3 1012.9,68.7 1013.2,67.1 1013.4,65.6 1013.7,64.1 1014.0,62.7 1014.3,61.2 1014.6,59.8 1014.8,58.4 1015.1,57.1 1015.4,55.8 1015.7,54.5 1016.0,53.2 1016.2,52.0 1016.5,50.8 1016.8,49.6 1017.1,48.5 1017.4,47.3 1017.6,46.3 1017.9,45.2 1018.2,44.2 1018.5,43.1 1018.8,42.2 1019.0,41.2 1019.3,40.3 1019.6,39.4 1019.9,38.5 1020.2,37.7 1020.4,36.9 1020.7,36.1 1021.0,35.3 1021.3,34.6 1021.6,33.9 1021.8,33.2 1022.1,32.5 1022.4,31.9 1022.7,31.3 1023.0,30.7 1023.2,30.2 1023.5,29.7 1023.8,29.2 1024.1,28.7 1024.4,28.2 1024.7,27.8 1024.9,27.4 1025.2,27.1 1025.5,26.7 1025.8,26.4 1026.1,26.1 1026.3,25.8 1026.6,25.6 1026.9,25.4 1027.2,25.2 1027.5,25.0 1027.7,24.8 1028.0,24.7 1028.3,24.6 1028.6,24.5 1028.9,24.5 1029.1,24.5 1029.4,24.4 1029.7,24.5 1030.0,24.5 1030.3,24.6 1030.5,24.6 1030.8,24.8 1031.1,24.9 1031.4,25.0 1031.7,25.2 1031.9,25.4 1032.2,25.6 1032.5,25.9 1032.8,26.2 1033.1,26.4 1033.3,26.7 1033.6,27.1 1033.9,27.4 1034.2,27.8 1034.5,28.2 1034.7,28.6 1035.0,29.1 1035.3,29.5 1035.6,30.0 1035.9,30.5 1036.1,31.0 1036.4,31.6 1036.7,32.2 1037.0,32.7 1037.3,33.4 1037.6,34.0 1037.8,34.6 1038.1,35.3 1038.4,36.0 1038.7,36.7 1039.0,37.5 1039.2,38.2 1039.5,39.0 1039.8,39.8 1040.1,40.6 1040.4,41.4 1040.6,42.3 1040.9,43.2 1041.2,44.1 1041.5,45.0 1041.8,45.9 1042.0,46.9 1042.3,47.9 1042.6,48.9 1042.9,49.9 1043.2,50.9 1043.4,52.0 1043.7,53.1 1044.0,54.2 1044.3,55.3 1044.6,56.4 1044.8,57.6 1045.1,58.8 1045.4,60.0 1045.7,61.2 1046.0,62.4 1046.2,63.7 1046.5,65.0 1046.8,66.3 1047.1,67.6 1047.4,69.0 1047.6,70.3 1047.9,71.7 1048.2,73.1 1048.5,74.5 1048.8,76.0 1049.0,77.4 1049.3,78.9 1049.6,80.4 1049.9,82.0 1050.2,83.5 1050.5,85.1 1050.7,86.7 1051.0,88.3 1051.3,89.9 1051.6,91.5 1051.9,93.2 1052.1,94.9 1052.4,96.6 1052.7,98.3 1053.0,100.1 1053.3,101.8 1053.5,103.6 1053.8,105.4 1054.1,107.3 1054.4,109.1 1054.7,111.0 1054.9,112.9 1055.2,114.8 1055.5,116.7 1055.8,118.6 1056.1,120.6 1056.3,122.6 1056.6,124.5 1056.9,126.6 1057.2,128.6 1057.5,130.6 1057.7,132.7 1058.0,134.8 1058.3,136.9 1058.6,139.0 1058.9,141.1 1059.1,143.2 1059.4,145.4 1059.7,147.5 1060.0,149.7 1060.3,151.9 1060.5,154.1 1060.8,156.3 1061.1,158.5 1061.4,160.7 1061.7,163.0 1061.9,165.2 1062.2,167.5 1062.5,169.7 1062.8,172.0 1063.1,174.2 1063.4,176.5 1063.6,178.7 1063.9,181.0 1064.2,183.2 1064.5,185.4 1064.8,187.7 1065.0,189.9 1065.3,192.1 1065.6,194.3 1065.9,196.5 1066.2,198.7 1066.4,200.8 1066.7,202.9 1067.0,205.0 1067.3,207.1 1067.6,209.2 1067.8,211.2 1068.1,213.2 1068.4,215.1 1068.7,217.0 1069.0,218.9 1069.2,220.7 1069.5,222.5 1069.8,224.2 1070.1,225.9 1070.4,227.5 1070.6,229.1 1070.9,230.6 1071.2,232.0 1071.5,233.4 1071.8,234.7 1072.0,235.9 1072.3,237.1 1072.6,238.2 1072.9,239.2 1073.2,240.1 1073.4,240.9 1073.7,241.6 1074.0,242.3 1074.3,242.8 1074.6,243.3 1074.8,243.7 1075.1,244.0 1075.4,244.2 1075.7,244.3 1076.0,244.2 1076.3,244.1 1076.5,243.9 1076.8,243.6 1077.1,243.2 1077.4,242.7 1077.7,242.2 1077.9,241.5 1078.2,240.7 1078.5,239.8 1078.8,238.9 1079.1,237.8 1079.3,236.7 1079.6,235.4 1079.9,234.1 1080.2,232.7 1080.5,231.3 1080.7,229.7 1081.0,228.1 1081.3,226.4 1081.6,224.7 1081.9,222.8 1082.1,221.0 1082.4,219.0 1082.7,217.0 1083.0,215.0 1083.3,212.9 1083.5,210.7 1083.8,208.6 1084.1,206.3 1084.4,204.1 1084.7,201.8 1084.9,199.4 1085.2,197.1 1085.5,194.7 1085.8,192.3 1086.1,189.8 1086.3,187.4 1086.6,184.9 1086.9,182.4 1087.2,179.9 1087.5,177.4 1087.7,174.9 1088.0,172.4 1088.3,169.9 1088.6,167.3 1088.9,164.8 1089.2,162.3 1089.4,159.8 1089.7,157.3 1090.0,154.8 1090.3,152.3 1090.6,149.8 1090.8,147.3 1091.1,144.8 1091.4,142.4 1091.7,139.9 1092.0,137.5 1092.2,135.1 1092.5,132.7 1092.8,130.3 1093.1,128.0 1093.4,125.6 1093.6,123.3 1093.9,121.0 1094.2,118.8 1094.5,116.5 1094.8,114.3 1095.0,112.1 1095.3,109.9 1095.6,107.7 1095.9,105.6 1096.2,103.5 1096.4,101.4 1096.7,99.4 1097.0,97.4 1097.3,95.4 1097.6,93.4 1097.8,91.4 1098.1,89.5 1098.4,87.6 1098.7,85.8 1099.0,83.9 1099.2,82.1 1099.5,80.3 1099.8,78.6 1100.1,76.9 1100.4,75.2 1100.6,73.5 1100.9,71.9 1101.2,70.3 1101.5,68.7 1101.8,67.1 1102.1,65.6 1102.3,64.1 1102.6,62.7 1102.9,61.2 1103.2,59.8 1103.5,58.5 1103.7,57.1 1104.0,55.8 1104.3,54.5 1104.6,53.2 1104.9,52.0 1105.1,50.8 1105.4,49.6 1105.7,48.5 1106.0,47.4 1106.3,46.3 1106.5,45.2 1106.8,44.2 1107.1,43.2 1107.4,42.2 1107.7,41.2 1107.9,40.3 1108.2,39.4 1108.5,38.5 1108.8,37.7 1109.1,36.9 1109.3,36.1 1109.6,35.3 1109.9,34.6 1110.2,33.9 1110.5,33.2 1110.7,32.5 1111.0,31.9 1111.3,31.3 1111.6,30.7 1111.9,30.2 1112.1,29.7 1112.4,29.2 1112.7,28.7 1113.0,28.2 1113.3,27.8 1113.5,27.4 1113.8,27.1 1114.1,26.7 1114.4,26.4 1114.7,26.1 1115.0,25.8 1115.2,25.6 1115.5,25.4 1115.8,25.2 1116.1,25.0 1116.4,24.8 1116.6,24.7 1116.9,24.6 1117.2,24.5 1117.5,24.5 1117.8,24.5 1118.0,24.4 1118.3,24.5 1118.6,24.5 1118.9,24.6 1119.2,24.6 1119.4,24.8 1119.7,24.9 1120.0,25.0 1120.3,25.2 1120.6,25.4 1120.8,25.6 1121.1,25.9 1121.4,26.1 1121.7,26.4 1122.0,26.7 1122.2,27.1 1122.5,27.4 1122.8,27.8 1123.1,28.2 1123.4,28.6 1123.6,29.1 1123.9,29.5 1124.2,30.0 1124.5,30.5 1124.8,31.0 1125.0,31.6 1125.3,32.2 1125.6,32.7 1125.9,33.4 1126.2,34.0 1126.4,34.6 1126.7,35.3 1127.0,36.0 1127.3,36.7 1127.6,37.4 1127.9,38.2 1128.1,39.0 1128.4,39.8 1128.7,40.6 1129.0,41.4 1129.3,42.3 1129.5,43.2 1129.8,44.1 1130.1,45.0 1130.4,45.9 1130.7,46.9 1130.9,47.9 1131.2,48.9 1131.5,49.9 1131.8,50.9 1132.1,52.0 1132.3,53.1 1132.6,54.2 1132.9,55.3 1133.2,56.4 1133.5,57.6 1133.7,58.8 1134.0,60.0 1134.3,61.2 1134.6,62.4 1134.9,63.7 1135.1,65.0 1135.4,66.3 1135.7,67.6 1136.0,68.9 1136.3,70.3 1136.5,71.7 1136.8,73.1 1137.1,74.5 1137.4,76.0 1137.7,77.4 1137.9,78.9 1138.2,80.4 1138.5,81.9 1138.8,83.5 1139.1,85.1 1139.3,86.6 1139.6,88.3 1139.9,89.9 1140.2,91.5 1140.5,93.2 1140.8,94.9 1141.0,96.6 1141.3,98.3 1141.6,100.1 1141.9,101.8 1142.2,103.6 1142.4,105.4 1142.7,107.2 1143.0,109.1 1143.3,111.0 1143.6,112.8 1143.8,114.7 1144.1,116.7 1144.4,118.6 1144.7,120.6 1145.0,122.5 1145.2,124.5 1145.5,126.5 1145.8,128.6 1146.1,130.6 1146.4,132.7 1146.6,134.8 1146.9,136.8 1147.2,139.0 1147.5,141.1 1147.8,143.2 1148.0,145.4 1148.3,147.5 1148.6,149.7 1148.9,151.9 1149.2,154.1 1149.4,156.3 1149.7,158.5 1150.0,160.7 1150.3,163.0 1150.6,165.2 1150.8,167.4 1151.1,169.7 1151.4,171.9 1151.7,174.2 1152.0,176.4 1152.2,178.7 1152.5,180.9 1152.8,183.2 1153.1,185.4 1153.4,187.7 1153.7,189.9 1153.9,192.1 1154.2,194.3 1154.5,196.5 1154.8,198.7 1155.1,200.8 1155.3,202.9 1155.6,205.0 1155.9,207.1 1156.2,209.2 1156.5,211.2 1156.7,213.2 1157.0,215.1 1157.3,217.0 1157.6,218.9 1157.9,220.7 1158.1,222.5 1158.4,224.2 1158.7,225.9 1159.0,227.5 1159.3,229.1 1159.5,230.6 1159.8,232.0 1160.1,233.4 1160.4,234.7 1160.7,235.9 1160.9,237.1 1161.2,238.2 1161.5,239.1 1161.8,240.1 1162.1,240.9 1162.3,241.6 1162.6,242.3 1162.9,242.8 1163.2,243.3 1163.5,243.7 1163.7,244.0 1164.0,244.2 1164.3,244.3 1164.6,244.2 1164.9,244.1 1165.1,243.9 1165.4,243.6 1165.7,243.2 1166.0,242.8 1166.3,242.2 1166.6,241.5 1166.8,240.7 1167.1,239.8 1167.4,238.9 1167.7,237.8 1168.0,236.7 1168.2,235.4 1168.5,234.1 1168.8,232.7 1169.1,231.3 1169.4,229.7 1169.6,228.1 1169.9,226.4 1170.2,224.7 1170.5,222.9 1170.8,221.0 1171.0,219.0 1171.3,217.0 1171.6,215.0 1171.9,212.9 1172.2,210.8 1172.4,208.6 1172.7,206.3 1173.0,204.1 1173.3,201.8 1173.6,199.4 1173.8,197.1 1174.1,194.7 1174.4,192.3 1174.7,189.8 1175.0,187.4 1175.2,184.9 1175.5,182.4 1175.8,179.9 1176.1,177.3 1176.4,174.7 1176.6,172.0 1176.9,169.4 1177.2,166.8 1177.5,164.2 1177.8,161.5 1178.0,158.9 1178.3,156.3 1178.6,153.7 1178.9,151.1 1179.2,148.5 1179.5,145.9 1179.7,143.3 1180.0,140.8 1180.3,138.2 1180.6,135.7 1180.9,133.2 1181.1,130.7 1181.4,128.2 1181.7,125.8 1182.0,123.3 1182.3,120.9 1182.5,118.5 1182.8,116.2 1183.1,113.8 1183.4,111.5 1183.7,109.2 1183.9,106.9 1184.2,104.6 1184.5,102.4"/>
<rect x="125.20" y="332.15" width="442.50" height="161.55" fill="none" stroke="#383838" stroke-width="1.30"/>
<path d="M213.70 493.70v-4.50M213.70 332.15v4.50M302.20 493.70v-4.50M302.20 332.15v4.50M390.70 493.70v-4.50M390.70 332.15v4.50M479.20 493.70v-4.50M479.20 332.15v4.50M125.20 364.46h4.50M567.70 364.46h-4.50M125.20 396.77h4.50M567.70 396.77h-4.50M125.20 429.08h4.50M567.70 429.08h-4.50M125.20 461.39h4.50M567.70 461.39h-4.50" fill="none" stroke="#383838" stroke-width="1.10"/>
<text x="125.2" y="522.0" text-anchor="middle" font-size="25.0">0</text>
<text x="213.7" y="522.0" text-anchor="middle" font-size="25.0">5</text>
<text x="302.2" y="522.0" text-anchor="middle" font-size="25.0">10</text>
<text x="390.7" y="522.0" text-anchor="middle" font-size="25.0">15</text>
<text x="479.2" y="522.0" text-anchor="middle" font-size="25.0">20</text>
<text x="567.7" y="522.0" text-anchor="middle" font-size="25.0">25</text>
<text x="115.3" y="340.8" text-anchor="end" font-size="25.0">0.4642</text>
<text x="115.3" y="373.1" text-anchor="end" font-size="25.0">0.4640</text>
<text x="115.3" y="405.4" text-anchor="end" font-size="25.0">0.4638</text>
<text x="115.3" y="437.7" text-anchor="end" font-size="25.0">0.4636</text>
<text x="115.3" y="470.0" text-anchor="end" font-size="25.0">0.4634</text>
<text x="115.3" y="502.3" text-anchor="end" font-size="25.0">0.4632</text>
<polyline clip-path="url(#cC)" fill="none" stroke="#ff0000" stroke-width="3.60" stroke-linejoin="round" stroke-linecap="butt" points="107.5,464.9 125.2,408.7 142.9,352.5 585.4,352.5"/>
<rect x="741.40" y="332.15" width="443.10" height="161.55" fill="none" stroke="#383838" stroke-width="1.30"/>
<path d="M830.02 493.70v-4.50M830.02 332.15v4.50M918.64 493.70v-4.50M918.64 332.15v4.50M1007.26 493.70v-4.50M1007.26 332.15v4.50M1095.88 493.70v-4.50M1095.88 332.15v4.50M741.40 364.46h4.50M1184.50 364.46h-4.50M741.40 396.77h4.50M1184.50 396.77h-4.50M741.40 429.08h4.50M1184.50 429.08h-4.50M741.40 461.39h4.50M1184.50 461.39h-4.50" fill="none" stroke="#383838" stroke-width="1.10"/>
<text x="741.4" y="522.0" text-anchor="middle" font-size="25.0">0</text>
<text x="830.0" y="522.0" text-anchor="middle" font-size="25.0">1</text>
<text x="918.6" y="522.0" text-anchor="middle" font-size="25.0">2</text>
<text x="1007.3" y="522.0" text-anchor="middle" font-size="25.0">3</text>
<text x="1095.9" y="522.0" text-anchor="middle" font-size="25.0">4</text>
<text x="1184.5" y="522.0" text-anchor="middle" font-size="25.0">5</text>
<text x="731.5" y="340.8" text-anchor="end" font-size="25.0">0.4642</text>
<text x="731.5" y="373.1" text-anchor="end" font-size="25.0">0.4640</text>
<text x="731.5" y="405.4" text-anchor="end" font-size="25.0">0.4638</text>
<text x="731.5" y="437.7" text-anchor="end" font-size="25.0">0.4636</text>
<text x="731.5" y="470.0" text-anchor="end" font-size="25.0">0.4634</text>
<text x="731.5" y="502.3" text-anchor="end" font-size="25.0">0.4632</text>
<polyline clip-path="url(#cD)" fill="none" stroke="#ff0000" stroke-width="3.60" stroke-linejoin="round" stroke-linecap="butt" points="652.8,352.5 1273.1,352.5"/>
<rect x="424.8" y="43.7" width="120.8" height="114.1" rx="3.3" ry="3.3" fill="#fff" stroke="#cccccc" stroke-width="1.1"/>
<line x1="432.9" x2="475.6" y1="60.2" y2="60.2" stroke="#ff0000" stroke-width="3.7"/>
<text x="485.2" y="67.2" font-size="25.0" font-style="italic">k</text>
<text transform="translate(501.1 70.9) scale(1.42 1.2)" font-size="25.0">=</text>
<text x="525.5" y="67.2" font-size="25.0">0</text>
<line x1="432.9" x2="475.6" y1="87.3" y2="87.3" stroke="#0000ff" stroke-width="3.7"/>
<text x="485.2" y="94.4" font-size="25.0" font-style="italic">k</text>
<text transform="translate(501.1 98.1) scale(1.42 1.2)" font-size="25.0">=</text>
<text x="525.5" y="94.4" font-size="25.0">1</text>
<line x1="432.9" x2="475.6" y1="114.4" y2="114.4" stroke="#ba00ba" stroke-width="3.7"/>
<text x="485.2" y="121.6" font-size="25.0" font-style="italic">k</text>
<text transform="translate(501.1 125.3) scale(1.42 1.2)" font-size="25.0">=</text>
<text x="525.5" y="121.6" font-size="25.0">2</text>
<line x1="432.9" x2="475.6" y1="141.5" y2="141.5" stroke="#000000" stroke-width="3.7"/>
<text x="485.2" y="148.8" font-size="25.0" font-style="italic">k</text>
<text transform="translate(502.9 152.2) scale(1.24 1.12)" font-size="25.0">&gt;</text>
<text x="525.5" y="148.8" font-size="25.0">2</text>
<text x="2.0" y="24.3" font-size="29.3">(<tspan dx="0.6" font-style="italic">a</tspan><tspan dx="0.6">)</tspan></text>
<text x="618.4" y="24.3" font-size="29.3">(<tspan dx="0.6" font-style="italic">b</tspan><tspan dx="0.6">)</tspan></text>
<text x="1006.1" y="232.5" font-size="25.0" font-style="italic">k</text>
<text transform="translate(1022.0 236.2) scale(1.42 1.2)" font-size="25.0">=</text>
<text x="1046.4" y="232.5" font-size="25.0">0</text>
<text x="362.9" y="379.2" font-size="25.0" font-style="italic">k</text>
<text transform="translate(378.8 382.9) scale(1.42 1.2)" font-size="25.0">=</text>
<text x="403.2" y="379.2" font-size="25.0">0</text>
<text x="1006.1" y="379.2" font-size="25.0" font-style="italic">k</text>
<text transform="translate(1022.0 382.9) scale(1.42 1.2)" font-size="25.0">=</text>
<text x="1046.4" y="379.2" font-size="25.0">0</text>
<text transform="translate(52.1 131.5) rotate(-90)" font-size="28.0"><tspan x="-37">log </tspan><tspan dx="3.2" font-style="italic" font-size="29.3">E</tspan><tspan dx="0.5" dy="5.2" font-style="italic" font-size="20.4">k</tspan></text>
<text transform="translate(661.9 131.5) rotate(-90)" font-size="28.0"><tspan x="-37">log </tspan><tspan dx="3.2" font-style="italic" font-size="29.3">E</tspan><tspan dx="0.5" dy="5.2" font-size="20.4">0</tspan></text>
<text x="1.0" y="418.6" font-size="29.3"><tspan font-style="italic">E</tspan><tspan dx="0.3" dy="5.4" font-size="20.7">0</tspan></text>
<text x="617.0" y="418.6" font-size="29.3"><tspan font-style="italic">E</tspan><tspan dx="0.3" dy="5.4" font-size="20.7">0</tspan></text>
<text x="326.0" y="560.6" font-size="28.7" font-style="italic">t</text>
<text x="335.7" y="566.3" font-size="38.5">/</text>
<text x="348.0" y="560.6" font-size="29.2" font-style="italic">T</text>
<text x="942.5" y="560.6" font-size="28.7" font-style="italic">t</text>
<text x="952.2" y="566.3" font-size="38.5">/</text>
<text x="964.5" y="560.6" font-size="29.2" font-style="italic">T</text>
</svg>
</body>
</html>
